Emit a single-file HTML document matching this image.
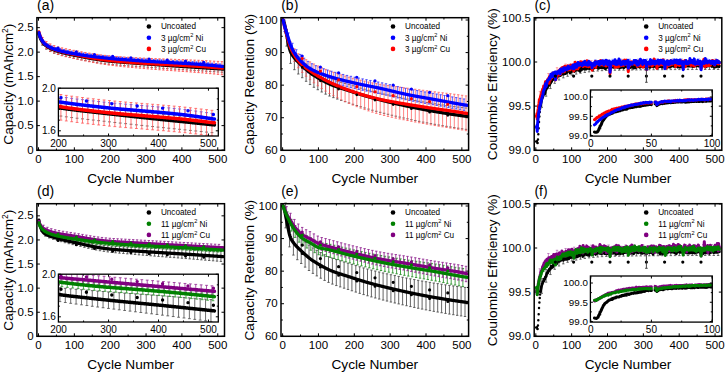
<!DOCTYPE html>
<html><head><meta charset="utf-8"><style>
html,body{margin:0;padding:0;background:#fff;overflow:hidden;}
svg{display:block;}
</style></head><body>
<svg width="725" height="372" viewBox="0 0 725 372" font-family='"Liberation Sans", sans-serif' fill="#000">
<rect width="725" height="372" fill="#fff"/>
<path d="M38.5 150.3v-3.0M38.5 17.7v3.0M74.35 150.3v-3.0M74.35 17.7v3.0M110.2 150.3v-3.0M110.2 17.7v3.0M146.05 150.3v-3.0M146.05 17.7v3.0M181.9 150.3v-3.0M181.9 17.7v3.0M217.75 150.3v-3.0M217.75 17.7v3.0" stroke="#000" stroke-width="1.0"/>
<path d="M56.42 150.3v-1.8M56.42 17.7v1.8M92.28 150.3v-1.8M92.28 17.7v1.8M128.12 150.3v-1.8M128.12 17.7v1.8M163.97 150.3v-1.8M163.97 17.7v1.8M199.82 150.3v-1.8M199.82 17.7v1.8" stroke="#000" stroke-width="1.0"/>
<path d="M36.9 150.1h3.0M224.5 150.1h-3.0M36.9 125.61h3.0M224.5 125.61h-3.0M36.9 101.12h3.0M224.5 101.12h-3.0M36.9 76.63h3.0M224.5 76.63h-3.0M36.9 52.14h3.0M224.5 52.14h-3.0M36.9 27.65h3.0M224.5 27.65h-3.0" stroke="#000" stroke-width="1.0"/>
<path d="" stroke="#000" stroke-width="1.0"/>
<text x="38.5" y="163.2" font-size="11.5" text-anchor="middle" >0</text>
<text x="74.35" y="163.2" font-size="11.5" text-anchor="middle" >100</text>
<text x="110.2" y="163.2" font-size="11.5" text-anchor="middle" >200</text>
<text x="146.05" y="163.2" font-size="11.5" text-anchor="middle" >300</text>
<text x="181.9" y="163.2" font-size="11.5" text-anchor="middle" >400</text>
<text x="217.75" y="163.2" font-size="11.5" text-anchor="middle" >500</text>
<text x="33.6" y="153.7" font-size="11.5" text-anchor="end" >0</text>
<text x="33.6" y="129.21" font-size="11.5" text-anchor="end" >0.5</text>
<text x="33.6" y="104.72" font-size="11.5" text-anchor="end" >1.0</text>
<text x="33.6" y="80.23" font-size="11.5" text-anchor="end" >1.5</text>
<text x="33.6" y="55.74" font-size="11.5" text-anchor="end" >2.0</text>
<text x="33.6" y="31.25" font-size="11.5" text-anchor="end" >2.5</text>
<text x="130.7" y="183.2" font-size="13.7" text-anchor="middle" >Cycle Number</text>
<text transform="translate(13.4,84.2) rotate(-90)" font-size="13.7" text-anchor="middle">Capacity (mAh/cm<tspan font-size="8.5" dy="-5">2</tspan><tspan dy="5">)</tspan></text>
<text x="37.1" y="9.8" font-size="14" text-anchor="start" >(a)</text>
<path d="M42.5 45.28V39.65M41.3 45.28h2.4M41.3 39.65h2.4M46.4 49.18V43.54M45.2 49.18h2.4M45.2 43.54h2.4M50.3 51.53V45.89M49.1 51.53h2.4M49.1 45.89h2.4M54.2 53.23V47.6M53 53.23h2.4M53 47.6h2.4M58.1 54.54V48.91M56.9 54.54h2.4M56.9 48.91h2.4M62 55.63V49.99M60.8 55.63h2.4M60.8 49.99h2.4M65.9 56.59V50.95M64.7 56.59h2.4M64.7 50.95h2.4M69.8 57.46V51.83M68.6 57.46h2.4M68.6 51.83h2.4M73.7 58.27V52.64M72.5 58.27h2.4M72.5 52.64h2.4" stroke="#4a4a4a" stroke-width="0.85" fill="none" opacity="1.0"/>
<path d="M76.4 59.04h2.4M76.4 53.41h2.4M80.3 59.81h2.4M80.3 54.18h2.4M84.2 60.57h2.4M84.2 54.94h2.4M88.1 61.29h2.4M88.1 55.66h2.4M92 61.97h2.4M92 56.34h2.4M95.9 62.6h2.4M95.9 56.96h2.4M99.8 63.16h2.4M99.8 57.53h2.4M103.7 63.68h2.4M103.7 58.04h2.4M107.6 64.14h2.4M107.6 58.5h2.4M111.5 64.54h2.4M111.5 58.91h2.4M115.4 64.9h2.4M115.4 59.27h2.4M119.3 65.23h2.4M119.3 59.59h2.4M123.2 65.53h2.4M123.2 59.9h2.4M127.1 65.82h2.4M127.1 60.18h2.4M131 66.1h2.4M131 60.46h2.4M134.9 66.37h2.4M134.9 60.74h2.4M138.8 66.65h2.4M138.8 61.01h2.4M142.7 66.92h2.4M142.7 61.29h2.4M146.6 67.21h2.4M146.6 61.57h2.4M150.5 67.49h2.4M150.5 61.85h2.4M154.4 67.76h2.4M154.4 62.13h2.4M158.3 68.04h2.4M158.3 62.41h2.4M162.2 68.31h2.4M162.2 62.68h2.4M166.1 68.58h2.4M166.1 62.95h2.4M170 68.85h2.4M170 63.22h2.4M173.9 69.12h2.4M173.9 63.48h2.4M177.8 69.38h2.4M177.8 63.75h2.4M181.7 69.64h2.4M181.7 64.01h2.4M185.6 69.9h2.4M185.6 64.26h2.4M189.5 70.15h2.4M189.5 64.52h2.4M193.4 70.4h2.4M193.4 64.77h2.4M197.3 70.65h2.4M197.3 65.02h2.4M201.2 70.91h2.4M201.2 65.28h2.4M205.1 71.17h2.4M205.1 65.53h2.4M209 71.42h2.4M209 65.79h2.4M212.9 71.68h2.4M212.9 66.05h2.4M216.8 71.94h2.4M216.8 66.31h2.4M220.7 72.19h2.4M220.7 66.56h2.4" stroke="#4a4a4a" stroke-width="0.85" fill="none" opacity="1.0"/>
<path d="M40.5 39.34V35.18M39.3 39.34h2.4M39.3 35.18h2.4M44.4 45.31V41.15M43.2 45.31h2.4M43.2 41.15h2.4M48.3 48.26V44.09M47.1 48.26h2.4M47.1 44.09h2.4M52.2 50.21V46.05M51 50.21h2.4M51 46.05h2.4M56.1 51.64V47.48M54.9 51.64h2.4M54.9 47.48h2.4M60 52.77V48.61M58.8 52.77h2.4M58.8 48.61h2.4M63.9 53.72V49.55M62.7 53.72h2.4M62.7 49.55h2.4M67.8 54.55V50.38M66.6 54.55h2.4M66.6 50.38h2.4M71.7 55.29V51.13M70.5 55.29h2.4M70.5 51.13h2.4M75.6 55.97V51.8M74.4 55.97h2.4M74.4 51.8h2.4M79.5 56.6V52.44M78.3 56.6h2.4M78.3 52.44h2.4M83.4 57.19V53.03M82.2 57.19h2.4M82.2 53.03h2.4M87.3 57.75V53.58M86.1 57.75h2.4M86.1 53.58h2.4M91.2 58.27V54.1M90 58.27h2.4M90 54.1h2.4M95.1 58.75V54.59M93.9 58.75h2.4M93.9 54.59h2.4M99 59.21V55.04M97.8 59.21h2.4M97.8 55.04h2.4M102.9 59.64V55.47M101.7 59.64h2.4M101.7 55.47h2.4M106.8 60.04V55.87M105.6 60.04h2.4M105.6 55.87h2.4M110.7 60.42V56.25M109.5 60.42h2.4M109.5 56.25h2.4M114.6 60.77V56.61M113.4 60.77h2.4M113.4 56.61h2.4M118.5 61.11V56.95M117.3 61.11h2.4M117.3 56.95h2.4M122.4 61.43V57.27M121.2 61.43h2.4M121.2 57.27h2.4M126.3 61.74V57.58M125.1 61.74h2.4M125.1 57.58h2.4M130.2 62.04V57.88M129 62.04h2.4M129 57.88h2.4M134.1 62.33V58.17M132.9 62.33h2.4M132.9 58.17h2.4M138 62.61V58.44M136.8 62.61h2.4M136.8 58.44h2.4M141.9 62.88V58.72M140.7 62.88h2.4M140.7 58.72h2.4M145.8 63.14V58.98M144.6 63.14h2.4M144.6 58.98h2.4M149.7 63.39V59.23M148.5 63.39h2.4M148.5 59.23h2.4M153.6 63.63V59.46M152.4 63.63h2.4M152.4 59.46h2.4M157.5 63.85V59.68M156.3 63.85h2.4M156.3 59.68h2.4M161.4 64.06V59.89M160.2 64.06h2.4M160.2 59.89h2.4M165.3 64.27V60.1M164.1 64.27h2.4M164.1 60.1h2.4M169.2 64.47V60.31M168 64.47h2.4M168 60.31h2.4M173.1 64.68V60.52M171.9 64.68h2.4M171.9 60.52h2.4M177 64.89V60.73M175.8 64.89h2.4M175.8 60.73h2.4M180.9 65.11V60.95M179.7 65.11h2.4M179.7 60.95h2.4M184.8 65.33V61.17M183.6 65.33h2.4M183.6 61.17h2.4M188.7 65.57V61.41M187.5 65.57h2.4M187.5 61.41h2.4M192.6 65.81V61.65M191.4 65.81h2.4M191.4 61.65h2.4M196.5 66.07V61.9M195.3 66.07h2.4M195.3 61.9h2.4M200.4 66.35V62.19M199.2 66.35h2.4M199.2 62.19h2.4M204.3 66.67V62.51M203.1 66.67h2.4M203.1 62.51h2.4M208.2 67.01V62.85M207 67.01h2.4M207 62.85h2.4M212.1 67.37V63.2M210.9 67.37h2.4M210.9 63.2h2.4M216 67.73V63.57M214.8 67.73h2.4M214.8 63.57h2.4M219.9 68.1V63.94M218.7 68.1h2.4M218.7 63.94h2.4" stroke="#3838ff" stroke-width="0.85" fill="none" opacity="1.0"/>
<path d="M42.5 44.49V37.5M41.3 44.49h2.4M41.3 37.5h2.4M46.4 48.71V41.58M45.2 48.71h2.4M45.2 41.58h2.4M50.3 51.22V43.96M49.1 51.22h2.4M49.1 43.96h2.4M54.2 53.03V45.64M53 53.03h2.4M53 45.64h2.4M58.1 54.41V46.88M56.9 54.41h2.4M56.9 46.88h2.4M62 55.56V47.9M60.8 55.56h2.4M60.8 47.9h2.4M65.9 56.58V48.79M64.7 56.58h2.4M64.7 48.79h2.4M69.8 57.52V49.59M68.6 57.52h2.4M68.6 49.59h2.4M73.7 58.4V50.34M72.5 58.4h2.4M72.5 50.34h2.4M77.6 59.25V51.05M76.4 59.25h2.4M76.4 51.05h2.4M81.5 60.1V51.78M80.3 60.1h2.4M80.3 51.78h2.4M85.4 60.95V52.49M84.2 60.95h2.4M84.2 52.49h2.4M89.3 61.76V53.17M88.1 61.76h2.4M88.1 53.17h2.4M93.2 62.53V53.8M92 62.53h2.4M92 53.8h2.4M97.1 63.24V54.38M95.9 63.24h2.4M95.9 54.38h2.4M101 63.9V54.9M99.8 63.9h2.4M99.8 54.9h2.4M104.9 64.49V55.37M103.7 64.49h2.4M103.7 55.37h2.4M108.8 65.04V55.78M107.6 65.04h2.4M107.6 55.78h2.4M112.7 65.53V56.13M111.5 65.53h2.4M111.5 56.13h2.4M116.6 65.98V56.45M115.4 65.98h2.4M115.4 56.45h2.4M120.5 66.4V56.74M119.3 66.4h2.4M119.3 56.74h2.4M124.4 66.79V57M123.2 66.79h2.4M123.2 57h2.4M128.3 67.17V57.25M127.1 67.17h2.4M127.1 57.25h2.4M132.2 67.53V57.47M131 67.53h2.4M131 57.47h2.4M136.1 67.88V57.69M134.9 67.88h2.4M134.9 57.69h2.4M140 68.23V57.9M138.8 68.23h2.4M138.8 57.9h2.4M143.9 68.56V58.1M142.7 68.56h2.4M142.7 58.1h2.4M147.8 68.89V58.3M146.6 68.89h2.4M146.6 58.3h2.4M151.7 69.2V58.48M150.5 69.2h2.4M150.5 58.48h2.4M155.6 69.5V58.64M154.4 69.5h2.4M154.4 58.64h2.4M159.5 69.78V58.79M158.3 69.78h2.4M158.3 58.79h2.4M163.4 70.06V58.93M162.2 70.06h2.4M162.2 58.93h2.4M167.3 70.33V59.07M166.1 70.33h2.4M166.1 59.07h2.4M171.2 70.6V59.21M170 70.6h2.4M170 59.21h2.4M175.1 70.87V59.35M173.9 70.87h2.4M173.9 59.35h2.4M179 71.15V59.49M177.8 71.15h2.4M177.8 59.49h2.4M182.9 71.43V59.64M181.7 71.43h2.4M181.7 59.64h2.4M186.8 71.71V59.79M185.6 71.71h2.4M185.6 59.79h2.4M190.7 72V59.95M189.5 72h2.4M189.5 59.95h2.4M194.6 72.3V60.11M193.4 72.3h2.4M193.4 60.11h2.4M198.5 72.61V60.29M197.3 72.61h2.4M197.3 60.29h2.4M202.4 72.94V60.48M201.2 72.94h2.4M201.2 60.48h2.4M206.3 73.29V60.7M205.1 73.29h2.4M205.1 60.7h2.4M210.2 73.65V60.93M209 73.65h2.4M209 60.93h2.4M214.1 74.01V61.16M212.9 74.01h2.4M212.9 61.16h2.4M218 74.38V61.39M216.8 74.38h2.4M216.8 61.39h2.4M221.9 74.75V61.63M220.7 74.75h2.4M220.7 61.63h2.4" stroke="#ff5050" stroke-width="0.85" fill="none" opacity="1.0"/>
<polyline points="38.86,33.53 39.22,34.91 39.58,36.14 39.93,37.12 40.29,37.94 40.65,38.7 41.01,39.45 41.37,40.17 41.73,40.84 42.09,41.45 42.44,42.02 42.8,42.53 43.16,43 43.52,43.42 43.88,43.81 44.24,44.17 44.59,44.51 44.95,44.84 45.31,45.14 45.67,45.44 46.03,45.72 46.39,45.98 46.75,46.24 47.1,46.49 47.46,46.72 47.82,46.95 48.18,47.17 48.54,47.39 48.9,47.59 49.25,47.79 49.61,47.99 49.97,48.17 50.33,48.36 50.69,48.53 51.05,48.71 51.41,48.88 51.76,49.04 52.12,49.2 52.48,49.36 52.84,49.51 53.2,49.66 53.56,49.8 53.92,49.94 54.27,50.07 54.63,50.21 54.99,50.34 55.35,50.46 55.71,50.59 56.07,50.71 56.42,50.83 56.78,50.94 57.14,51.06 57.5,51.17 57.86,51.28 58.22,51.39 58.58,51.5 58.93,51.6 59.29,51.71 59.65,51.81 60.01,51.91 60.37,52.01 60.73,52.11 61.09,52.2 61.44,52.3 61.8,52.39 62.16,52.49 62.52,52.58 62.88,52.67 63.24,52.76 63.59,52.85 63.95,52.94 64.31,53.02 64.67,53.11 65.03,53.2 65.39,53.28 65.75,53.37 66.1,53.45 66.46,53.53 66.82,53.61 67.18,53.7 67.54,53.78 67.9,53.86 68.26,53.94 68.61,54.02 68.97,54.09 69.33,54.17 69.69,54.25 70.05,54.33 70.41,54.4 70.77,54.48 71.12,54.56 71.48,54.63 71.84,54.7 72.2,54.78 72.56,54.85 72.92,54.93 73.27,55 73.63,55.07 73.99,55.14 74.35,55.22 74.71,55.29 75.07,55.36 75.43,55.43 75.78,55.5 76.14,55.57 76.5,55.64 76.86,55.71 77.22,55.78 77.58,55.85 77.94,55.92 78.29,55.99 78.65,56.06 79.01,56.13 79.37,56.21 79.73,56.28 80.09,56.35 80.44,56.42 80.8,56.49 81.16,56.56 81.52,56.63 81.88,56.7 82.24,56.77 82.6,56.84 82.95,56.91 83.31,56.98 83.67,57.05 84.03,57.12 84.39,57.19 84.75,57.26 85.1,57.33 85.46,57.4 85.82,57.47 86.18,57.54 86.54,57.6 86.9,57.67 87.26,57.74 87.61,57.8 87.97,57.87 88.33,57.94 88.69,58 89.05,58.07 89.41,58.13 89.77,58.19 90.12,58.26 90.48,58.32 90.84,58.38 91.2,58.45 91.56,58.51 91.92,58.57 92.28,58.63 92.63,58.69 92.99,58.75 93.35,58.81 93.71,58.87 94.07,58.93 94.43,58.99 94.78,59.05 95.14,59.11 95.5,59.16 95.86,59.22 96.22,59.28 96.58,59.33 96.94,59.39 97.29,59.44 97.65,59.5 98.01,59.55 98.37,59.6 98.73,59.66 99.09,59.71 99.44,59.76 99.8,59.81 100.16,59.86 100.52,59.91 100.88,59.96 101.24,60.01 101.6,60.06 101.95,60.11 102.31,60.16 102.67,60.21 103.03,60.25 103.39,60.3 103.75,60.35 104.11,60.39 104.46,60.44 104.82,60.48 105.18,60.53 105.54,60.57 105.9,60.62 106.26,60.66 106.61,60.7 106.97,60.74 107.33,60.79 107.69,60.83 108.05,60.87 108.41,60.91 108.77,60.95 109.12,60.99 109.48,61.03 109.84,61.07 110.2,61.1 110.56,61.14 110.92,61.18 111.28,61.21 111.63,61.25 111.99,61.29 112.35,61.32 112.71,61.36 113.07,61.39 113.43,61.43 113.78,61.46 114.14,61.49 114.5,61.53 114.86,61.56 115.22,61.59 115.58,61.63 115.94,61.66 116.29,61.69 116.65,61.72 117.01,61.75 117.37,61.78 117.73,61.81 118.09,61.84 118.45,61.87 118.8,61.9 119.16,61.93 119.52,61.96 119.88,61.99 120.24,62.02 120.6,62.05 120.95,62.08 121.31,62.11 121.67,62.14 122.03,62.16 122.39,62.19 122.75,62.22 123.11,62.25 123.46,62.27 123.82,62.3 124.18,62.33 124.54,62.36 124.9,62.38 125.26,62.41 125.62,62.44 125.97,62.46 126.33,62.49 126.69,62.52 127.05,62.54 127.41,62.57 127.77,62.59 128.12,62.62 128.48,62.65 128.84,62.67 129.2,62.7 129.56,62.72 129.92,62.75 130.28,62.78 130.63,62.8 130.99,62.83 131.35,62.85 131.71,62.88 132.07,62.9 132.43,62.93 132.79,62.95 133.14,62.98 133.5,63.01 133.86,63.03 134.22,63.06 134.58,63.08 134.94,63.11 135.3,63.13 135.65,63.16 136.01,63.18 136.37,63.21 136.73,63.23 137.09,63.26 137.45,63.28 137.8,63.31 138.16,63.33 138.52,63.36 138.88,63.38 139.24,63.41 139.6,63.43 139.96,63.46 140.31,63.49 140.67,63.51 141.03,63.54 141.39,63.56 141.75,63.59 142.11,63.61 142.46,63.64 142.82,63.66 143.18,63.69 143.54,63.71 143.9,63.74 144.26,63.77 144.62,63.79 144.97,63.82 145.33,63.84 145.69,63.87 146.05,63.9 146.41,63.92 146.77,63.95 147.13,63.97 147.48,64 147.84,64.02 148.2,64.05 148.56,64.08 148.92,64.1 149.28,64.13 149.63,64.15 149.99,64.18 150.35,64.21 150.71,64.23 151.07,64.26 151.43,64.28 151.79,64.31 152.14,64.33 152.5,64.36 152.86,64.39 153.22,64.41 153.58,64.44 153.94,64.46 154.3,64.49 154.65,64.51 155.01,64.54 155.37,64.56 155.73,64.59 156.09,64.61 156.45,64.64 156.81,64.67 157.16,64.69 157.52,64.72 157.88,64.74 158.24,64.77 158.6,64.79 158.96,64.82 159.31,64.84 159.67,64.87 160.03,64.89 160.39,64.92 160.75,64.94 161.11,64.97 161.47,64.99 161.82,65.02 162.18,65.04 162.54,65.07 162.9,65.09 163.26,65.12 163.62,65.14 163.97,65.17 164.33,65.19 164.69,65.22 165.05,65.24 165.41,65.27 165.77,65.29 166.13,65.32 166.48,65.34 166.84,65.37 167.2,65.39 167.56,65.42 167.92,65.44 168.28,65.47 168.64,65.49 168.99,65.52 169.35,65.54 169.71,65.56 170.07,65.59 170.43,65.61 170.79,65.64 171.14,65.66 171.5,65.69 171.86,65.71 172.22,65.74 172.58,65.76 172.94,65.79 173.3,65.81 173.65,65.83 174.01,65.86 174.37,65.88 174.73,65.91 175.09,65.93 175.45,65.96 175.81,65.98 176.16,66 176.52,66.03 176.88,66.05 177.24,66.08 177.6,66.1 177.96,66.12 178.31,66.15 178.67,66.17 179.03,66.2 179.39,66.22 179.75,66.24 180.11,66.27 180.47,66.29 180.82,66.32 181.18,66.34 181.54,66.36 181.9,66.39 182.26,66.41 182.62,66.44 182.98,66.46 183.33,66.48 183.69,66.51 184.05,66.53 184.41,66.55 184.77,66.58 185.13,66.6 185.48,66.62 185.84,66.65 186.2,66.67 186.56,66.7 186.92,66.72 187.28,66.74 187.64,66.77 187.99,66.79 188.35,66.81 188.71,66.84 189.07,66.86 189.43,66.88 189.79,66.91 190.15,66.93 190.5,66.95 190.86,66.98 191.22,67 191.58,67.02 191.94,67.05 192.3,67.07 192.66,67.09 193.01,67.12 193.37,67.14 193.73,67.16 194.09,67.19 194.45,67.21 194.81,67.23 195.16,67.25 195.52,67.28 195.88,67.3 196.24,67.32 196.6,67.35 196.96,67.37 197.32,67.39 197.67,67.42 198.03,67.44 198.39,67.46 198.75,67.49 199.11,67.51 199.47,67.53 199.82,67.56 200.18,67.58 200.54,67.6 200.9,67.63 201.26,67.65 201.62,67.67 201.98,67.7 202.33,67.72 202.69,67.74 203.05,67.77 203.41,67.79 203.77,67.81 204.13,67.84 204.49,67.86 204.84,67.89 205.2,67.91 205.56,67.93 205.92,67.96 206.28,67.98 206.64,68 207,68.03 207.35,68.05 207.71,68.08 208.07,68.1 208.43,68.12 208.79,68.15 209.15,68.17 209.5,68.19 209.86,68.22 210.22,68.24 210.58,68.27 210.94,68.29 211.3,68.31 211.66,68.34 212.01,68.36 212.37,68.38 212.73,68.41 213.09,68.43 213.45,68.46 213.81,68.48 214.16,68.5 214.52,68.53 214.88,68.55 215.24,68.57 215.6,68.6 215.96,68.62 216.32,68.64 216.67,68.67 217.03,68.69 217.39,68.71 217.75,68.74 218.11,68.76 218.47,68.79 218.83,68.81 219.18,68.83 219.54,68.86 219.9,68.88 220.26,68.9 220.62,68.93 220.98,68.95 221.33,68.97 221.69,68.99 222.05,69.02 222.41,69.04 222.77,69.06 223.13,69.09" fill="none" stroke="#000000" stroke-width="3.3" stroke-linejoin="round" stroke-linecap="round" />
<polyline points="38.86,31.81 39.22,33.25 39.58,34.55 39.93,35.6 40.29,36.47 40.65,37.28 41.01,38.11 41.37,38.89 41.73,39.62 42.09,40.29 42.44,40.9 42.8,41.45 43.16,41.96 43.52,42.42 43.88,42.83 44.24,43.22 44.59,43.58 44.95,43.92 45.31,44.24 45.67,44.55 46.03,44.85 46.39,45.13 46.75,45.4 47.1,45.66 47.46,45.9 47.82,46.14 48.18,46.37 48.54,46.59 48.9,46.81 49.25,47.02 49.61,47.22 49.97,47.41 50.33,47.6 50.69,47.78 51.05,47.96 51.41,48.13 51.76,48.3 52.12,48.47 52.48,48.63 52.84,48.78 53.2,48.93 53.56,49.07 53.92,49.22 54.27,49.35 54.63,49.49 54.99,49.62 55.35,49.74 55.71,49.87 56.07,49.99 56.42,50.11 56.78,50.22 57.14,50.34 57.5,50.45 57.86,50.56 58.22,50.67 58.58,50.77 58.93,50.88 59.29,50.98 59.65,51.08 60.01,51.18 60.37,51.28 60.73,51.38 61.09,51.47 61.44,51.57 61.8,51.66 62.16,51.75 62.52,51.85 62.88,51.94 63.24,52.03 63.59,52.11 63.95,52.2 64.31,52.29 64.67,52.37 65.03,52.46 65.39,52.54 65.75,52.63 66.1,52.71 66.46,52.79 66.82,52.88 67.18,52.96 67.54,53.04 67.9,53.12 68.26,53.2 68.61,53.28 68.97,53.35 69.33,53.43 69.69,53.51 70.05,53.59 70.41,53.66 70.77,53.74 71.12,53.81 71.48,53.89 71.84,53.96 72.2,54.04 72.56,54.11 72.92,54.19 73.27,54.26 73.63,54.33 73.99,54.4 74.35,54.48 74.71,54.55 75.07,54.62 75.43,54.69 75.78,54.76 76.14,54.83 76.5,54.9 76.86,54.98 77.22,55.05 77.58,55.12 77.94,55.19 78.29,55.26 78.65,55.34 79.01,55.41 79.37,55.48 79.73,55.55 80.09,55.63 80.44,55.7 80.8,55.77 81.16,55.84 81.52,55.92 81.88,55.99 82.24,56.06 82.6,56.13 82.95,56.2 83.31,56.28 83.67,56.35 84.03,56.42 84.39,56.49 84.75,56.56 85.1,56.63 85.46,56.7 85.82,56.77 86.18,56.84 86.54,56.91 86.9,56.98 87.26,57.05 87.61,57.12 87.97,57.18 88.33,57.25 88.69,57.32 89.05,57.38 89.41,57.45 89.77,57.52 90.12,57.58 90.48,57.65 90.84,57.71 91.2,57.78 91.56,57.84 91.92,57.9 92.28,57.97 92.63,58.03 92.99,58.09 93.35,58.15 93.71,58.21 94.07,58.28 94.43,58.34 94.78,58.4 95.14,58.46 95.5,58.51 95.86,58.57 96.22,58.63 96.58,58.69 96.94,58.74 97.29,58.8 97.65,58.86 98.01,58.91 98.37,58.97 98.73,59.02 99.09,59.08 99.44,59.13 99.8,59.18 100.16,59.24 100.52,59.29 100.88,59.34 101.24,59.39 101.6,59.44 101.95,59.49 102.31,59.54 102.67,59.59 103.03,59.64 103.39,59.69 103.75,59.74 104.11,59.78 104.46,59.83 104.82,59.88 105.18,59.92 105.54,59.97 105.9,60.01 106.26,60.06 106.61,60.1 106.97,60.14 107.33,60.19 107.69,60.23 108.05,60.27 108.41,60.31 108.77,60.36 109.12,60.4 109.48,60.44 109.84,60.48 110.2,60.52 110.56,60.55 110.92,60.59 111.28,60.63 111.63,60.67 111.99,60.71 112.35,60.74 112.71,60.78 113.07,60.82 113.43,60.85 113.78,60.89 114.14,60.92 114.5,60.96 114.86,60.99 115.22,61.03 115.58,61.06 115.94,61.1 116.29,61.13 116.65,61.17 117.01,61.2 117.37,61.23 117.73,61.26 118.09,61.3 118.45,61.33 118.8,61.36 119.16,61.39 119.52,61.43 119.88,61.46 120.24,61.49 120.6,61.52 120.95,61.55 121.31,61.58 121.67,61.61 122.03,61.64 122.39,61.67 122.75,61.7 123.11,61.73 123.46,61.76 123.82,61.79 124.18,61.82 124.54,61.85 124.9,61.88 125.26,61.91 125.62,61.94 125.97,61.96 126.33,61.99 126.69,62.02 127.05,62.05 127.41,62.08 127.77,62.11 128.12,62.13 128.48,62.16 128.84,62.19 129.2,62.22 129.56,62.24 129.92,62.27 130.28,62.3 130.63,62.32 130.99,62.35 131.35,62.38 131.71,62.4 132.07,62.43 132.43,62.46 132.79,62.48 133.14,62.51 133.5,62.53 133.86,62.56 134.22,62.59 134.58,62.61 134.94,62.64 135.3,62.66 135.65,62.69 136.01,62.71 136.37,62.74 136.73,62.77 137.09,62.79 137.45,62.82 137.8,62.84 138.16,62.87 138.52,62.89 138.88,62.92 139.24,62.94 139.6,62.97 139.96,62.99 140.31,63.02 140.67,63.04 141.03,63.07 141.39,63.09 141.75,63.11 142.11,63.14 142.46,63.16 142.82,63.19 143.18,63.21 143.54,63.24 143.9,63.26 144.26,63.28 144.62,63.31 144.97,63.33 145.33,63.36 145.69,63.38 146.05,63.41 146.41,63.43 146.77,63.45 147.13,63.48 147.48,63.5 147.84,63.52 148.2,63.55 148.56,63.57 148.92,63.59 149.28,63.61 149.63,63.64 149.99,63.66 150.35,63.68 150.71,63.7 151.07,63.72 151.43,63.75 151.79,63.77 152.14,63.79 152.5,63.81 152.86,63.83 153.22,63.85 153.58,63.87 153.94,63.89 154.3,63.91 154.65,63.93 155.01,63.96 155.37,63.98 155.73,64 156.09,64.02 156.45,64.04 156.81,64.06 157.16,64.08 157.52,64.1 157.88,64.12 158.24,64.13 158.6,64.15 158.96,64.17 159.31,64.19 159.67,64.21 160.03,64.23 160.39,64.25 160.75,64.27 161.11,64.29 161.47,64.31 161.82,64.33 162.18,64.35 162.54,64.37 162.9,64.38 163.26,64.4 163.62,64.42 163.97,64.44 164.33,64.46 164.69,64.48 165.05,64.5 165.41,64.52 165.77,64.53 166.13,64.55 166.48,64.57 166.84,64.59 167.2,64.61 167.56,64.63 167.92,64.65 168.28,64.67 168.64,64.68 168.99,64.7 169.35,64.72 169.71,64.74 170.07,64.76 170.43,64.78 170.79,64.8 171.14,64.81 171.5,64.83 171.86,64.85 172.22,64.87 172.58,64.89 172.94,64.91 173.3,64.93 173.65,64.94 174.01,64.96 174.37,64.98 174.73,65 175.09,65.02 175.45,65.04 175.81,65.06 176.16,65.08 176.52,65.09 176.88,65.11 177.24,65.13 177.6,65.15 177.96,65.17 178.31,65.19 178.67,65.21 179.03,65.23 179.39,65.25 179.75,65.26 180.11,65.28 180.47,65.3 180.82,65.32 181.18,65.34 181.54,65.36 181.9,65.38 182.26,65.4 182.62,65.42 182.98,65.44 183.33,65.46 183.69,65.48 184.05,65.5 184.41,65.52 184.77,65.54 185.13,65.56 185.48,65.58 185.84,65.6 186.2,65.62 186.56,65.64 186.92,65.66 187.28,65.68 187.64,65.7 187.99,65.72 188.35,65.74 188.71,65.76 189.07,65.78 189.43,65.8 189.79,65.82 190.15,65.84 190.5,65.86 190.86,65.88 191.22,65.9 191.58,65.92 191.94,65.94 192.3,65.96 192.66,65.98 193.01,66 193.37,66.03 193.73,66.05 194.09,66.07 194.45,66.09 194.81,66.11 195.16,66.13 195.52,66.15 195.88,66.18 196.24,66.2 196.6,66.22 196.96,66.24 197.32,66.26 197.67,66.29 198.03,66.31 198.39,66.33 198.75,66.35 199.11,66.38 199.47,66.4 199.82,66.42 200.18,66.45 200.54,66.47 200.9,66.5 201.26,66.52 201.62,66.55 201.98,66.57 202.33,66.6 202.69,66.62 203.05,66.65 203.41,66.67 203.77,66.7 204.13,66.72 204.49,66.75 204.84,66.77 205.2,66.8 205.56,66.82 205.92,66.85 206.28,66.88 206.64,66.9 207,66.93 207.35,66.96 207.71,66.98 208.07,67.01 208.43,67.04 208.79,67.06 209.15,67.09 209.5,67.12 209.86,67.14 210.22,67.17 210.58,67.2 210.94,67.22 211.3,67.25 211.66,67.28 212.01,67.31 212.37,67.33 212.73,67.36 213.09,67.39 213.45,67.42 213.81,67.44 214.16,67.47 214.52,67.5 214.88,67.53 215.24,67.55 215.6,67.58 215.96,67.61 216.32,67.64 216.67,67.66 217.03,67.69 217.39,67.72 217.75,67.75 218.11,67.77 218.47,67.8 218.83,67.83 219.18,67.86 219.54,67.88 219.9,67.91 220.26,67.94 220.62,67.97 220.98,67.99 221.33,68.02 221.69,68.05 222.05,68.07 222.41,68.1 222.77,68.13 223.13,68.16" fill="none" stroke="#ff0000" stroke-width="3.3" stroke-linejoin="round" stroke-linecap="round" />
<polyline points="38.86,32.79 39.22,34.05 39.58,35.22 39.93,36.17 40.29,36.96 40.65,37.7 41.01,38.45 41.37,39.17 41.73,39.84 42.09,40.46 42.44,41.03 42.8,41.54 43.16,42.02 43.52,42.44 43.88,42.83 44.24,43.2 44.59,43.54 44.95,43.86 45.31,44.17 45.67,44.47 46.03,44.75 46.39,45.02 46.75,45.28 47.1,45.53 47.46,45.77 47.82,46 48.18,46.22 48.54,46.44 48.9,46.64 49.25,46.84 49.61,47.03 49.97,47.22 50.33,47.4 50.69,47.57 51.05,47.74 51.41,47.91 51.76,48.07 52.12,48.22 52.48,48.37 52.84,48.52 53.2,48.66 53.56,48.8 53.92,48.93 54.27,49.06 54.63,49.19 54.99,49.31 55.35,49.44 55.71,49.55 56.07,49.67 56.42,49.79 56.78,49.9 57.14,50.01 57.5,50.11 57.86,50.22 58.22,50.32 58.58,50.42 58.93,50.52 59.29,50.62 59.65,50.72 60.01,50.81 60.37,50.91 60.73,51 61.09,51.09 61.44,51.18 61.8,51.27 62.16,51.35 62.52,51.44 62.88,51.52 63.24,51.61 63.59,51.69 63.95,51.77 64.31,51.85 64.67,51.93 65.03,52.01 65.39,52.09 65.75,52.16 66.1,52.24 66.46,52.31 66.82,52.39 67.18,52.46 67.54,52.53 67.9,52.61 68.26,52.68 68.61,52.75 68.97,52.82 69.33,52.89 69.69,52.96 70.05,53.02 70.41,53.09 70.77,53.16 71.12,53.22 71.48,53.29 71.84,53.35 72.2,53.42 72.56,53.48 72.92,53.55 73.27,53.61 73.63,53.67 73.99,53.74 74.35,53.8 74.71,53.86 75.07,53.92 75.43,53.98 75.78,54.04 76.14,54.1 76.5,54.16 76.86,54.22 77.22,54.28 77.58,54.33 77.94,54.39 78.29,54.45 78.65,54.51 79.01,54.56 79.37,54.62 79.73,54.68 80.09,54.73 80.44,54.79 80.8,54.84 81.16,54.9 81.52,54.95 81.88,55.01 82.24,55.06 82.6,55.11 82.95,55.17 83.31,55.22 83.67,55.27 84.03,55.32 84.39,55.38 84.75,55.43 85.1,55.48 85.46,55.53 85.82,55.58 86.18,55.63 86.54,55.68 86.9,55.73 87.26,55.78 87.61,55.83 87.97,55.88 88.33,55.93 88.69,55.98 89.05,56.02 89.41,56.07 89.77,56.12 90.12,56.17 90.48,56.21 90.84,56.26 91.2,56.31 91.56,56.35 91.92,56.4 92.28,56.44 92.63,56.49 92.99,56.53 93.35,56.58 93.71,56.62 94.07,56.67 94.43,56.71 94.78,56.75 95.14,56.8 95.5,56.84 95.86,56.88 96.22,56.93 96.58,56.97 96.94,57.01 97.29,57.05 97.65,57.09 98.01,57.14 98.37,57.18 98.73,57.22 99.09,57.26 99.44,57.3 99.8,57.34 100.16,57.38 100.52,57.42 100.88,57.46 101.24,57.5 101.6,57.54 101.95,57.58 102.31,57.61 102.67,57.65 103.03,57.69 103.39,57.73 103.75,57.77 104.11,57.8 104.46,57.84 104.82,57.88 105.18,57.91 105.54,57.95 105.9,57.99 106.26,58.02 106.61,58.06 106.97,58.1 107.33,58.13 107.69,58.17 108.05,58.2 108.41,58.24 108.77,58.27 109.12,58.31 109.48,58.34 109.84,58.38 110.2,58.41 110.56,58.44 110.92,58.48 111.28,58.51 111.63,58.54 111.99,58.58 112.35,58.61 112.71,58.64 113.07,58.68 113.43,58.71 113.78,58.74 114.14,58.77 114.5,58.8 114.86,58.84 115.22,58.87 115.58,58.9 115.94,58.93 116.29,58.96 116.65,58.99 117.01,59.02 117.37,59.06 117.73,59.09 118.09,59.12 118.45,59.15 118.8,59.18 119.16,59.21 119.52,59.24 119.88,59.27 120.24,59.3 120.6,59.33 120.95,59.36 121.31,59.39 121.67,59.41 122.03,59.44 122.39,59.47 122.75,59.5 123.11,59.53 123.46,59.56 123.82,59.59 124.18,59.62 124.54,59.65 124.9,59.67 125.26,59.7 125.62,59.73 125.97,59.76 126.33,59.79 126.69,59.81 127.05,59.84 127.41,59.87 127.77,59.9 128.12,59.92 128.48,59.95 128.84,59.98 129.2,60.01 129.56,60.03 129.92,60.06 130.28,60.09 130.63,60.11 130.99,60.14 131.35,60.17 131.71,60.19 132.07,60.22 132.43,60.25 132.79,60.27 133.14,60.3 133.5,60.33 133.86,60.35 134.22,60.38 134.58,60.4 134.94,60.43 135.3,60.46 135.65,60.48 136.01,60.51 136.37,60.53 136.73,60.56 137.09,60.58 137.45,60.61 137.8,60.63 138.16,60.66 138.52,60.69 138.88,60.71 139.24,60.74 139.6,60.76 139.96,60.79 140.31,60.81 140.67,60.84 141.03,60.86 141.39,60.88 141.75,60.91 142.11,60.93 142.46,60.96 142.82,60.98 143.18,61.01 143.54,61.03 143.9,61.06 144.26,61.08 144.62,61.1 144.97,61.13 145.33,61.15 145.69,61.18 146.05,61.2 146.41,61.23 146.77,61.25 147.13,61.27 147.48,61.3 147.84,61.32 148.2,61.34 148.56,61.36 148.92,61.39 149.28,61.41 149.63,61.43 149.99,61.45 150.35,61.48 150.71,61.5 151.07,61.52 151.43,61.54 151.79,61.56 152.14,61.58 152.5,61.6 152.86,61.63 153.22,61.65 153.58,61.67 153.94,61.69 154.3,61.71 154.65,61.73 155.01,61.75 155.37,61.77 155.73,61.79 156.09,61.81 156.45,61.83 156.81,61.85 157.16,61.87 157.52,61.89 157.88,61.91 158.24,61.93 158.6,61.95 158.96,61.97 159.31,61.99 159.67,62.01 160.03,62.03 160.39,62.04 160.75,62.06 161.11,62.08 161.47,62.1 161.82,62.12 162.18,62.14 162.54,62.16 162.9,62.18 163.26,62.2 163.62,62.22 163.97,62.24 164.33,62.25 164.69,62.27 165.05,62.29 165.41,62.31 165.77,62.33 166.13,62.35 166.48,62.37 166.84,62.39 167.2,62.41 167.56,62.43 167.92,62.44 168.28,62.46 168.64,62.48 168.99,62.5 169.35,62.52 169.71,62.54 170.07,62.56 170.43,62.58 170.79,62.6 171.14,62.62 171.5,62.63 171.86,62.65 172.22,62.67 172.58,62.69 172.94,62.71 173.3,62.73 173.65,62.75 174.01,62.77 174.37,62.79 174.73,62.81 175.09,62.83 175.45,62.85 175.81,62.87 176.16,62.89 176.52,62.91 176.88,62.93 177.24,62.94 177.6,62.96 177.96,62.98 178.31,63 178.67,63.02 179.03,63.04 179.39,63.06 179.75,63.08 180.11,63.1 180.47,63.12 180.82,63.15 181.18,63.17 181.54,63.19 181.9,63.21 182.26,63.23 182.62,63.25 182.98,63.27 183.33,63.29 183.69,63.31 184.05,63.33 184.41,63.35 184.77,63.37 185.13,63.39 185.48,63.42 185.84,63.44 186.2,63.46 186.56,63.48 186.92,63.5 187.28,63.52 187.64,63.54 187.99,63.57 188.35,63.59 188.71,63.61 189.07,63.63 189.43,63.65 189.79,63.68 190.15,63.7 190.5,63.72 190.86,63.74 191.22,63.77 191.58,63.79 191.94,63.81 192.3,63.83 192.66,63.86 193.01,63.88 193.37,63.9 193.73,63.93 194.09,63.95 194.45,63.97 194.81,64 195.16,64.02 195.52,64.04 195.88,64.07 196.24,64.09 196.6,64.12 196.96,64.14 197.32,64.16 197.67,64.19 198.03,64.22 198.39,64.24 198.75,64.27 199.11,64.29 199.47,64.32 199.82,64.35 200.18,64.38 200.54,64.4 200.9,64.43 201.26,64.46 201.62,64.49 201.98,64.52 202.33,64.55 202.69,64.57 203.05,64.6 203.41,64.63 203.77,64.66 204.13,64.69 204.49,64.72 204.84,64.76 205.2,64.79 205.56,64.82 205.92,64.85 206.28,64.88 206.64,64.91 207,64.94 207.35,64.98 207.71,65.01 208.07,65.04 208.43,65.07 208.79,65.1 209.15,65.14 209.5,65.17 209.86,65.2 210.22,65.23 210.58,65.27 210.94,65.3 211.3,65.33 211.66,65.37 212.01,65.4 212.37,65.43 212.73,65.47 213.09,65.5 213.45,65.53 213.81,65.57 214.16,65.6 214.52,65.63 214.88,65.67 215.24,65.7 215.6,65.74 215.96,65.77 216.32,65.8 216.67,65.84 217.03,65.87 217.39,65.9 217.75,65.94 218.11,65.97 218.47,66.01 218.83,66.04 219.18,66.07 219.54,66.11 219.9,66.14 220.26,66.17 220.62,66.21 220.98,66.24 221.33,66.28 221.69,66.31 222.05,66.34 222.41,66.38 222.77,66.41 223.13,66.44" fill="none" stroke="#0000ff" stroke-width="3.3" stroke-linejoin="round" stroke-linecap="round" />
<path d="M56.5 48.09a1.6 1.6 0 1 0 3.2 0a1.6 1.6 0 1 0 -3.2 0M74.7 51.93a1.6 1.6 0 1 0 3.2 0a1.6 1.6 0 1 0 -3.2 0M92.9 54.52a1.6 1.6 0 1 0 3.2 0a1.6 1.6 0 1 0 -3.2 0M111.1 56.44a1.6 1.6 0 1 0 3.2 0a1.6 1.6 0 1 0 -3.2 0M129.3 57.93a1.6 1.6 0 1 0 3.2 0a1.6 1.6 0 1 0 -3.2 0M147.5 59.2a1.6 1.6 0 1 0 3.2 0a1.6 1.6 0 1 0 -3.2 0M165.7 60.21a1.6 1.6 0 1 0 3.2 0a1.6 1.6 0 1 0 -3.2 0M183.9 61.22a1.6 1.6 0 1 0 3.2 0a1.6 1.6 0 1 0 -3.2 0M202.1 62.46a1.6 1.6 0 1 0 3.2 0a1.6 1.6 0 1 0 -3.2 0" fill="#0000ff"/>
<circle cx="148.9" cy="26.5" r="2.3" fill="#000000"/>
<text x="160.9" y="29.4" font-size="8.2" text-anchor="start" >Uncoated</text>
<circle cx="148.9" cy="37.7" r="2.3" fill="#0000ff"/>
<text x="160.9" y="40.6" font-size="8.2" text-anchor="start" >3 µg/cm<tspan font-size="5.6" dy="-3.2">2</tspan><tspan dy="3.2"> Ni</tspan></text>
<circle cx="148.9" cy="48.9" r="2.3" fill="#ff0000"/>
<text x="160.9" y="51.8" font-size="8.2" text-anchor="start" >3 µg/cm<tspan font-size="5.6" dy="-3.2">2</tspan><tspan dy="3.2"> Cu</tspan></text>
<rect x="58.4" y="88.2" width="159.9" height="47.8" fill="#fff"/>
<clipPath id="ica"><rect x="58.4" y="88.2" width="159.9" height="47.8"/></clipPath>
<g clip-path="url(#ica)">
<path d="M59.5 116.05h2.8M59.5 102.73h2.8M64.89 116.84h2.8M64.89 103.53h2.8M70.29 117.56h2.8M70.29 104.25h2.8M75.68 118.22h2.8M75.68 104.91h2.8M81.08 118.85h2.8M81.08 105.54h2.8M86.47 119.46h2.8M86.47 106.15h2.8M91.87 120.05h2.8M91.87 106.74h2.8M97.26 120.65h2.8M97.26 107.33h2.8M102.66 121.24h2.8M102.66 107.93h2.8M108.05 121.85h2.8M108.05 108.54h2.8M113.45 122.46h2.8M113.45 109.14h2.8M118.84 123.06h2.8M118.84 109.75h2.8M124.24 123.65h2.8M124.24 110.34h2.8M129.63 124.24h2.8M129.63 110.93h2.8M135.02 124.83h2.8M135.02 111.52h2.8M140.42 125.41h2.8M140.42 112.1h2.8M145.81 125.98h2.8M145.81 112.67h2.8M151.21 126.55h2.8M151.21 113.24h2.8M156.6 127.12h2.8M156.6 113.8h2.8M162 127.67h2.8M162 114.36h2.8M167.39 128.22h2.8M167.39 114.91h2.8M172.79 128.77h2.8M172.79 115.46h2.8M178.18 129.31h2.8M178.18 116h2.8M183.58 129.86h2.8M183.58 116.55h2.8M188.97 130.41h2.8M188.97 117.1h2.8M194.37 130.97h2.8M194.37 117.66h2.8M199.76 131.53h2.8M199.76 118.22h2.8M205.15 132.08h2.8M205.15 118.77h2.8M210.55 132.63h2.8M210.55 119.32h2.8" stroke="#4a4a4a" stroke-width="0.8" fill="none" opacity="1.0"/>
<path d="M60.9 107.49V96.84M59.5 107.49h2.8M59.5 96.84h2.8M66.29 108.25V97.6M64.89 108.25h2.8M64.89 97.6h2.8M71.69 108.97V98.32M70.29 108.97h2.8M70.29 98.32h2.8M77.08 109.66V99.01M75.68 109.66h2.8M75.68 99.01h2.8M82.48 110.32V99.67M81.08 110.32h2.8M81.08 99.67h2.8M87.87 110.96V100.31M86.47 110.96h2.8M86.47 100.31h2.8M93.27 111.57V100.92M91.87 111.57h2.8M91.87 100.92h2.8M98.66 112.17V101.52M97.26 112.17h2.8M97.26 101.52h2.8M104.06 112.75V102.1M102.66 112.75h2.8M102.66 102.1h2.8M109.45 113.32V102.67M108.05 113.32h2.8M108.05 102.67h2.8M114.85 113.85V103.2M113.45 113.85h2.8M113.45 103.2h2.8M120.24 114.35V103.7M118.84 114.35h2.8M118.84 103.7h2.8M125.64 114.82V104.17M124.24 114.82h2.8M124.24 104.17h2.8M131.03 115.27V104.62M129.63 115.27h2.8M129.63 104.62h2.8M136.42 115.72V105.07M135.02 115.72h2.8M135.02 105.07h2.8M141.82 116.16V105.51M140.42 116.16h2.8M140.42 105.51h2.8M147.21 116.61V105.96M145.81 116.61h2.8M145.81 105.96h2.8M152.61 117.07V106.42M151.21 117.07h2.8M151.21 106.42h2.8M158 117.54V106.89M156.6 117.54h2.8M156.6 106.89h2.8M163.4 118.03V107.38M162 118.03h2.8M162 107.38h2.8M168.79 118.54V107.89M167.39 118.54h2.8M167.39 107.89h2.8M174.19 119.07V108.42M172.79 119.07h2.8M172.79 108.42h2.8M179.58 119.63V108.98M178.18 119.63h2.8M178.18 108.98h2.8M184.98 120.25V109.6M183.58 120.25h2.8M183.58 109.6h2.8M190.37 120.94V110.29M188.97 120.94h2.8M188.97 110.29h2.8M195.77 121.69V111.04M194.37 121.69h2.8M194.37 111.04h2.8M201.16 122.46V111.81M199.76 122.46h2.8M199.76 111.81h2.8M206.55 123.25V112.6M205.15 123.25h2.8M205.15 112.6h2.8M211.95 124.04V113.39M210.55 124.04h2.8M210.55 113.39h2.8" stroke="#3838ff" stroke-width="0.8" fill="none" opacity="1.0"/>
<path d="M60.9 120.11V94.55M59.5 120.11h2.8M59.5 94.55h2.8M66.29 120.95V95.39M64.89 120.95h2.8M64.89 95.39h2.8M71.69 121.72V96.16M70.29 121.72h2.8M70.29 96.16h2.8M77.08 122.43V96.87M75.68 122.43h2.8M75.68 96.87h2.8M82.48 123.11V97.55M81.08 123.11h2.8M81.08 97.55h2.8M87.87 123.75V98.19M86.47 123.75h2.8M86.47 98.19h2.8M93.27 124.36V98.8M91.87 124.36h2.8M91.87 98.8h2.8M98.66 124.96V99.4M97.26 124.96h2.8M97.26 99.4h2.8M104.06 125.53V99.97M102.66 125.53h2.8M102.66 99.97h2.8M109.45 126.1V100.54M108.05 126.1h2.8M108.05 100.54h2.8M114.85 126.63V101.07M113.45 126.63h2.8M113.45 101.07h2.8M120.24 127.13V101.57M118.84 127.13h2.8M118.84 101.57h2.8M125.64 127.6V102.04M124.24 127.6h2.8M124.24 102.04h2.8M131.03 128.05V102.49M129.63 128.05h2.8M129.63 102.49h2.8M136.42 128.5V102.94M135.02 128.5h2.8M135.02 102.94h2.8M141.82 128.93V103.37M140.42 128.93h2.8M140.42 103.37h2.8M147.21 129.37V103.81M145.81 129.37h2.8M145.81 103.81h2.8M152.61 129.81V104.25M151.21 129.81h2.8M151.21 104.25h2.8M158 130.26V104.7M156.6 130.26h2.8M156.6 104.7h2.8M163.4 130.72V105.16M162 130.72h2.8M162 105.16h2.8M168.79 131.19V105.63M167.39 131.19h2.8M167.39 105.63h2.8M174.19 131.68V106.12M172.79 131.68h2.8M172.79 106.12h2.8M179.58 132.18V106.62M178.18 132.18h2.8M178.18 106.62h2.8M184.98 132.73V107.17M183.58 132.73h2.8M183.58 107.17h2.8M190.37 133.32V107.76M188.97 133.32h2.8M188.97 107.76h2.8M195.77 133.94V108.38M194.37 133.94h2.8M194.37 108.38h2.8M201.16 134.57V109.01M199.76 134.57h2.8M199.76 109.01h2.8M206.55 135.22V109.66M205.15 135.22h2.8M205.15 109.66h2.8M211.95 135.86V110.3M210.55 135.86h2.8M210.55 110.3h2.8" stroke="#ff5050" stroke-width="0.8" fill="none" opacity="1.0"/>
<polyline points="56.1,107.27 56.6,107.35 57.1,107.44 57.6,107.52 58.1,107.61 58.6,107.69 59.1,107.77 59.6,107.85 60.1,107.93 60.6,108.01 61.1,108.09 61.6,108.17 62.1,108.24 62.6,108.32 63.1,108.39 63.59,108.47 64.09,108.54 64.59,108.61 65.09,108.68 65.59,108.75 66.09,108.83 66.59,108.89 67.09,108.96 67.59,109.03 68.09,109.1 68.59,109.17 69.09,109.23 69.59,109.3 70.09,109.37 70.59,109.43 71.09,109.49 71.59,109.56 72.09,109.62 72.59,109.69 73.09,109.75 73.59,109.81 74.08,109.87 74.58,109.93 75.08,109.99 75.58,110.06 76.08,110.12 76.58,110.18 77.08,110.24 77.58,110.3 78.08,110.35 78.58,110.41 79.08,110.47 79.58,110.53 80.08,110.59 80.58,110.65 81.08,110.7 81.58,110.76 82.08,110.82 82.58,110.88 83.08,110.93 83.58,110.99 84.07,111.05 84.57,111.1 85.07,111.16 85.57,111.21 86.07,111.27 86.57,111.33 87.07,111.38 87.57,111.44 88.07,111.49 88.57,111.55 89.07,111.6 89.57,111.66 90.07,111.71 90.57,111.77 91.07,111.82 91.57,111.88 92.07,111.93 92.57,111.99 93.07,112.04 93.56,112.1 94.06,112.15 94.56,112.21 95.06,112.26 95.56,112.32 96.06,112.37 96.56,112.43 97.06,112.48 97.56,112.54 98.06,112.59 98.56,112.65 99.06,112.7 99.56,112.76 100.06,112.81 100.56,112.87 101.06,112.92 101.56,112.98 102.06,113.03 102.56,113.09 103.06,113.14 103.56,113.2 104.05,113.26 104.55,113.31 105.05,113.37 105.55,113.42 106.05,113.48 106.55,113.53 107.05,113.59 107.55,113.65 108.05,113.7 108.55,113.76 109.05,113.82 109.55,113.87 110.05,113.93 110.55,113.99 111.05,114.04 111.55,114.1 112.05,114.15 112.55,114.21 113.05,114.27 113.55,114.32 114.04,114.38 114.54,114.43 115.04,114.49 115.54,114.55 116.04,114.6 116.54,114.66 117.04,114.71 117.54,114.77 118.04,114.83 118.54,114.88 119.04,114.94 119.54,114.99 120.04,115.05 120.54,115.1 121.04,115.16 121.54,115.21 122.04,115.27 122.54,115.32 123.04,115.38 123.53,115.43 124.03,115.49 124.53,115.55 125.03,115.6 125.53,115.66 126.03,115.71 126.53,115.77 127.03,115.82 127.53,115.87 128.03,115.93 128.53,115.98 129.03,116.04 129.53,116.09 130.03,116.15 130.53,116.2 131.03,116.26 131.53,116.31 132.03,116.37 132.53,116.42 133.03,116.47 133.53,116.53 134.02,116.58 134.52,116.64 135.02,116.69 135.52,116.75 136.02,116.8 136.52,116.85 137.02,116.91 137.52,116.96 138.02,117.01 138.52,117.07 139.02,117.12 139.52,117.18 140.02,117.23 140.52,117.28 141.02,117.34 141.52,117.39 142.02,117.44 142.52,117.5 143.02,117.55 143.52,117.6 144.01,117.66 144.51,117.71 145.01,117.76 145.51,117.82 146.01,117.87 146.51,117.92 147.01,117.98 147.51,118.03 148.01,118.08 148.51,118.13 149.01,118.19 149.51,118.24 150.01,118.29 150.51,118.34 151.01,118.4 151.51,118.45 152.01,118.5 152.51,118.55 153.01,118.61 153.5,118.66 154,118.71 154.5,118.76 155,118.82 155.5,118.87 156,118.92 156.5,118.97 157,119.02 157.5,119.08 158,119.13 158.5,119.18 159,119.23 159.5,119.28 160,119.33 160.5,119.39 161,119.44 161.5,119.49 162,119.54 162.5,119.59 163,119.64 163.5,119.7 163.99,119.75 164.49,119.8 164.99,119.85 165.49,119.9 165.99,119.95 166.49,120 166.99,120.05 167.49,120.1 167.99,120.16 168.49,120.21 168.99,120.26 169.49,120.31 169.99,120.36 170.49,120.41 170.99,120.46 171.49,120.51 171.99,120.56 172.49,120.61 172.99,120.66 173.49,120.71 173.98,120.76 174.48,120.81 174.98,120.86 175.48,120.91 175.98,120.96 176.48,121.01 176.98,121.06 177.48,121.11 177.98,121.17 178.48,121.22 178.98,121.27 179.48,121.32 179.98,121.37 180.48,121.42 180.98,121.47 181.48,121.52 181.98,121.57 182.48,121.62 182.98,121.67 183.47,121.72 183.97,121.77 184.47,121.82 184.97,121.87 185.47,121.92 185.97,121.97 186.47,122.03 186.97,122.08 187.47,122.13 187.97,122.18 188.47,122.23 188.97,122.28 189.47,122.33 189.97,122.38 190.47,122.44 190.97,122.49 191.47,122.54 191.97,122.59 192.47,122.64 192.97,122.69 193.47,122.75 193.96,122.8 194.46,122.85 194.96,122.9 195.46,122.95 195.96,123 196.46,123.06 196.96,123.11 197.46,123.16 197.96,123.21 198.46,123.26 198.96,123.31 199.46,123.37 199.96,123.42 200.46,123.47 200.96,123.52 201.46,123.57 201.96,123.62 202.46,123.68 202.96,123.73 203.45,123.78 203.95,123.83 204.45,123.88 204.95,123.93 205.45,123.98 205.95,124.03 206.45,124.09 206.95,124.14 207.45,124.19 207.95,124.24 208.45,124.29 208.95,124.34 209.45,124.39 209.95,124.44 210.45,124.49 210.95,124.54 211.45,124.6 211.95,124.65 212.45,124.7 212.95,124.75 213.44,124.8 213.94,124.85 214.44,124.9" fill="none" stroke="#000000" stroke-width="3.5" stroke-linejoin="round" stroke-linecap="round" />
<polyline points="56.1,105.97 56.6,106.06 57.1,106.15 57.6,106.24 58.1,106.33 58.6,106.41 59.1,106.5 59.6,106.58 60.1,106.66 60.6,106.75 61.1,106.83 61.6,106.91 62.1,106.99 62.6,107.07 63.1,107.15 63.59,107.22 64.09,107.3 64.59,107.38 65.09,107.45 65.59,107.53 66.09,107.6 66.59,107.68 67.09,107.75 67.59,107.82 68.09,107.9 68.59,107.97 69.09,108.04 69.59,108.11 70.09,108.18 70.59,108.25 71.09,108.32 71.59,108.39 72.09,108.46 72.59,108.53 73.09,108.6 73.59,108.66 74.08,108.73 74.58,108.8 75.08,108.86 75.58,108.93 76.08,108.99 76.58,109.06 77.08,109.12 77.58,109.19 78.08,109.25 78.58,109.31 79.08,109.38 79.58,109.44 80.08,109.5 80.58,109.56 81.08,109.62 81.58,109.69 82.08,109.75 82.58,109.81 83.08,109.87 83.58,109.93 84.07,109.99 84.57,110.05 85.07,110.11 85.57,110.17 86.07,110.22 86.57,110.28 87.07,110.34 87.57,110.4 88.07,110.46 88.57,110.52 89.07,110.57 89.57,110.63 90.07,110.69 90.57,110.74 91.07,110.8 91.57,110.86 92.07,110.91 92.57,110.97 93.07,111.03 93.56,111.08 94.06,111.14 94.56,111.19 95.06,111.25 95.56,111.3 96.06,111.36 96.56,111.41 97.06,111.47 97.56,111.52 98.06,111.58 98.56,111.63 99.06,111.69 99.56,111.74 100.06,111.79 100.56,111.85 101.06,111.9 101.56,111.96 102.06,112.01 102.56,112.06 103.06,112.12 103.56,112.17 104.05,112.22 104.55,112.27 105.05,112.33 105.55,112.38 106.05,112.43 106.55,112.49 107.05,112.54 107.55,112.59 108.05,112.64 108.55,112.7 109.05,112.75 109.55,112.8 110.05,112.85 110.55,112.9 111.05,112.95 111.55,113 112.05,113.05 112.55,113.1 113.05,113.15 113.55,113.2 114.04,113.25 114.54,113.29 115.04,113.34 115.54,113.39 116.04,113.44 116.54,113.48 117.04,113.53 117.54,113.57 118.04,113.62 118.54,113.67 119.04,113.71 119.54,113.76 120.04,113.8 120.54,113.85 121.04,113.89 121.54,113.93 122.04,113.98 122.54,114.02 123.04,114.07 123.53,114.11 124.03,114.15 124.53,114.2 125.03,114.24 125.53,114.28 126.03,114.32 126.53,114.37 127.03,114.41 127.53,114.45 128.03,114.49 128.53,114.53 129.03,114.58 129.53,114.62 130.03,114.66 130.53,114.7 131.03,114.74 131.53,114.78 132.03,114.82 132.53,114.87 133.03,114.91 133.53,114.95 134.02,114.99 134.52,115.03 135.02,115.07 135.52,115.11 136.02,115.15 136.52,115.19 137.02,115.23 137.52,115.27 138.02,115.31 138.52,115.35 139.02,115.39 139.52,115.43 140.02,115.47 140.52,115.51 141.02,115.56 141.52,115.6 142.02,115.64 142.52,115.68 143.02,115.72 143.52,115.76 144.01,115.8 144.51,115.84 145.01,115.88 145.51,115.92 146.01,115.96 146.51,116 147.01,116.04 147.51,116.08 148.01,116.12 148.51,116.16 149.01,116.2 149.51,116.24 150.01,116.28 150.51,116.33 151.01,116.37 151.51,116.41 152.01,116.45 152.51,116.49 153.01,116.53 153.5,116.57 154,116.61 154.5,116.65 155,116.7 155.5,116.74 156,116.78 156.5,116.82 157,116.86 157.5,116.9 158,116.95 158.5,116.99 159,117.03 159.5,117.07 160,117.12 160.5,117.16 161,117.2 161.5,117.24 162,117.29 162.5,117.33 163,117.37 163.5,117.41 163.99,117.46 164.49,117.5 164.99,117.54 165.49,117.59 165.99,117.63 166.49,117.68 166.99,117.72 167.49,117.76 167.99,117.81 168.49,117.85 168.99,117.9 169.49,117.94 169.99,117.99 170.49,118.03 170.99,118.07 171.49,118.12 171.99,118.16 172.49,118.21 172.99,118.26 173.49,118.3 173.98,118.35 174.48,118.39 174.98,118.44 175.48,118.49 175.98,118.53 176.48,118.58 176.98,118.62 177.48,118.67 177.98,118.72 178.48,118.77 178.98,118.81 179.48,118.86 179.98,118.91 180.48,118.96 180.98,119.01 181.48,119.06 181.98,119.11 182.48,119.16 182.98,119.21 183.47,119.26 183.97,119.31 184.47,119.36 184.97,119.42 185.47,119.47 185.97,119.52 186.47,119.58 186.97,119.63 187.47,119.69 187.97,119.74 188.47,119.79 188.97,119.85 189.47,119.91 189.97,119.96 190.47,120.02 190.97,120.07 191.47,120.13 191.97,120.19 192.47,120.24 192.97,120.3 193.47,120.36 193.96,120.42 194.46,120.47 194.96,120.53 195.46,120.59 195.96,120.65 196.46,120.71 196.96,120.76 197.46,120.82 197.96,120.88 198.46,120.94 198.96,121 199.46,121.06 199.96,121.12 200.46,121.18 200.96,121.24 201.46,121.3 201.96,121.36 202.46,121.42 202.96,121.47 203.45,121.53 203.95,121.59 204.45,121.65 204.95,121.71 205.45,121.77 205.95,121.83 206.45,121.89 206.95,121.95 207.45,122.01 207.95,122.07 208.45,122.13 208.95,122.19 209.45,122.25 209.95,122.31 210.45,122.37 210.95,122.43 211.45,122.49 211.95,122.55 212.45,122.61 212.95,122.67 213.44,122.73 213.94,122.79 214.44,122.85" fill="none" stroke="#ff0000" stroke-width="3.5" stroke-linejoin="round" stroke-linecap="round" />
<polyline points="56.1,101.46 56.6,101.53 57.1,101.61 57.6,101.68 58.1,101.76 58.6,101.83 59.1,101.91 59.6,101.98 60.1,102.05 60.6,102.12 61.1,102.2 61.6,102.27 62.1,102.34 62.6,102.41 63.1,102.48 63.59,102.55 64.09,102.62 64.59,102.69 65.09,102.76 65.59,102.83 66.09,102.9 66.59,102.97 67.09,103.03 67.59,103.1 68.09,103.17 68.59,103.24 69.09,103.3 69.59,103.37 70.09,103.44 70.59,103.5 71.09,103.57 71.59,103.63 72.09,103.7 72.59,103.76 73.09,103.83 73.59,103.89 74.08,103.95 74.58,104.02 75.08,104.08 75.58,104.15 76.08,104.21 76.58,104.27 77.08,104.33 77.58,104.4 78.08,104.46 78.58,104.52 79.08,104.58 79.58,104.64 80.08,104.7 80.58,104.76 81.08,104.83 81.58,104.89 82.08,104.95 82.58,105.01 83.08,105.07 83.58,105.13 84.07,105.19 84.57,105.24 85.07,105.3 85.57,105.36 86.07,105.42 86.57,105.48 87.07,105.54 87.57,105.6 88.07,105.65 88.57,105.71 89.07,105.77 89.57,105.83 90.07,105.88 90.57,105.94 91.07,106 91.57,106.06 92.07,106.11 92.57,106.17 93.07,106.22 93.56,106.28 94.06,106.34 94.56,106.39 95.06,106.45 95.56,106.5 96.06,106.56 96.56,106.62 97.06,106.67 97.56,106.73 98.06,106.78 98.56,106.83 99.06,106.89 99.56,106.94 100.06,107 100.56,107.05 101.06,107.11 101.56,107.16 102.06,107.21 102.56,107.27 103.06,107.32 103.56,107.37 104.05,107.43 104.55,107.48 105.05,107.53 105.55,107.59 106.05,107.64 106.55,107.69 107.05,107.75 107.55,107.8 108.05,107.85 108.55,107.9 109.05,107.95 109.55,108.01 110.05,108.06 110.55,108.11 111.05,108.16 111.55,108.21 112.05,108.26 112.55,108.31 113.05,108.36 113.55,108.4 114.04,108.45 114.54,108.5 115.04,108.55 115.54,108.59 116.04,108.64 116.54,108.69 117.04,108.73 117.54,108.78 118.04,108.82 118.54,108.87 119.04,108.92 119.54,108.96 120.04,109 120.54,109.05 121.04,109.09 121.54,109.14 122.04,109.18 122.54,109.22 123.04,109.27 123.53,109.31 124.03,109.35 124.53,109.4 125.03,109.44 125.53,109.48 126.03,109.53 126.53,109.57 127.03,109.61 127.53,109.65 128.03,109.69 128.53,109.74 129.03,109.78 129.53,109.82 130.03,109.86 130.53,109.9 131.03,109.95 131.53,109.99 132.03,110.03 132.53,110.07 133.03,110.11 133.53,110.15 134.02,110.19 134.52,110.23 135.02,110.28 135.52,110.32 136.02,110.36 136.52,110.4 137.02,110.44 137.52,110.48 138.02,110.52 138.52,110.56 139.02,110.6 139.52,110.65 140.02,110.69 140.52,110.73 141.02,110.77 141.52,110.81 142.02,110.85 142.52,110.89 143.02,110.94 143.52,110.98 144.01,111.02 144.51,111.06 145.01,111.1 145.51,111.14 146.01,111.19 146.51,111.23 147.01,111.27 147.51,111.31 148.01,111.35 148.51,111.4 149.01,111.44 149.51,111.48 150.01,111.52 150.51,111.57 151.01,111.61 151.51,111.65 152.01,111.69 152.51,111.74 153.01,111.78 153.5,111.82 154,111.87 154.5,111.91 155,111.95 155.5,112 156,112.04 156.5,112.09 157,112.13 157.5,112.17 158,112.22 158.5,112.26 159,112.31 159.5,112.35 160,112.4 160.5,112.44 161,112.49 161.5,112.53 162,112.58 162.5,112.62 163,112.67 163.5,112.72 163.99,112.76 164.49,112.81 164.99,112.86 165.49,112.9 165.99,112.95 166.49,113 166.99,113.04 167.49,113.09 167.99,113.14 168.49,113.19 168.99,113.24 169.49,113.28 169.99,113.33 170.49,113.38 170.99,113.43 171.49,113.48 171.99,113.53 172.49,113.58 172.99,113.63 173.49,113.68 173.98,113.73 174.48,113.78 174.98,113.83 175.48,113.88 175.98,113.93 176.48,113.98 176.98,114.03 177.48,114.08 177.98,114.13 178.48,114.19 178.98,114.24 179.48,114.29 179.98,114.35 180.48,114.4 180.98,114.46 181.48,114.51 181.98,114.57 182.48,114.63 182.98,114.68 183.47,114.74 183.97,114.8 184.47,114.86 184.97,114.92 185.47,114.99 185.97,115.05 186.47,115.11 186.97,115.17 187.47,115.24 187.97,115.3 188.47,115.37 188.97,115.43 189.47,115.5 189.97,115.56 190.47,115.63 190.97,115.7 191.47,115.77 191.97,115.83 192.47,115.9 192.97,115.97 193.47,116.04 193.96,116.11 194.46,116.18 194.96,116.25 195.46,116.32 195.96,116.39 196.46,116.46 196.96,116.53 197.46,116.6 197.96,116.67 198.46,116.74 198.96,116.82 199.46,116.89 199.96,116.96 200.46,117.03 200.96,117.1 201.46,117.18 201.96,117.25 202.46,117.32 202.96,117.4 203.45,117.47 203.95,117.54 204.45,117.62 204.95,117.69 205.45,117.76 205.95,117.84 206.45,117.91 206.95,117.98 207.45,118.06 207.95,118.13 208.45,118.2 208.95,118.28 209.45,118.35 209.95,118.42 210.45,118.5 210.95,118.57 211.45,118.64 211.95,118.72 212.45,118.79 212.95,118.86 213.44,118.94 213.94,119.01 214.44,119.08" fill="none" stroke="#0000ff" stroke-width="3.5" stroke-linejoin="round" stroke-linecap="round" />
<path d="M59.3 97.68a1.7 1.7 0 1 0 3.4 0a1.7 1.7 0 1 0 -3.4 0M84.7 100.96a1.7 1.7 0 1 0 3.4 0a1.7 1.7 0 1 0 -3.4 0M110.1 103.73a1.7 1.7 0 1 0 3.4 0a1.7 1.7 0 1 0 -3.4 0M135.5 105.95a1.7 1.7 0 1 0 3.4 0a1.7 1.7 0 1 0 -3.4 0M160.9 108.13a1.7 1.7 0 1 0 3.4 0a1.7 1.7 0 1 0 -3.4 0M186.3 110.81a1.7 1.7 0 1 0 3.4 0a1.7 1.7 0 1 0 -3.4 0M211.7 114.43a1.7 1.7 0 1 0 3.4 0a1.7 1.7 0 1 0 -3.4 0" fill="#0000ff"/>
</g>
<rect x="58.4" y="88.2" width="159.9" height="47.8" fill="none" stroke="#000" stroke-width="1.3"/>
<path d="M108.55 136v-2.5M108.55 88.2v2.5M158.5 136v-2.5M158.5 88.2v2.5M208.45 136v-2.5M208.45 88.2v2.5" stroke="#000" stroke-width="1.0"/>
<path d="M83.58 136v-1.5M83.58 88.2v1.5M133.53 136v-1.5M133.53 88.2v1.5M183.47 136v-1.5M183.47 88.2v1.5" stroke="#000" stroke-width="1.0"/>
<path d="M58.4 130.8h2.5M218.3 130.8h-2.5M58.4 88.2h2.5M218.3 88.2h-2.5" stroke="#000" stroke-width="1.0"/>
<path d="M58.4 120.15h1.5M218.3 120.15h-1.5M58.4 109.5h1.5M218.3 109.5h-1.5M58.4 98.85h1.5M218.3 98.85h-1.5" stroke="#000" stroke-width="1.0"/>
<text x="58.6" y="146.9" font-size="10" text-anchor="middle" >200</text>
<text x="108.55" y="146.9" font-size="10" text-anchor="middle" >300</text>
<text x="158.5" y="146.9" font-size="10" text-anchor="middle" >400</text>
<text x="208.45" y="146.9" font-size="10" text-anchor="middle" >500</text>
<text x="55.9" y="91.7" font-size="10" text-anchor="end" >2.0</text>
<text x="55.9" y="134.3" font-size="10" text-anchor="end" >1.6</text>
<path d="M38.5 336.3v-3.0M38.5 203.7v3.0M74.35 336.3v-3.0M74.35 203.7v3.0M110.2 336.3v-3.0M110.2 203.7v3.0M146.05 336.3v-3.0M146.05 203.7v3.0M181.9 336.3v-3.0M181.9 203.7v3.0M217.75 336.3v-3.0M217.75 203.7v3.0" stroke="#000" stroke-width="1.0"/>
<path d="M56.42 336.3v-1.8M56.42 203.7v1.8M92.28 336.3v-1.8M92.28 203.7v1.8M128.12 336.3v-1.8M128.12 203.7v1.8M163.97 336.3v-1.8M163.97 203.7v1.8M199.82 336.3v-1.8M199.82 203.7v1.8" stroke="#000" stroke-width="1.0"/>
<path d="M36.9 336.34h3.0M224.5 336.34h-3.0M36.9 312.24h3.0M224.5 312.24h-3.0M36.9 288.14h3.0M224.5 288.14h-3.0M36.9 264.04h3.0M224.5 264.04h-3.0M36.9 239.94h3.0M224.5 239.94h-3.0M36.9 215.84h3.0M224.5 215.84h-3.0" stroke="#000" stroke-width="1.0"/>
<path d="" stroke="#000" stroke-width="1.0"/>
<text x="38.5" y="349.2" font-size="11.5" text-anchor="middle" >0</text>
<text x="74.35" y="349.2" font-size="11.5" text-anchor="middle" >100</text>
<text x="110.2" y="349.2" font-size="11.5" text-anchor="middle" >200</text>
<text x="146.05" y="349.2" font-size="11.5" text-anchor="middle" >300</text>
<text x="181.9" y="349.2" font-size="11.5" text-anchor="middle" >400</text>
<text x="217.75" y="349.2" font-size="11.5" text-anchor="middle" >500</text>
<text x="33.6" y="339.94" font-size="11.5" text-anchor="end" >0</text>
<text x="33.6" y="315.84" font-size="11.5" text-anchor="end" >0.5</text>
<text x="33.6" y="291.74" font-size="11.5" text-anchor="end" >1.0</text>
<text x="33.6" y="267.64" font-size="11.5" text-anchor="end" >1.5</text>
<text x="33.6" y="243.54" font-size="11.5" text-anchor="end" >2.0</text>
<text x="33.6" y="219.44" font-size="11.5" text-anchor="end" >2.5</text>
<text x="130.7" y="369.2" font-size="13.7" text-anchor="middle" >Cycle Number</text>
<text transform="translate(13.4,270.2) rotate(-90)" font-size="13.7" text-anchor="middle">Capacity (mAh/cm<tspan font-size="8.5" dy="-5">2</tspan><tspan dy="5">)</tspan></text>
<text x="37.1" y="195.8" font-size="14" text-anchor="start" >(d)</text>
<path d="M41.5 231.43V227.47M40.3 231.43h2.4M40.3 227.47h2.4M45.4 236.13V232.04M44.2 236.13h2.4M44.2 232.04h2.4M49.3 237.97V233.75M48.1 237.97h2.4M48.1 233.75h2.4M53.2 239.33V234.98M52 239.33h2.4M52 234.98h2.4M57.1 240.55V236.07M55.9 240.55h2.4M55.9 236.07h2.4M61 241.68V237.07M59.8 241.68h2.4M59.8 237.07h2.4M64.9 242.72V237.97M63.7 242.72h2.4M63.7 237.97h2.4M68.8 243.69V238.82M67.6 243.69h2.4M67.6 238.82h2.4M72.7 244.61V239.61M71.5 244.61h2.4M71.5 239.61h2.4M76.6 245.49V240.36M75.4 245.49h2.4M75.4 240.36h2.4M80.5 246.42V241.15M79.3 246.42h2.4M79.3 241.15h2.4M84.4 247.37V241.97M83.2 247.37h2.4M83.2 241.97h2.4M88.3 248.3V242.77M87.1 248.3h2.4M87.1 242.77h2.4M92.2 249.18V243.52M91 249.18h2.4M91 243.52h2.4M96.1 249.99V244.2M94.9 249.99h2.4M94.9 244.2h2.4M100 250.72V244.8M98.8 250.72h2.4M98.8 244.8h2.4M103.9 251.37V245.31M102.7 251.37h2.4M102.7 245.31h2.4M107.8 251.93V245.74M106.6 251.93h2.4M106.6 245.74h2.4M111.7 252.4V246.09M110.5 252.4h2.4M110.5 246.09h2.4M115.6 252.81V246.37M114.4 252.81h2.4M114.4 246.37h2.4M119.5 253.18V246.6M118.3 253.18h2.4M118.3 246.6h2.4M123.4 253.52V246.81M122.2 253.52h2.4M122.2 246.81h2.4M127.3 253.85V247.01M126.1 253.85h2.4M126.1 247.01h2.4M131.2 254.18V247.21M130 254.18h2.4M130 247.21h2.4M135.1 254.53V247.42M133.9 254.53h2.4M133.9 247.42h2.4M139 254.86V247.62M137.8 254.86h2.4M137.8 247.62h2.4M142.9 255.18V247.82M141.7 255.18h2.4M141.7 247.82h2.4M146.8 255.5V248M145.6 255.5h2.4M145.6 248h2.4M150.7 255.81V248.18M149.5 255.81h2.4M149.5 248.18h2.4M154.6 256.12V248.36M153.4 256.12h2.4M153.4 248.36h2.4M158.5 256.43V248.54M157.3 256.43h2.4M157.3 248.54h2.4M162.4 256.73V248.71M161.2 256.73h2.4M161.2 248.71h2.4M166.3 257.04V248.88M165.1 257.04h2.4M165.1 248.88h2.4M170.2 257.34V249.06M169 257.34h2.4M169 249.06h2.4M174.1 257.64V249.23M172.9 257.64h2.4M172.9 249.23h2.4M178 257.95V249.4M176.8 257.95h2.4M176.8 249.4h2.4M181.9 258.26V249.58M180.7 258.26h2.4M180.7 249.58h2.4M185.8 258.57V249.76M184.6 258.57h2.4M184.6 249.76h2.4M189.7 258.88V249.94M188.5 258.88h2.4M188.5 249.94h2.4M193.6 259.2V250.13M192.4 259.2h2.4M192.4 250.13h2.4M197.5 259.53V250.33M196.3 259.53h2.4M196.3 250.33h2.4M201.4 259.85V250.52M200.2 259.85h2.4M200.2 250.52h2.4M205.3 260.18V250.71M204.1 260.18h2.4M204.1 250.71h2.4M209.2 260.5V250.91M208 260.5h2.4M208 250.91h2.4M213.1 260.82V251.1M211.9 260.82h2.4M211.9 251.1h2.4M217 261.15V251.29M215.8 261.15h2.4M215.8 251.29h2.4M220.9 261.47V251.48M219.7 261.47h2.4M219.7 251.48h2.4" stroke="#4a4a4a" stroke-width="0.85" fill="none" opacity="1.0"/>
<path d="M42.7 231.71V227.61M41.5 231.71h2.4M41.5 227.61h2.4M46.6 234.39V230.29M45.4 234.39h2.4M45.4 230.29h2.4M50.5 236.08V231.98M49.3 236.08h2.4M49.3 231.98h2.4M54.4 237.33V233.23M53.2 237.33h2.4M53.2 233.23h2.4M58.3 238.3V234.2M57.1 238.3h2.4M57.1 234.2h2.4M62.2 239.09V234.99M61 239.09h2.4M61 234.99h2.4M66.1 239.78V235.69M64.9 239.78h2.4M64.9 235.69h2.4M70 240.42V236.32M68.8 240.42h2.4M68.8 236.32h2.4M73.9 241.02V236.93M72.7 241.02h2.4M72.7 236.93h2.4M77.8 241.62V237.52M76.6 241.62h2.4M76.6 237.52h2.4M81.7 242.21V238.11M80.5 242.21h2.4M80.5 238.11h2.4M85.6 242.78V238.68M84.4 242.78h2.4M84.4 238.68h2.4M89.5 243.32V239.23M88.3 243.32h2.4M88.3 239.23h2.4M93.4 243.83V239.74M92.2 243.83h2.4M92.2 239.74h2.4M97.3 244.31V240.21M96.1 244.31h2.4M96.1 240.21h2.4M101.2 244.75V240.65M100 244.75h2.4M100 240.65h2.4M105.1 245.15V241.06M103.9 245.15h2.4M103.9 241.06h2.4M109 245.52V241.42M107.8 245.52h2.4M107.8 241.42h2.4M112.9 245.86V241.76M111.7 245.86h2.4M111.7 241.76h2.4M116.8 246.17V242.07M115.6 246.17h2.4M115.6 242.07h2.4M120.7 246.46V242.37M119.5 246.46h2.4M119.5 242.37h2.4M124.6 246.74V242.65M123.4 246.74h2.4M123.4 242.65h2.4M128.5 247.01V242.91M127.3 247.01h2.4M127.3 242.91h2.4M132.4 247.26V243.17M131.2 247.26h2.4M131.2 243.17h2.4M136.3 247.51V243.41M135.1 247.51h2.4M135.1 243.41h2.4M140.2 247.73V243.63M139 247.73h2.4M139 243.63h2.4M144.1 247.94V243.84M142.9 247.94h2.4M142.9 243.84h2.4M148 248.14V244.04M146.8 248.14h2.4M146.8 244.04h2.4M151.9 248.33V244.23M150.7 248.33h2.4M150.7 244.23h2.4M155.8 248.52V244.42M154.6 248.52h2.4M154.6 244.42h2.4M159.7 248.71V244.61M158.5 248.71h2.4M158.5 244.61h2.4M163.6 248.9V244.8M162.4 248.9h2.4M162.4 244.8h2.4M167.5 249.09V244.99M166.3 249.09h2.4M166.3 244.99h2.4M171.4 249.28V245.18M170.2 249.28h2.4M170.2 245.18h2.4M175.3 249.48V245.38M174.1 249.48h2.4M174.1 245.38h2.4M179.2 249.68V245.58M178 249.68h2.4M178 245.58h2.4M183.1 249.89V245.79M181.9 249.89h2.4M181.9 245.79h2.4M187 250.1V246.01M185.8 250.1h2.4M185.8 246.01h2.4M190.9 250.33V246.23M189.7 250.33h2.4M189.7 246.23h2.4M194.8 250.56V246.47M193.6 250.56h2.4M193.6 246.47h2.4M198.7 250.8V246.7M197.5 250.8h2.4M197.5 246.7h2.4M202.6 251.04V246.95M201.4 251.04h2.4M201.4 246.95h2.4M206.5 251.29V247.19M205.3 251.29h2.4M205.3 247.19h2.4M210.4 251.53V247.44M209.2 251.53h2.4M209.2 247.44h2.4M214.3 251.78V247.68M213.1 251.78h2.4M213.1 247.68h2.4M218.2 252.02V247.92M217 252.02h2.4M217 247.92h2.4" stroke="#259025" stroke-width="0.85" fill="none" opacity="1.0"/>
<path d="M43.5 230.28V225.22M42.3 230.28h2.4M42.3 225.22h2.4M47.4 232.37V227.31M46.2 232.37h2.4M46.2 227.31h2.4M51.3 233.77V228.71M50.1 233.77h2.4M50.1 228.71h2.4M55.2 234.82V229.76M54 234.82h2.4M54 229.76h2.4M59.1 235.65V230.59M57.9 235.65h2.4M57.9 230.59h2.4M63 236.32V231.26M61.8 236.32h2.4M61.8 231.26h2.4M66.9 236.93V231.87M65.7 236.93h2.4M65.7 231.87h2.4M70.8 237.52V232.46M69.6 237.52h2.4M69.6 232.46h2.4M74.7 238.11V233.05M73.5 238.11h2.4M73.5 233.05h2.4M78.6 238.75V233.69M77.4 238.75h2.4M77.4 233.69h2.4M82.5 239.46V234.4M81.3 239.46h2.4M81.3 234.4h2.4M86.4 240.16V235.1M85.2 240.16h2.4M85.2 235.1h2.4M90.3 240.83V235.77M89.1 240.83h2.4M89.1 235.77h2.4M94.2 241.46V236.39M93 241.46h2.4M93 236.39h2.4M98.1 242.01V236.95M96.9 242.01h2.4M96.9 236.95h2.4M102 242.51V237.45M100.8 242.51h2.4M100.8 237.45h2.4M105.9 242.93V237.87M104.7 242.93h2.4M104.7 237.87h2.4M109.8 243.28V238.22M108.6 243.28h2.4M108.6 238.22h2.4M113.7 243.57V238.51M112.5 243.57h2.4M112.5 238.51h2.4M117.6 243.81V238.75M116.4 243.81h2.4M116.4 238.75h2.4M121.5 244.02V238.96M120.3 244.02h2.4M120.3 238.96h2.4M125.4 244.23V239.17M124.2 244.23h2.4M124.2 239.17h2.4M129.3 244.44V239.38M128.1 244.44h2.4M128.1 239.38h2.4M133.2 244.66V239.6M132 244.66h2.4M132 239.6h2.4M137.1 244.89V239.83M135.9 244.89h2.4M135.9 239.83h2.4M141 245.12V240.06M139.8 245.12h2.4M139.8 240.06h2.4M144.9 245.34V240.28M143.7 245.34h2.4M143.7 240.28h2.4M148.8 245.57V240.51M147.6 245.57h2.4M147.6 240.51h2.4M152.7 245.79V240.73M151.5 245.79h2.4M151.5 240.73h2.4M156.6 246.01V240.95M155.4 246.01h2.4M155.4 240.95h2.4M160.5 246.23V241.17M159.3 246.23h2.4M159.3 241.17h2.4M164.4 246.45V241.39M163.2 246.45h2.4M163.2 241.39h2.4M168.3 246.67V241.61M167.1 246.67h2.4M167.1 241.61h2.4M172.2 246.88V241.82M171 246.88h2.4M171 241.82h2.4M176.1 247.1V242.04M174.9 247.1h2.4M174.9 242.04h2.4M180 247.31V242.25M178.8 247.31h2.4M178.8 242.25h2.4M183.9 247.52V242.46M182.7 247.52h2.4M182.7 242.46h2.4M187.8 247.73V242.67M186.6 247.73h2.4M186.6 242.67h2.4M191.7 247.95V242.89M190.5 247.95h2.4M190.5 242.89h2.4M195.6 248.16V243.1M194.4 248.16h2.4M194.4 243.1h2.4M199.5 248.38V243.32M198.3 248.38h2.4M198.3 243.32h2.4M203.4 248.6V243.54M202.2 248.6h2.4M202.2 243.54h2.4M207.3 248.81V243.75M206.1 248.81h2.4M206.1 243.75h2.4M211.2 249.03V243.97M210 249.03h2.4M210 243.97h2.4M215.1 249.24V244.18M213.9 249.24h2.4M213.9 244.18h2.4M219 249.45V244.39M217.8 249.45h2.4M217.8 244.39h2.4" stroke="#902590" stroke-width="0.85" fill="none" opacity="1.0"/>
<polyline points="38.86,220.18 39.22,222.46 39.58,224.12 39.93,225.4 40.29,226.44 40.65,227.4 41.01,228.32 41.37,229.16 41.73,229.92 42.09,230.59 42.44,231.19 42.8,231.72 43.16,232.19 43.52,232.6 43.88,232.95 44.24,233.26 44.59,233.55 44.95,233.8 45.31,234.03 45.67,234.25 46.03,234.45 46.39,234.64 46.75,234.81 47.1,234.98 47.46,235.14 47.82,235.29 48.18,235.44 48.54,235.58 48.9,235.71 49.25,235.85 49.61,235.98 49.97,236.1 50.33,236.23 50.69,236.35 51.05,236.47 51.41,236.58 51.76,236.7 52.12,236.81 52.48,236.93 52.84,237.04 53.2,237.15 53.56,237.26 53.92,237.37 54.27,237.48 54.63,237.59 54.99,237.69 55.35,237.8 55.71,237.91 56.07,238.01 56.42,238.12 56.78,238.22 57.14,238.32 57.5,238.43 57.86,238.53 58.22,238.63 58.58,238.73 58.93,238.82 59.29,238.92 59.65,239.02 60.01,239.11 60.37,239.21 60.73,239.3 61.09,239.39 61.44,239.49 61.8,239.58 62.16,239.67 62.52,239.76 62.88,239.85 63.24,239.94 63.59,240.03 63.95,240.12 64.31,240.2 64.67,240.29 65.03,240.38 65.39,240.46 65.75,240.55 66.1,240.63 66.46,240.72 66.82,240.8 67.18,240.88 67.54,240.97 67.9,241.05 68.26,241.13 68.61,241.21 68.97,241.29 69.33,241.37 69.69,241.45 70.05,241.53 70.41,241.61 70.77,241.69 71.12,241.77 71.48,241.85 71.84,241.93 72.2,242 72.56,242.08 72.92,242.16 73.27,242.23 73.63,242.31 73.99,242.39 74.35,242.46 74.71,242.54 75.07,242.61 75.43,242.68 75.78,242.76 76.14,242.83 76.5,242.91 76.86,242.98 77.22,243.06 77.58,243.13 77.94,243.21 78.29,243.29 78.65,243.37 79.01,243.45 79.37,243.53 79.73,243.61 80.09,243.69 80.44,243.77 80.8,243.85 81.16,243.93 81.52,244.01 81.88,244.09 82.24,244.18 82.6,244.26 82.95,244.34 83.31,244.42 83.67,244.5 84.03,244.58 84.39,244.67 84.75,244.75 85.1,244.83 85.46,244.91 85.82,244.99 86.18,245.07 86.54,245.15 86.9,245.23 87.26,245.31 87.61,245.38 87.97,245.46 88.33,245.54 88.69,245.62 89.05,245.69 89.41,245.77 89.77,245.85 90.12,245.92 90.48,246 90.84,246.07 91.2,246.15 91.56,246.22 91.92,246.29 92.28,246.36 92.63,246.43 92.99,246.51 93.35,246.58 93.71,246.65 94.07,246.71 94.43,246.78 94.78,246.85 95.14,246.92 95.5,246.98 95.86,247.05 96.22,247.11 96.58,247.18 96.94,247.24 97.29,247.31 97.65,247.37 98.01,247.43 98.37,247.49 98.73,247.55 99.09,247.61 99.44,247.67 99.8,247.73 100.16,247.78 100.52,247.84 100.88,247.9 101.24,247.95 101.6,248.01 101.95,248.06 102.31,248.11 102.67,248.17 103.03,248.22 103.39,248.27 103.75,248.32 104.11,248.37 104.46,248.42 104.82,248.46 105.18,248.51 105.54,248.56 105.9,248.6 106.26,248.65 106.61,248.69 106.97,248.74 107.33,248.78 107.69,248.82 108.05,248.86 108.41,248.9 108.77,248.94 109.12,248.98 109.48,249.02 109.84,249.06 110.2,249.1 110.56,249.13 110.92,249.17 111.28,249.21 111.63,249.24 111.99,249.27 112.35,249.31 112.71,249.34 113.07,249.37 113.43,249.41 113.78,249.44 114.14,249.47 114.5,249.5 114.86,249.53 115.22,249.56 115.58,249.59 115.94,249.62 116.29,249.64 116.65,249.67 117.01,249.7 117.37,249.73 117.73,249.76 118.09,249.78 118.45,249.81 118.8,249.84 119.16,249.86 119.52,249.89 119.88,249.91 120.24,249.94 120.6,249.97 120.95,249.99 121.31,250.02 121.67,250.04 122.03,250.07 122.39,250.09 122.75,250.12 123.11,250.14 123.46,250.17 123.82,250.19 124.18,250.22 124.54,250.24 124.9,250.26 125.26,250.29 125.62,250.31 125.97,250.34 126.33,250.36 126.69,250.39 127.05,250.41 127.41,250.44 127.77,250.46 128.12,250.48 128.48,250.51 128.84,250.53 129.2,250.56 129.56,250.58 129.92,250.61 130.28,250.63 130.63,250.66 130.99,250.68 131.35,250.71 131.71,250.73 132.07,250.76 132.43,250.78 132.79,250.81 133.14,250.84 133.5,250.86 133.86,250.89 134.22,250.91 134.58,250.94 134.94,250.96 135.3,250.99 135.65,251.01 136.01,251.04 136.37,251.06 136.73,251.09 137.09,251.11 137.45,251.14 137.8,251.16 138.16,251.18 138.52,251.21 138.88,251.23 139.24,251.26 139.6,251.28 139.96,251.3 140.31,251.33 140.67,251.35 141.03,251.38 141.39,251.4 141.75,251.42 142.11,251.45 142.46,251.47 142.82,251.49 143.18,251.52 143.54,251.54 143.9,251.56 144.26,251.59 144.62,251.61 144.97,251.63 145.33,251.66 145.69,251.68 146.05,251.7 146.41,251.73 146.77,251.75 147.13,251.77 147.48,251.79 147.84,251.82 148.2,251.84 148.56,251.86 148.92,251.88 149.28,251.91 149.63,251.93 149.99,251.95 150.35,251.98 150.71,252 151.07,252.02 151.43,252.04 151.79,252.07 152.14,252.09 152.5,252.11 152.86,252.13 153.22,252.15 153.58,252.18 153.94,252.2 154.3,252.22 154.65,252.24 155.01,252.27 155.37,252.29 155.73,252.31 156.09,252.33 156.45,252.36 156.81,252.38 157.16,252.4 157.52,252.42 157.88,252.44 158.24,252.47 158.6,252.49 158.96,252.51 159.31,252.53 159.67,252.55 160.03,252.58 160.39,252.6 160.75,252.62 161.11,252.64 161.47,252.66 161.82,252.69 162.18,252.71 162.54,252.73 162.9,252.75 163.26,252.77 163.62,252.8 163.97,252.82 164.33,252.84 164.69,252.86 165.05,252.88 165.41,252.91 165.77,252.93 166.13,252.95 166.48,252.97 166.84,252.99 167.2,253.01 167.56,253.04 167.92,253.06 168.28,253.08 168.64,253.1 168.99,253.12 169.35,253.15 169.71,253.17 170.07,253.19 170.43,253.21 170.79,253.23 171.14,253.26 171.5,253.28 171.86,253.3 172.22,253.32 172.58,253.34 172.94,253.37 173.3,253.39 173.65,253.41 174.01,253.43 174.37,253.45 174.73,253.48 175.09,253.5 175.45,253.52 175.81,253.54 176.16,253.56 176.52,253.59 176.88,253.61 177.24,253.63 177.6,253.65 177.96,253.67 178.31,253.7 178.67,253.72 179.03,253.74 179.39,253.76 179.75,253.78 180.11,253.81 180.47,253.83 180.82,253.85 181.18,253.87 181.54,253.9 181.9,253.92 182.26,253.94 182.62,253.96 182.98,253.98 183.33,254.01 183.69,254.03 184.05,254.05 184.41,254.07 184.77,254.1 185.13,254.12 185.48,254.14 185.84,254.17 186.2,254.19 186.56,254.21 186.92,254.23 187.28,254.26 187.64,254.28 187.99,254.3 188.35,254.33 188.71,254.35 189.07,254.37 189.43,254.4 189.79,254.42 190.15,254.44 190.5,254.47 190.86,254.49 191.22,254.51 191.58,254.54 191.94,254.56 192.3,254.58 192.66,254.61 193.01,254.63 193.37,254.65 193.73,254.68 194.09,254.7 194.45,254.72 194.81,254.75 195.16,254.77 195.52,254.79 195.88,254.82 196.24,254.84 196.6,254.87 196.96,254.89 197.32,254.91 197.67,254.94 198.03,254.96 198.39,254.98 198.75,255.01 199.11,255.03 199.47,255.06 199.82,255.08 200.18,255.1 200.54,255.13 200.9,255.15 201.26,255.18 201.62,255.2 201.98,255.22 202.33,255.25 202.69,255.27 203.05,255.29 203.41,255.32 203.77,255.34 204.13,255.37 204.49,255.39 204.84,255.41 205.2,255.44 205.56,255.46 205.92,255.49 206.28,255.51 206.64,255.53 207,255.56 207.35,255.58 207.71,255.6 208.07,255.63 208.43,255.65 208.79,255.68 209.15,255.7 209.5,255.72 209.86,255.75 210.22,255.77 210.58,255.8 210.94,255.82 211.3,255.84 211.66,255.87 212.01,255.89 212.37,255.91 212.73,255.94 213.09,255.96 213.45,255.98 213.81,256.01 214.16,256.03 214.52,256.06 214.88,256.08 215.24,256.1 215.6,256.13 215.96,256.15 216.32,256.17 216.67,256.2 217.03,256.22 217.39,256.24 217.75,256.27 218.11,256.29 218.47,256.31 218.83,256.34 219.18,256.36 219.54,256.38 219.9,256.41 220.26,256.43 220.62,256.45 220.98,256.48 221.33,256.5 221.69,256.52 222.05,256.55 222.41,256.57 222.77,256.59 223.13,256.62" fill="none" stroke="#000000" stroke-width="3.3" stroke-linejoin="round" stroke-linecap="round" />
<polyline points="38.86,221.33 39.22,222.7 39.58,223.66 39.93,224.4 40.29,225 40.65,225.52 41.01,226 41.37,226.43 41.73,226.83 42.09,227.19 42.44,227.52 42.8,227.83 43.16,228.11 43.52,228.37 43.88,228.61 44.24,228.84 44.59,229.06 44.95,229.26 45.31,229.46 45.67,229.65 46.03,229.82 46.39,230 46.75,230.16 47.1,230.32 47.46,230.47 47.82,230.62 48.18,230.76 48.54,230.9 48.9,231.03 49.25,231.16 49.61,231.29 49.97,231.41 50.33,231.53 50.69,231.65 51.05,231.76 51.41,231.87 51.76,231.98 52.12,232.08 52.48,232.19 52.84,232.29 53.2,232.38 53.56,232.48 53.92,232.57 54.27,232.66 54.63,232.75 54.99,232.84 55.35,232.93 55.71,233.01 56.07,233.1 56.42,233.18 56.78,233.26 57.14,233.33 57.5,233.41 57.86,233.48 58.22,233.55 58.58,233.62 58.93,233.69 59.29,233.75 59.65,233.82 60.01,233.89 60.37,233.95 60.73,234.01 61.09,234.07 61.44,234.13 61.8,234.19 62.16,234.25 62.52,234.31 62.88,234.37 63.24,234.43 63.59,234.49 63.95,234.54 64.31,234.6 64.67,234.66 65.03,234.71 65.39,234.77 65.75,234.82 66.1,234.88 66.46,234.93 66.82,234.99 67.18,235.04 67.54,235.1 67.9,235.15 68.26,235.21 68.61,235.26 68.97,235.32 69.33,235.37 69.69,235.42 70.05,235.48 70.41,235.53 70.77,235.59 71.12,235.64 71.48,235.69 71.84,235.75 72.2,235.8 72.56,235.86 72.92,235.91 73.27,235.96 73.63,236.02 73.99,236.07 74.35,236.13 74.71,236.18 75.07,236.24 75.43,236.29 75.78,236.35 76.14,236.41 76.5,236.47 76.86,236.53 77.22,236.59 77.58,236.65 77.94,236.71 78.29,236.77 78.65,236.83 79.01,236.9 79.37,236.96 79.73,237.03 80.09,237.09 80.44,237.15 80.8,237.22 81.16,237.28 81.52,237.35 81.88,237.42 82.24,237.48 82.6,237.55 82.95,237.61 83.31,237.68 83.67,237.74 84.03,237.81 84.39,237.87 84.75,237.94 85.1,238 85.46,238.07 85.82,238.13 86.18,238.19 86.54,238.26 86.9,238.32 87.26,238.38 87.61,238.45 87.97,238.51 88.33,238.57 88.69,238.63 89.05,238.69 89.41,238.76 89.77,238.82 90.12,238.88 90.48,238.94 90.84,239 91.2,239.05 91.56,239.11 91.92,239.17 92.28,239.23 92.63,239.28 92.99,239.34 93.35,239.4 93.71,239.45 94.07,239.51 94.43,239.56 94.78,239.62 95.14,239.67 95.5,239.72 95.86,239.77 96.22,239.82 96.58,239.88 96.94,239.93 97.29,239.98 97.65,240.03 98.01,240.07 98.37,240.12 98.73,240.17 99.09,240.22 99.44,240.26 99.8,240.31 100.16,240.36 100.52,240.4 100.88,240.44 101.24,240.49 101.6,240.53 101.95,240.57 102.31,240.62 102.67,240.66 103.03,240.7 103.39,240.74 103.75,240.78 104.11,240.82 104.46,240.85 104.82,240.89 105.18,240.93 105.54,240.97 105.9,241 106.26,241.04 106.61,241.07 106.97,241.11 107.33,241.14 107.69,241.17 108.05,241.2 108.41,241.24 108.77,241.27 109.12,241.3 109.48,241.33 109.84,241.36 110.2,241.39 110.56,241.41 110.92,241.44 111.28,241.47 111.63,241.5 111.99,241.52 112.35,241.55 112.71,241.57 113.07,241.6 113.43,241.62 113.78,241.65 114.14,241.67 114.5,241.69 114.86,241.72 115.22,241.74 115.58,241.76 115.94,241.78 116.29,241.8 116.65,241.82 117.01,241.85 117.37,241.87 117.73,241.89 118.09,241.91 118.45,241.93 118.8,241.95 119.16,241.97 119.52,241.99 119.88,242.01 120.24,242.03 120.6,242.05 120.95,242.06 121.31,242.08 121.67,242.1 122.03,242.12 122.39,242.14 122.75,242.16 123.11,242.18 123.46,242.2 123.82,242.22 124.18,242.24 124.54,242.25 124.9,242.27 125.26,242.29 125.62,242.31 125.97,242.33 126.33,242.35 126.69,242.37 127.05,242.39 127.41,242.41 127.77,242.43 128.12,242.45 128.48,242.46 128.84,242.48 129.2,242.5 129.56,242.52 129.92,242.54 130.28,242.56 130.63,242.58 130.99,242.6 131.35,242.63 131.71,242.65 132.07,242.67 132.43,242.69 132.79,242.71 133.14,242.73 133.5,242.75 133.86,242.77 134.22,242.79 134.58,242.81 134.94,242.83 135.3,242.86 135.65,242.88 136.01,242.9 136.37,242.92 136.73,242.94 137.09,242.96 137.45,242.98 137.8,243 138.16,243.02 138.52,243.04 138.88,243.06 139.24,243.09 139.6,243.11 139.96,243.13 140.31,243.15 140.67,243.17 141.03,243.19 141.39,243.21 141.75,243.23 142.11,243.25 142.46,243.27 142.82,243.29 143.18,243.32 143.54,243.34 143.9,243.36 144.26,243.38 144.62,243.4 144.97,243.42 145.33,243.44 145.69,243.46 146.05,243.48 146.41,243.5 146.77,243.52 147.13,243.54 147.48,243.56 147.84,243.58 148.2,243.61 148.56,243.63 148.92,243.65 149.28,243.67 149.63,243.69 149.99,243.71 150.35,243.73 150.71,243.75 151.07,243.77 151.43,243.79 151.79,243.81 152.14,243.83 152.5,243.85 152.86,243.87 153.22,243.89 153.58,243.91 153.94,243.93 154.3,243.95 154.65,243.97 155.01,244 155.37,244.02 155.73,244.04 156.09,244.06 156.45,244.08 156.81,244.1 157.16,244.12 157.52,244.14 157.88,244.16 158.24,244.18 158.6,244.2 158.96,244.22 159.31,244.24 159.67,244.26 160.03,244.28 160.39,244.3 160.75,244.32 161.11,244.34 161.47,244.36 161.82,244.38 162.18,244.4 162.54,244.42 162.9,244.44 163.26,244.46 163.62,244.48 163.97,244.5 164.33,244.52 164.69,244.54 165.05,244.56 165.41,244.58 165.77,244.6 166.13,244.62 166.48,244.64 166.84,244.66 167.2,244.68 167.56,244.7 167.92,244.72 168.28,244.74 168.64,244.76 168.99,244.78 169.35,244.8 169.71,244.82 170.07,244.84 170.43,244.86 170.79,244.88 171.14,244.9 171.5,244.92 171.86,244.94 172.22,244.96 172.58,244.98 172.94,245 173.3,245.02 173.65,245.04 174.01,245.06 174.37,245.08 174.73,245.09 175.09,245.11 175.45,245.13 175.81,245.15 176.16,245.17 176.52,245.19 176.88,245.21 177.24,245.23 177.6,245.25 177.96,245.27 178.31,245.29 178.67,245.31 179.03,245.33 179.39,245.35 179.75,245.37 180.11,245.39 180.47,245.41 180.82,245.43 181.18,245.44 181.54,245.46 181.9,245.48 182.26,245.5 182.62,245.52 182.98,245.54 183.33,245.56 183.69,245.58 184.05,245.6 184.41,245.62 184.77,245.64 185.13,245.66 185.48,245.68 185.84,245.7 186.2,245.72 186.56,245.74 186.92,245.76 187.28,245.78 187.64,245.79 187.99,245.81 188.35,245.83 188.71,245.85 189.07,245.87 189.43,245.89 189.79,245.91 190.15,245.93 190.5,245.95 190.86,245.97 191.22,245.99 191.58,246.01 191.94,246.03 192.3,246.05 192.66,246.07 193.01,246.09 193.37,246.11 193.73,246.13 194.09,246.15 194.45,246.17 194.81,246.19 195.16,246.21 195.52,246.23 195.88,246.25 196.24,246.27 196.6,246.29 196.96,246.31 197.32,246.33 197.67,246.35 198.03,246.37 198.39,246.39 198.75,246.41 199.11,246.43 199.47,246.45 199.82,246.47 200.18,246.49 200.54,246.51 200.9,246.53 201.26,246.55 201.62,246.57 201.98,246.59 202.33,246.61 202.69,246.63 203.05,246.65 203.41,246.67 203.77,246.69 204.13,246.71 204.49,246.73 204.84,246.75 205.2,246.77 205.56,246.79 205.92,246.81 206.28,246.83 206.64,246.85 207,246.87 207.35,246.89 207.71,246.91 208.07,246.93 208.43,246.95 208.79,246.97 209.15,246.99 209.5,247.01 209.86,247.03 210.22,247.05 210.58,247.07 210.94,247.09 211.3,247.11 211.66,247.13 212.01,247.15 212.37,247.17 212.73,247.19 213.09,247.21 213.45,247.22 213.81,247.24 214.16,247.26 214.52,247.28 214.88,247.3 215.24,247.32 215.6,247.34 215.96,247.36 216.32,247.38 216.67,247.4 217.03,247.42 217.39,247.44 217.75,247.46 218.11,247.48 218.47,247.5 218.83,247.52 219.18,247.54 219.54,247.56 219.9,247.58 220.26,247.59 220.62,247.61 220.98,247.63 221.33,247.65 221.69,247.67 222.05,247.69 222.41,247.71 222.77,247.73 223.13,247.75" fill="none" stroke="#800080" stroke-width="3.3" stroke-linejoin="round" stroke-linecap="round" />
<polyline points="38.86,222.93 39.22,224.13 39.58,225.08 39.93,225.83 40.29,226.44 40.65,227 41.01,227.53 41.37,228.03 41.73,228.48 42.09,228.9 42.44,229.29 42.8,229.64 43.16,229.97 43.52,230.26 43.88,230.54 44.24,230.8 44.59,231.04 44.95,231.28 45.31,231.5 45.67,231.71 46.03,231.91 46.39,232.11 46.75,232.3 47.1,232.48 47.46,232.65 47.82,232.82 48.18,232.98 48.54,233.14 48.9,233.29 49.25,233.44 49.61,233.58 49.97,233.72 50.33,233.85 50.69,233.98 51.05,234.11 51.41,234.23 51.76,234.35 52.12,234.47 52.48,234.59 52.84,234.7 53.2,234.81 53.56,234.91 53.92,235.02 54.27,235.12 54.63,235.22 54.99,235.32 55.35,235.42 55.71,235.51 56.07,235.6 56.42,235.69 56.78,235.78 57.14,235.87 57.5,235.95 57.86,236.03 58.22,236.11 58.58,236.19 58.93,236.27 59.29,236.35 59.65,236.42 60.01,236.49 60.37,236.57 60.73,236.64 61.09,236.71 61.44,236.78 61.8,236.85 62.16,236.91 62.52,236.98 62.88,237.05 63.24,237.11 63.59,237.18 63.95,237.24 64.31,237.31 64.67,237.37 65.03,237.43 65.39,237.49 65.75,237.55 66.1,237.61 66.46,237.67 66.82,237.73 67.18,237.79 67.54,237.85 67.9,237.91 68.26,237.97 68.61,238.03 68.97,238.09 69.33,238.14 69.69,238.2 70.05,238.26 70.41,238.31 70.77,238.37 71.12,238.43 71.48,238.48 71.84,238.54 72.2,238.59 72.56,238.65 72.92,238.7 73.27,238.76 73.63,238.81 73.99,238.87 74.35,238.92 74.71,238.98 75.07,239.03 75.43,239.08 75.78,239.14 76.14,239.19 76.5,239.25 76.86,239.3 77.22,239.36 77.58,239.41 77.94,239.47 78.29,239.52 78.65,239.58 79.01,239.63 79.37,239.69 79.73,239.74 80.09,239.79 80.44,239.85 80.8,239.9 81.16,239.96 81.52,240.01 81.88,240.06 82.24,240.12 82.6,240.17 82.95,240.22 83.31,240.28 83.67,240.33 84.03,240.38 84.39,240.43 84.75,240.49 85.1,240.54 85.46,240.59 85.82,240.64 86.18,240.69 86.54,240.74 86.9,240.79 87.26,240.85 87.61,240.9 87.97,240.95 88.33,240.99 88.69,241.04 89.05,241.09 89.41,241.14 89.77,241.19 90.12,241.24 90.48,241.29 90.84,241.33 91.2,241.38 91.56,241.43 91.92,241.48 92.28,241.52 92.63,241.57 92.99,241.61 93.35,241.66 93.71,241.7 94.07,241.75 94.43,241.79 94.78,241.84 95.14,241.88 95.5,241.93 95.86,241.97 96.22,242.01 96.58,242.06 96.94,242.1 97.29,242.14 97.65,242.18 98.01,242.22 98.37,242.27 98.73,242.31 99.09,242.35 99.44,242.39 99.8,242.43 100.16,242.47 100.52,242.51 100.88,242.55 101.24,242.58 101.6,242.62 101.95,242.66 102.31,242.7 102.67,242.74 103.03,242.77 103.39,242.81 103.75,242.85 104.11,242.88 104.46,242.92 104.82,242.96 105.18,242.99 105.54,243.03 105.9,243.06 106.26,243.1 106.61,243.13 106.97,243.16 107.33,243.2 107.69,243.23 108.05,243.27 108.41,243.3 108.77,243.33 109.12,243.36 109.48,243.4 109.84,243.43 110.2,243.46 110.56,243.49 110.92,243.52 111.28,243.55 111.63,243.58 111.99,243.61 112.35,243.64 112.71,243.67 113.07,243.7 113.43,243.73 113.78,243.76 114.14,243.79 114.5,243.82 114.86,243.85 115.22,243.88 115.58,243.91 115.94,243.93 116.29,243.96 116.65,243.99 117.01,244.02 117.37,244.05 117.73,244.07 118.09,244.1 118.45,244.13 118.8,244.15 119.16,244.18 119.52,244.21 119.88,244.23 120.24,244.26 120.6,244.29 120.95,244.31 121.31,244.34 121.67,244.37 122.03,244.39 122.39,244.42 122.75,244.44 123.11,244.47 123.46,244.49 123.82,244.52 124.18,244.54 124.54,244.57 124.9,244.59 125.26,244.62 125.62,244.64 125.97,244.67 126.33,244.69 126.69,244.72 127.05,244.74 127.41,244.77 127.77,244.79 128.12,244.81 128.48,244.84 128.84,244.86 129.2,244.89 129.56,244.91 129.92,244.93 130.28,244.96 130.63,244.98 130.99,245 131.35,245.03 131.71,245.05 132.07,245.07 132.43,245.1 132.79,245.12 133.14,245.14 133.5,245.17 133.86,245.19 134.22,245.21 134.58,245.23 134.94,245.25 135.3,245.28 135.65,245.3 136.01,245.32 136.37,245.34 136.73,245.36 137.09,245.38 137.45,245.4 137.8,245.42 138.16,245.44 138.52,245.46 138.88,245.49 139.24,245.51 139.6,245.53 139.96,245.55 140.31,245.56 140.67,245.58 141.03,245.6 141.39,245.62 141.75,245.64 142.11,245.66 142.46,245.68 142.82,245.7 143.18,245.72 143.54,245.74 143.9,245.76 144.26,245.78 144.62,245.79 144.97,245.81 145.33,245.83 145.69,245.85 146.05,245.87 146.41,245.89 146.77,245.9 147.13,245.92 147.48,245.94 147.84,245.96 148.2,245.98 148.56,246 148.92,246.01 149.28,246.03 149.63,246.05 149.99,246.07 150.35,246.08 150.71,246.1 151.07,246.12 151.43,246.14 151.79,246.15 152.14,246.17 152.5,246.19 152.86,246.21 153.22,246.22 153.58,246.24 153.94,246.26 154.3,246.28 154.65,246.29 155.01,246.31 155.37,246.33 155.73,246.35 156.09,246.36 156.45,246.38 156.81,246.4 157.16,246.42 157.52,246.43 157.88,246.45 158.24,246.47 158.6,246.48 158.96,246.5 159.31,246.52 159.67,246.54 160.03,246.55 160.39,246.57 160.75,246.59 161.11,246.61 161.47,246.62 161.82,246.64 162.18,246.66 162.54,246.68 162.9,246.69 163.26,246.71 163.62,246.73 163.97,246.74 164.33,246.76 164.69,246.78 165.05,246.8 165.41,246.81 165.77,246.83 166.13,246.85 166.48,246.87 166.84,246.88 167.2,246.9 167.56,246.92 167.92,246.94 168.28,246.95 168.64,246.97 168.99,246.99 169.35,247.01 169.71,247.03 170.07,247.04 170.43,247.06 170.79,247.08 171.14,247.1 171.5,247.12 171.86,247.13 172.22,247.15 172.58,247.17 172.94,247.19 173.3,247.21 173.65,247.22 174.01,247.24 174.37,247.26 174.73,247.28 175.09,247.3 175.45,247.31 175.81,247.33 176.16,247.35 176.52,247.37 176.88,247.39 177.24,247.41 177.6,247.43 177.96,247.44 178.31,247.46 178.67,247.48 179.03,247.5 179.39,247.52 179.75,247.54 180.11,247.56 180.47,247.58 180.82,247.59 181.18,247.61 181.54,247.63 181.9,247.65 182.26,247.67 182.62,247.69 182.98,247.71 183.33,247.73 183.69,247.75 184.05,247.77 184.41,247.79 184.77,247.81 185.13,247.83 185.48,247.85 185.84,247.87 186.2,247.89 186.56,247.91 186.92,247.93 187.28,247.95 187.64,247.97 187.99,247.99 188.35,248.01 188.71,248.03 189.07,248.05 189.43,248.07 189.79,248.1 190.15,248.12 190.5,248.14 190.86,248.16 191.22,248.18 191.58,248.2 191.94,248.22 192.3,248.24 192.66,248.26 193.01,248.29 193.37,248.31 193.73,248.33 194.09,248.35 194.45,248.37 194.81,248.39 195.16,248.42 195.52,248.44 195.88,248.46 196.24,248.48 196.6,248.5 196.96,248.53 197.32,248.55 197.67,248.57 198.03,248.59 198.39,248.61 198.75,248.64 199.11,248.66 199.47,248.68 199.82,248.7 200.18,248.72 200.54,248.75 200.9,248.77 201.26,248.79 201.62,248.81 201.98,248.84 202.33,248.86 202.69,248.88 203.05,248.9 203.41,248.93 203.77,248.95 204.13,248.97 204.49,248.99 204.84,249.01 205.2,249.04 205.56,249.06 205.92,249.08 206.28,249.1 206.64,249.13 207,249.15 207.35,249.17 207.71,249.19 208.07,249.22 208.43,249.24 208.79,249.26 209.15,249.29 209.5,249.31 209.86,249.33 210.22,249.35 210.58,249.38 210.94,249.4 211.3,249.42 211.66,249.44 212.01,249.47 212.37,249.49 212.73,249.51 213.09,249.53 213.45,249.56 213.81,249.58 214.16,249.6 214.52,249.62 214.88,249.65 215.24,249.67 215.6,249.69 215.96,249.71 216.32,249.74 216.67,249.76 217.03,249.78 217.39,249.8 217.75,249.82 218.11,249.85 218.47,249.87 218.83,249.89 219.18,249.91 219.54,249.94 219.9,249.96 220.26,249.98 220.62,250 220.98,250.03 221.33,250.05 221.69,250.07 222.05,250.09 222.41,250.11 222.77,250.14 223.13,250.16" fill="none" stroke="#008000" stroke-width="3.3" stroke-linejoin="round" stroke-linecap="round" />
<path d="M56.5 234.09a1.6 1.6 0 1 0 3.2 0a1.6 1.6 0 1 0 -3.2 0M74.7 237.22a1.6 1.6 0 1 0 3.2 0a1.6 1.6 0 1 0 -3.2 0M92.9 239.8a1.6 1.6 0 1 0 3.2 0a1.6 1.6 0 1 0 -3.2 0M111.1 241.67a1.6 1.6 0 1 0 3.2 0a1.6 1.6 0 1 0 -3.2 0M129.3 243a1.6 1.6 0 1 0 3.2 0a1.6 1.6 0 1 0 -3.2 0M147.5 244.02a1.6 1.6 0 1 0 3.2 0a1.6 1.6 0 1 0 -3.2 0M165.7 244.91a1.6 1.6 0 1 0 3.2 0a1.6 1.6 0 1 0 -3.2 0M183.9 245.85a1.6 1.6 0 1 0 3.2 0a1.6 1.6 0 1 0 -3.2 0M202.1 246.94a1.6 1.6 0 1 0 3.2 0a1.6 1.6 0 1 0 -3.2 0" fill="#008000"/>
<path d="M56.6 240.39a1.5 1.5 0 1 0 3 0a1.5 1.5 0 1 0 -3 0M74.8 244.66a1.5 1.5 0 1 0 3 0a1.5 1.5 0 1 0 -3 0M93 248.6a1.5 1.5 0 1 0 3 0a1.5 1.5 0 1 0 -3 0M111.2 251.14a1.5 1.5 0 1 0 3 0a1.5 1.5 0 1 0 -3 0M129.4 252.48a1.5 1.5 0 1 0 3 0a1.5 1.5 0 1 0 -3 0M147.6 253.7a1.5 1.5 0 1 0 3 0a1.5 1.5 0 1 0 -3 0M165.8 254.82a1.5 1.5 0 1 0 3 0a1.5 1.5 0 1 0 -3 0M184 255.94a1.5 1.5 0 1 0 3 0a1.5 1.5 0 1 0 -3 0M202.2 257.14a1.5 1.5 0 1 0 3 0a1.5 1.5 0 1 0 -3 0" fill="#000000"/>
<circle cx="148.9" cy="212.5" r="2.3" fill="#000000"/>
<text x="160.9" y="215.4" font-size="8.2" text-anchor="start" >Uncoated</text>
<circle cx="148.9" cy="223.7" r="2.3" fill="#008000"/>
<text x="160.9" y="226.6" font-size="8.2" text-anchor="start" >11 µg/cm<tspan font-size="5.6" dy="-3.2">2</tspan><tspan dy="3.2"> Ni</tspan></text>
<circle cx="148.9" cy="234.9" r="2.3" fill="#800080"/>
<text x="160.9" y="237.8" font-size="8.2" text-anchor="start" >11 µg/cm<tspan font-size="5.6" dy="-3.2">2</tspan><tspan dy="3.2"> Cu</tspan></text>
<rect x="58.4" y="274.2" width="159.9" height="47.8" fill="#fff"/>
<clipPath id="icd"><rect x="58.4" y="274.2" width="159.9" height="47.8"/></clipPath>
<g clip-path="url(#icd)">
<path d="M59.9 301.6V287.69M58.5 301.6h2.8M58.5 287.69h2.8M65.29 302.51V288.31M63.89 302.51h2.8M63.89 288.31h2.8M70.69 303.32V288.83M69.29 303.32h2.8M69.29 288.83h2.8M76.08 304.07V289.3M74.68 304.07h2.8M74.68 289.3h2.8M81.48 304.8V289.74M80.08 304.8h2.8M80.08 289.74h2.8M86.87 305.54V290.18M85.47 305.54h2.8M85.47 290.18h2.8M92.27 306.29V290.65M90.87 306.29h2.8M90.87 290.65h2.8M97.66 307.02V291.09M96.26 307.02h2.8M96.26 291.09h2.8M103.06 307.73V291.52M101.66 307.73h2.8M101.66 291.52h2.8M108.45 308.43V291.93M107.05 308.43h2.8M107.05 291.93h2.8M113.85 309.12V292.33M112.45 309.12h2.8M112.45 292.33h2.8M119.24 309.8V292.72M117.84 309.8h2.8M117.84 292.72h2.8M124.64 310.47V293.11M123.24 310.47h2.8M123.24 293.11h2.8M130.03 311.14V293.49M128.63 311.14h2.8M128.63 293.49h2.8M135.42 311.81V293.87M134.02 311.81h2.8M134.02 293.87h2.8M140.82 312.47V294.25M139.42 312.47h2.8M139.42 294.25h2.8M146.21 313.14V294.63M144.81 313.14h2.8M144.81 294.63h2.8M151.61 313.81V295.01M150.21 313.81h2.8M150.21 295.01h2.8M157 314.48V295.39M155.6 314.48h2.8M155.6 295.39h2.8M162.4 315.16V295.78M161 315.16h2.8M161 295.78h2.8M167.79 315.85V296.19M166.39 315.85h2.8M166.39 296.19h2.8M173.19 316.55V296.6M171.79 316.55h2.8M171.79 296.6h2.8M178.58 317.26V297.02M177.18 317.26h2.8M177.18 297.02h2.8M183.98 317.97V297.44M182.58 317.97h2.8M182.58 297.44h2.8M189.37 318.68V297.87M187.97 318.68h2.8M187.97 297.87h2.8M194.77 319.39V298.29M193.37 319.39h2.8M193.37 298.29h2.8M200.16 320.11V298.72M198.76 320.11h2.8M198.76 298.72h2.8M205.55 320.81V299.14M204.15 320.81h2.8M204.15 299.14h2.8M210.95 321.52V299.55M209.55 321.52h2.8M209.55 299.55h2.8" stroke="#4a4a4a" stroke-width="0.8" fill="none" opacity="1.0"/>
<path d="M61.9 286.68V278.69M60.5 286.68h2.8M60.5 278.69h2.8M67.29 287.37V279.38M65.89 287.37h2.8M65.89 279.38h2.8M72.69 288.02V280.03M71.29 288.02h2.8M71.29 280.03h2.8M78.08 288.63V280.65M76.68 288.63h2.8M76.68 280.65h2.8M83.48 289.22V281.23M82.08 289.22h2.8M82.08 281.23h2.8M88.87 289.78V281.8M87.47 289.78h2.8M87.47 281.8h2.8M94.27 290.32V282.33M92.87 290.32h2.8M92.87 282.33h2.8M99.66 290.81V282.82M98.26 290.81h2.8M98.26 282.82h2.8M105.06 291.27V283.28M103.66 291.27h2.8M103.66 283.28h2.8M110.45 291.71V283.72M109.05 291.71h2.8M109.05 283.72h2.8M115.85 292.14V284.15M114.45 292.14h2.8M114.45 284.15h2.8M121.24 292.55V284.57M119.84 292.55h2.8M119.84 284.57h2.8M126.64 292.97V284.98M125.24 292.97h2.8M125.24 284.98h2.8M132.03 293.38V285.39M130.63 293.38h2.8M130.63 285.39h2.8M137.42 293.8V285.81M136.02 293.8h2.8M136.02 285.81h2.8M142.82 294.22V286.23M141.42 294.22h2.8M141.42 286.23h2.8M148.21 294.65V286.66M146.81 294.65h2.8M146.81 286.66h2.8M153.61 295.09V287.1M152.21 295.09h2.8M152.21 287.1h2.8M159 295.54V287.56M157.6 295.54h2.8M157.6 287.56h2.8M164.4 296.01V288.03M163 296.01h2.8M163 288.03h2.8M169.79 296.51V288.52M168.39 296.51h2.8M168.39 288.52h2.8M175.19 297.02V289.03M173.79 297.02h2.8M173.79 289.03h2.8M180.58 297.54V289.55M179.18 297.54h2.8M179.18 289.55h2.8M185.98 298.07V290.08M184.58 298.07h2.8M184.58 290.08h2.8M191.37 298.6V290.61M189.97 298.6h2.8M189.97 290.61h2.8M196.77 299.14V291.15M195.37 299.14h2.8M195.37 291.15h2.8M202.16 299.68V291.69M200.76 299.68h2.8M200.76 291.69h2.8M207.55 300.21V292.22M206.15 300.21h2.8M206.15 292.22h2.8M212.95 300.74V292.76M211.55 300.74h2.8M211.55 292.76h2.8" stroke="#259025" stroke-width="0.8" fill="none" opacity="1.0"/>
<path d="M60.9 281.4V272.35M59.5 281.4h2.8M59.5 272.35h2.8M66.29 281.97V272.92M64.89 281.97h2.8M64.89 272.92h2.8M71.69 282.46V273.41M70.29 282.46h2.8M70.29 273.41h2.8M77.08 282.92V273.86M75.68 282.92h2.8M75.68 273.86h2.8M82.48 283.37V274.32M81.08 283.37h2.8M81.08 274.32h2.8M87.87 283.84V274.79M86.47 283.84h2.8M86.47 274.79h2.8M93.27 284.34V275.29M91.87 284.34h2.8M91.87 275.29h2.8M98.66 284.84V275.79M97.26 284.84h2.8M97.26 275.79h2.8M104.06 285.34V276.29M102.66 285.34h2.8M102.66 276.29h2.8M109.45 285.83V276.78M108.05 285.83h2.8M108.05 276.78h2.8M114.85 286.33V277.27M113.45 286.33h2.8M113.45 277.27h2.8M120.24 286.82V277.76M118.84 286.82h2.8M118.84 277.76h2.8M125.64 287.3V278.25M124.24 287.3h2.8M124.24 278.25h2.8M131.03 287.78V278.73M129.63 287.78h2.8M129.63 278.73h2.8M136.42 288.26V279.21M135.02 288.26h2.8M135.02 279.21h2.8M141.82 288.73V279.68M140.42 288.73h2.8M140.42 279.68h2.8M147.21 289.2V280.15M145.81 289.2h2.8M145.81 280.15h2.8M152.61 289.67V280.62M151.21 289.67h2.8M151.21 280.62h2.8M158 290.13V281.08M156.6 290.13h2.8M156.6 281.08h2.8M163.4 290.6V281.54M162 290.6h2.8M162 281.54h2.8M168.79 291.06V282.01M167.39 291.06h2.8M167.39 282.01h2.8M174.19 291.54V282.49M172.79 291.54h2.8M172.79 282.49h2.8M179.58 292.01V282.96M178.18 292.01h2.8M178.18 282.96h2.8M184.98 292.49V283.44M183.58 292.49h2.8M183.58 283.44h2.8M190.37 292.97V283.91M188.97 292.97h2.8M188.97 283.91h2.8M195.77 293.44V284.39M194.37 293.44h2.8M194.37 284.39h2.8M201.16 293.91V284.86M199.76 293.91h2.8M199.76 284.86h2.8M206.55 294.38V285.33M205.15 294.38h2.8M205.15 285.33h2.8M211.95 294.84V285.79M210.55 294.84h2.8M210.55 285.79h2.8" stroke="#902590" stroke-width="0.8" fill="none" opacity="1.0"/>
<polyline points="56.1,294.01 56.6,294.1 57.1,294.18 57.6,294.27 58.1,294.35 58.6,294.44 59.1,294.52 59.6,294.6 60.1,294.67 60.6,294.75 61.1,294.83 61.6,294.9 62.1,294.97 62.6,295.04 63.1,295.11 63.59,295.18 64.09,295.25 64.59,295.32 65.09,295.39 65.59,295.45 66.09,295.52 66.59,295.58 67.09,295.64 67.59,295.71 68.09,295.77 68.59,295.83 69.09,295.89 69.59,295.95 70.09,296.01 70.59,296.07 71.09,296.12 71.59,296.18 72.09,296.24 72.59,296.3 73.09,296.35 73.59,296.41 74.08,296.46 74.58,296.52 75.08,296.58 75.58,296.63 76.08,296.69 76.58,296.74 77.08,296.79 77.58,296.85 78.08,296.9 78.58,296.96 79.08,297.01 79.58,297.07 80.08,297.12 80.58,297.17 81.08,297.23 81.58,297.28 82.08,297.34 82.58,297.39 83.08,297.44 83.58,297.5 84.07,297.55 84.57,297.61 85.07,297.66 85.57,297.72 86.07,297.77 86.57,297.83 87.07,297.88 87.57,297.94 88.07,297.99 88.57,298.05 89.07,298.11 89.57,298.16 90.07,298.22 90.57,298.28 91.07,298.33 91.57,298.39 92.07,298.44 92.57,298.5 93.07,298.55 93.56,298.61 94.06,298.66 94.56,298.72 95.06,298.77 95.56,298.83 96.06,298.88 96.56,298.94 97.06,298.99 97.56,299.04 98.06,299.1 98.56,299.15 99.06,299.2 99.56,299.26 100.06,299.31 100.56,299.36 101.06,299.42 101.56,299.47 102.06,299.52 102.56,299.57 103.06,299.62 103.56,299.68 104.05,299.73 104.55,299.78 105.05,299.83 105.55,299.88 106.05,299.93 106.55,299.99 107.05,300.04 107.55,300.09 108.05,300.14 108.55,300.19 109.05,300.24 109.55,300.29 110.05,300.34 110.55,300.39 111.05,300.44 111.55,300.49 112.05,300.54 112.55,300.59 113.05,300.64 113.55,300.69 114.04,300.74 114.54,300.79 115.04,300.84 115.54,300.89 116.04,300.94 116.54,300.99 117.04,301.04 117.54,301.09 118.04,301.14 118.54,301.19 119.04,301.24 119.54,301.29 120.04,301.34 120.54,301.39 121.04,301.44 121.54,301.48 122.04,301.53 122.54,301.58 123.04,301.63 123.53,301.68 124.03,301.73 124.53,301.78 125.03,301.83 125.53,301.88 126.03,301.92 126.53,301.97 127.03,302.02 127.53,302.07 128.03,302.12 128.53,302.17 129.03,302.22 129.53,302.27 130.03,302.31 130.53,302.36 131.03,302.41 131.53,302.46 132.03,302.51 132.53,302.56 133.03,302.61 133.53,302.65 134.02,302.7 134.52,302.75 135.02,302.8 135.52,302.85 136.02,302.9 136.52,302.94 137.02,302.99 137.52,303.04 138.02,303.09 138.52,303.14 139.02,303.19 139.52,303.24 140.02,303.28 140.52,303.33 141.02,303.38 141.52,303.43 142.02,303.48 142.52,303.53 143.02,303.57 143.52,303.62 144.01,303.67 144.51,303.72 145.01,303.77 145.51,303.82 146.01,303.87 146.51,303.91 147.01,303.96 147.51,304.01 148.01,304.06 148.51,304.11 149.01,304.16 149.51,304.21 150.01,304.25 150.51,304.3 151.01,304.35 151.51,304.4 152.01,304.45 152.51,304.5 153.01,304.55 153.5,304.6 154,304.64 154.5,304.69 155,304.74 155.5,304.79 156,304.84 156.5,304.89 157,304.94 157.5,304.99 158,305.04 158.5,305.09 159,305.13 159.5,305.18 160,305.23 160.5,305.28 161,305.33 161.5,305.38 162,305.43 162.5,305.48 163,305.53 163.5,305.58 163.99,305.63 164.49,305.68 164.99,305.73 165.49,305.78 165.99,305.83 166.49,305.89 166.99,305.94 167.49,305.99 167.99,306.04 168.49,306.09 168.99,306.14 169.49,306.19 169.99,306.24 170.49,306.3 170.99,306.35 171.49,306.4 171.99,306.45 172.49,306.5 172.99,306.55 173.49,306.61 173.98,306.66 174.48,306.71 174.98,306.76 175.48,306.81 175.98,306.87 176.48,306.92 176.98,306.97 177.48,307.02 177.98,307.07 178.48,307.13 178.98,307.18 179.48,307.23 179.98,307.28 180.48,307.34 180.98,307.39 181.48,307.44 181.98,307.49 182.48,307.55 182.98,307.6 183.47,307.65 183.97,307.7 184.47,307.76 184.97,307.81 185.47,307.86 185.97,307.92 186.47,307.97 186.97,308.02 187.47,308.07 187.97,308.13 188.47,308.18 188.97,308.23 189.47,308.28 189.97,308.34 190.47,308.39 190.97,308.44 191.47,308.5 191.97,308.55 192.47,308.6 192.97,308.65 193.47,308.71 193.96,308.76 194.46,308.81 194.96,308.86 195.46,308.92 195.96,308.97 196.46,309.02 196.96,309.07 197.46,309.13 197.96,309.18 198.46,309.23 198.96,309.29 199.46,309.34 199.96,309.39 200.46,309.44 200.96,309.49 201.46,309.55 201.96,309.6 202.46,309.65 202.96,309.7 203.45,309.76 203.95,309.81 204.45,309.86 204.95,309.91 205.45,309.97 205.95,310.02 206.45,310.07 206.95,310.12 207.45,310.17 207.95,310.22 208.45,310.28 208.95,310.33 209.45,310.38 209.95,310.43 210.45,310.48 210.95,310.54 211.45,310.59 211.95,310.64 212.45,310.69 212.95,310.74 213.44,310.79 213.94,310.84 214.44,310.9" fill="none" stroke="#000000" stroke-width="3.5" stroke-linejoin="round" stroke-linecap="round" />
<polyline points="56.1,277.06 56.6,277.13 57.1,277.2 57.6,277.27 58.1,277.33 58.6,277.4 59.1,277.46 59.6,277.52 60.1,277.58 60.6,277.64 61.1,277.7 61.6,277.75 62.1,277.81 62.6,277.86 63.1,277.92 63.59,277.97 64.09,278.02 64.59,278.07 65.09,278.12 65.59,278.17 66.09,278.22 66.59,278.27 67.09,278.32 67.59,278.36 68.09,278.41 68.59,278.46 69.09,278.5 69.59,278.55 70.09,278.59 70.59,278.64 71.09,278.68 71.59,278.72 72.09,278.77 72.59,278.81 73.09,278.85 73.59,278.89 74.08,278.94 74.58,278.98 75.08,279.02 75.58,279.06 76.08,279.11 76.58,279.15 77.08,279.19 77.58,279.23 78.08,279.27 78.58,279.31 79.08,279.36 79.58,279.4 80.08,279.44 80.58,279.48 81.08,279.52 81.58,279.57 82.08,279.61 82.58,279.65 83.08,279.69 83.58,279.74 84.07,279.78 84.57,279.82 85.07,279.87 85.57,279.91 86.07,279.95 86.57,280 87.07,280.04 87.57,280.09 88.07,280.13 88.57,280.18 89.07,280.22 89.57,280.27 90.07,280.32 90.57,280.36 91.07,280.41 91.57,280.46 92.07,280.5 92.57,280.55 93.07,280.6 93.56,280.64 94.06,280.69 94.56,280.73 95.06,280.78 95.56,280.83 96.06,280.87 96.56,280.92 97.06,280.97 97.56,281.01 98.06,281.06 98.56,281.1 99.06,281.15 99.56,281.2 100.06,281.24 100.56,281.29 101.06,281.34 101.56,281.38 102.06,281.43 102.56,281.47 103.06,281.52 103.56,281.57 104.05,281.61 104.55,281.66 105.05,281.7 105.55,281.75 106.05,281.8 106.55,281.84 107.05,281.89 107.55,281.93 108.05,281.98 108.55,282.02 109.05,282.07 109.55,282.12 110.05,282.16 110.55,282.21 111.05,282.25 111.55,282.3 112.05,282.34 112.55,282.39 113.05,282.44 113.55,282.48 114.04,282.53 114.54,282.57 115.04,282.62 115.54,282.66 116.04,282.71 116.54,282.75 117.04,282.8 117.54,282.84 118.04,282.89 118.54,282.93 119.04,282.98 119.54,283.02 120.04,283.07 120.54,283.11 121.04,283.16 121.54,283.2 122.04,283.25 122.54,283.29 123.04,283.34 123.53,283.38 124.03,283.43 124.53,283.47 125.03,283.52 125.53,283.56 126.03,283.61 126.53,283.65 127.03,283.7 127.53,283.74 128.03,283.79 128.53,283.83 129.03,283.88 129.53,283.92 130.03,283.97 130.53,284.01 131.03,284.05 131.53,284.1 132.03,284.14 132.53,284.19 133.03,284.23 133.53,284.28 134.02,284.32 134.52,284.36 135.02,284.41 135.52,284.45 136.02,284.5 136.52,284.54 137.02,284.59 137.52,284.63 138.02,284.67 138.52,284.72 139.02,284.76 139.52,284.81 140.02,284.85 140.52,284.89 141.02,284.94 141.52,284.98 142.02,285.02 142.52,285.07 143.02,285.11 143.52,285.16 144.01,285.2 144.51,285.24 145.01,285.29 145.51,285.33 146.01,285.37 146.51,285.42 147.01,285.46 147.51,285.5 148.01,285.55 148.51,285.59 149.01,285.63 149.51,285.68 150.01,285.72 150.51,285.76 151.01,285.81 151.51,285.85 152.01,285.89 152.51,285.93 153.01,285.98 153.5,286.02 154,286.06 154.5,286.11 155,286.15 155.5,286.19 156,286.23 156.5,286.28 157,286.32 157.5,286.36 158,286.4 158.5,286.45 159,286.49 159.5,286.53 160,286.58 160.5,286.62 161,286.66 161.5,286.7 162,286.75 162.5,286.79 163,286.83 163.5,286.88 163.99,286.92 164.49,286.96 164.99,287.01 165.49,287.05 165.99,287.09 166.49,287.14 166.99,287.18 167.49,287.22 167.99,287.27 168.49,287.31 168.99,287.35 169.49,287.4 169.99,287.44 170.49,287.49 170.99,287.53 171.49,287.57 171.99,287.62 172.49,287.66 172.99,287.7 173.49,287.75 173.98,287.79 174.48,287.84 174.98,287.88 175.48,287.92 175.98,287.97 176.48,288.01 176.98,288.06 177.48,288.1 177.98,288.14 178.48,288.19 178.98,288.23 179.48,288.28 179.98,288.32 180.48,288.37 180.98,288.41 181.48,288.45 181.98,288.5 182.48,288.54 182.98,288.59 183.47,288.63 183.97,288.67 184.47,288.72 184.97,288.76 185.47,288.81 185.97,288.85 186.47,288.89 186.97,288.94 187.47,288.98 187.97,289.03 188.47,289.07 188.97,289.11 189.47,289.16 189.97,289.2 190.47,289.25 190.97,289.29 191.47,289.33 191.97,289.38 192.47,289.42 192.97,289.47 193.47,289.51 193.96,289.55 194.46,289.6 194.96,289.64 195.46,289.69 195.96,289.73 196.46,289.77 196.96,289.82 197.46,289.86 197.96,289.9 198.46,289.95 198.96,289.99 199.46,290.04 199.96,290.08 200.46,290.12 200.96,290.17 201.46,290.21 201.96,290.25 202.46,290.3 202.96,290.34 203.45,290.38 203.95,290.43 204.45,290.47 204.95,290.51 205.45,290.56 205.95,290.6 206.45,290.64 206.95,290.69 207.45,290.73 207.95,290.77 208.45,290.81 208.95,290.86 209.45,290.9 209.95,290.94 210.45,290.99 210.95,291.03 211.45,291.07 211.95,291.11 212.45,291.16 212.95,291.2 213.44,291.24 213.94,291.28 214.44,291.33" fill="none" stroke="#800080" stroke-width="3.5" stroke-linejoin="round" stroke-linecap="round" />
<polyline points="56.1,281.62 56.6,281.69 57.1,281.76 57.6,281.83 58.1,281.9 58.6,281.97 59.1,282.04 59.6,282.11 60.1,282.18 60.6,282.25 61.1,282.31 61.6,282.38 62.1,282.45 62.6,282.51 63.1,282.58 63.59,282.64 64.09,282.71 64.59,282.77 65.09,282.84 65.59,282.9 66.09,282.96 66.59,283.02 67.09,283.09 67.59,283.15 68.09,283.21 68.59,283.27 69.09,283.33 69.59,283.39 70.09,283.45 70.59,283.51 71.09,283.57 71.59,283.63 72.09,283.69 72.59,283.75 73.09,283.81 73.59,283.86 74.08,283.92 74.58,283.98 75.08,284.04 75.58,284.09 76.08,284.15 76.58,284.21 77.08,284.26 77.58,284.32 78.08,284.37 78.58,284.43 79.08,284.48 79.58,284.54 80.08,284.59 80.58,284.65 81.08,284.7 81.58,284.76 82.08,284.81 82.58,284.86 83.08,284.92 83.58,284.97 84.07,285.02 84.57,285.08 85.07,285.13 85.57,285.18 86.07,285.23 86.57,285.29 87.07,285.34 87.57,285.39 88.07,285.44 88.57,285.49 89.07,285.54 89.57,285.6 90.07,285.65 90.57,285.7 91.07,285.75 91.57,285.8 92.07,285.85 92.57,285.89 93.07,285.94 93.56,285.99 94.06,286.04 94.56,286.09 95.06,286.13 95.56,286.18 96.06,286.23 96.56,286.27 97.06,286.32 97.56,286.36 98.06,286.41 98.56,286.45 99.06,286.5 99.56,286.54 100.06,286.58 100.56,286.63 101.06,286.67 101.56,286.72 102.06,286.76 102.56,286.8 103.06,286.84 103.56,286.89 104.05,286.93 104.55,286.97 105.05,287.01 105.55,287.05 106.05,287.09 106.55,287.14 107.05,287.18 107.55,287.22 108.05,287.26 108.55,287.3 109.05,287.34 109.55,287.38 110.05,287.42 110.55,287.46 111.05,287.5 111.55,287.54 112.05,287.58 112.55,287.62 113.05,287.66 113.55,287.7 114.04,287.74 114.54,287.78 115.04,287.81 115.54,287.85 116.04,287.89 116.54,287.93 117.04,287.97 117.54,288.01 118.04,288.05 118.54,288.09 119.04,288.12 119.54,288.16 120.04,288.2 120.54,288.24 121.04,288.28 121.54,288.32 122.04,288.36 122.54,288.39 123.04,288.43 123.53,288.47 124.03,288.51 124.53,288.55 125.03,288.58 125.53,288.62 126.03,288.66 126.53,288.7 127.03,288.74 127.53,288.78 128.03,288.81 128.53,288.85 129.03,288.89 129.53,288.93 130.03,288.97 130.53,289 131.03,289.04 131.53,289.08 132.03,289.12 132.53,289.16 133.03,289.2 133.53,289.24 134.02,289.27 134.52,289.31 135.02,289.35 135.52,289.39 136.02,289.43 136.52,289.47 137.02,289.51 137.52,289.54 138.02,289.58 138.52,289.62 139.02,289.66 139.52,289.7 140.02,289.74 140.52,289.78 141.02,289.82 141.52,289.86 142.02,289.9 142.52,289.94 143.02,289.97 143.52,290.01 144.01,290.05 144.51,290.09 145.01,290.13 145.51,290.17 146.01,290.21 146.51,290.25 147.01,290.29 147.51,290.33 148.01,290.37 148.51,290.41 149.01,290.45 149.51,290.49 150.01,290.54 150.51,290.58 151.01,290.62 151.51,290.66 152.01,290.7 152.51,290.74 153.01,290.78 153.5,290.82 154,290.86 154.5,290.9 155,290.95 155.5,290.99 156,291.03 156.5,291.07 157,291.11 157.5,291.16 158,291.2 158.5,291.24 159,291.28 159.5,291.33 160,291.37 160.5,291.41 161,291.45 161.5,291.5 162,291.54 162.5,291.59 163,291.63 163.5,291.67 163.99,291.72 164.49,291.76 164.99,291.81 165.49,291.85 165.99,291.9 166.49,291.94 166.99,291.99 167.49,292.03 167.99,292.08 168.49,292.13 168.99,292.17 169.49,292.22 169.99,292.27 170.49,292.31 170.99,292.36 171.49,292.41 171.99,292.45 172.49,292.5 172.99,292.55 173.49,292.59 173.98,292.64 174.48,292.69 174.98,292.74 175.48,292.78 175.98,292.83 176.48,292.88 176.98,292.93 177.48,292.98 177.98,293.02 178.48,293.07 178.98,293.12 179.48,293.17 179.98,293.22 180.48,293.27 180.98,293.32 181.48,293.36 181.98,293.41 182.48,293.46 182.98,293.51 183.47,293.56 183.97,293.61 184.47,293.66 184.97,293.71 185.47,293.76 185.97,293.81 186.47,293.86 186.97,293.9 187.47,293.95 187.97,294 188.47,294.05 188.97,294.1 189.47,294.15 189.97,294.2 190.47,294.25 190.97,294.3 191.47,294.35 191.97,294.4 192.47,294.45 192.97,294.5 193.47,294.55 193.96,294.6 194.46,294.65 194.96,294.7 195.46,294.75 195.96,294.8 196.46,294.85 196.96,294.9 197.46,294.95 197.96,295 198.46,295.05 198.96,295.1 199.46,295.15 199.96,295.2 200.46,295.25 200.96,295.3 201.46,295.35 201.96,295.4 202.46,295.45 202.96,295.5 203.45,295.55 203.95,295.6 204.45,295.64 204.95,295.69 205.45,295.74 205.95,295.79 206.45,295.84 206.95,295.89 207.45,295.94 207.95,295.99 208.45,296.04 208.95,296.09 209.45,296.14 209.95,296.19 210.45,296.24 210.95,296.29 211.45,296.34 211.95,296.39 212.45,296.44 212.95,296.48 213.44,296.53 213.94,296.58 214.44,296.63" fill="none" stroke="#008000" stroke-width="3.5" stroke-linejoin="round" stroke-linecap="round" />
<path d="M59.3 289.31a1.7 1.7 0 1 0 3.4 0a1.7 1.7 0 1 0 -3.4 0M84.7 292.31a1.7 1.7 0 1 0 3.4 0a1.7 1.7 0 1 0 -3.4 0M110.1 295.02a1.7 1.7 0 1 0 3.4 0a1.7 1.7 0 1 0 -3.4 0M135.5 297.51a1.7 1.7 0 1 0 3.4 0a1.7 1.7 0 1 0 -3.4 0M160.9 299.99a1.7 1.7 0 1 0 3.4 0a1.7 1.7 0 1 0 -3.4 0M186.3 302.63a1.7 1.7 0 1 0 3.4 0a1.7 1.7 0 1 0 -3.4 0M211.7 305.29a1.7 1.7 0 1 0 3.4 0a1.7 1.7 0 1 0 -3.4 0" fill="#000000"/>
<path d="M59.3 274.68a1.7 1.7 0 1 0 3.4 0a1.7 1.7 0 1 0 -3.4 0M84.7 276.98a1.7 1.7 0 1 0 3.4 0a1.7 1.7 0 1 0 -3.4 0M110.1 279.32a1.7 1.7 0 1 0 3.4 0a1.7 1.7 0 1 0 -3.4 0M135.5 281.6a1.7 1.7 0 1 0 3.4 0a1.7 1.7 0 1 0 -3.4 0M160.9 283.8a1.7 1.7 0 1 0 3.4 0a1.7 1.7 0 1 0 -3.4 0M186.3 286.03a1.7 1.7 0 1 0 3.4 0a1.7 1.7 0 1 0 -3.4 0M211.7 288.24a1.7 1.7 0 1 0 3.4 0a1.7 1.7 0 1 0 -3.4 0" fill="#800080"/>
</g>
<rect x="58.4" y="274.2" width="159.9" height="47.8" fill="none" stroke="#000" stroke-width="1.3"/>
<path d="M108.55 322v-2.5M108.55 274.2v2.5M158.5 322v-2.5M158.5 274.2v2.5M208.45 322v-2.5M208.45 274.2v2.5" stroke="#000" stroke-width="1.0"/>
<path d="M83.58 322v-1.5M83.58 274.2v1.5M133.53 322v-1.5M133.53 274.2v1.5M183.47 322v-1.5M183.47 274.2v1.5" stroke="#000" stroke-width="1.0"/>
<path d="M58.4 316.8h2.5M218.3 316.8h-2.5M58.4 274.2h2.5M218.3 274.2h-2.5" stroke="#000" stroke-width="1.0"/>
<path d="M58.4 306.15h1.5M218.3 306.15h-1.5M58.4 295.5h1.5M218.3 295.5h-1.5M58.4 284.85h1.5M218.3 284.85h-1.5" stroke="#000" stroke-width="1.0"/>
<text x="58.6" y="332.9" font-size="10" text-anchor="middle" >200</text>
<text x="108.55" y="332.9" font-size="10" text-anchor="middle" >300</text>
<text x="158.5" y="332.9" font-size="10" text-anchor="middle" >400</text>
<text x="208.45" y="332.9" font-size="10" text-anchor="middle" >500</text>
<text x="55.9" y="277.7" font-size="10" text-anchor="end" >2.0</text>
<text x="55.9" y="320.3" font-size="10" text-anchor="end" >1.6</text>
<path d="M282.6 150.3v-3.0M282.6 17.7v3.0M318.45 150.3v-3.0M318.45 17.7v3.0M354.3 150.3v-3.0M354.3 17.7v3.0M390.15 150.3v-3.0M390.15 17.7v3.0M426 150.3v-3.0M426 17.7v3.0M461.85 150.3v-3.0M461.85 17.7v3.0" stroke="#000" stroke-width="1.0"/>
<path d="M300.53 150.3v-1.8M300.53 17.7v1.8M336.38 150.3v-1.8M336.38 17.7v1.8M372.23 150.3v-1.8M372.23 17.7v1.8M408.08 150.3v-1.8M408.08 17.7v1.8M443.93 150.3v-1.8M443.93 17.7v1.8" stroke="#000" stroke-width="1.0"/>
<path d="M281 150.3h3.0M468.6 150.3h-3.0M281 117.73h3.0M468.6 117.73h-3.0M281 85.15h3.0M468.6 85.15h-3.0M281 52.58h3.0M468.6 52.58h-3.0M281 20h3.0M468.6 20h-3.0" stroke="#000" stroke-width="1.0"/>
<path d="M281 134.01h1.8M468.6 134.01h-1.8M281 101.44h1.8M468.6 101.44h-1.8M281 68.86h1.8M468.6 68.86h-1.8M281 36.29h1.8M468.6 36.29h-1.8" stroke="#000" stroke-width="1.0"/>
<text x="282.6" y="163.2" font-size="11.5" text-anchor="middle" >0</text>
<text x="318.45" y="163.2" font-size="11.5" text-anchor="middle" >100</text>
<text x="354.3" y="163.2" font-size="11.5" text-anchor="middle" >200</text>
<text x="390.15" y="163.2" font-size="11.5" text-anchor="middle" >300</text>
<text x="426" y="163.2" font-size="11.5" text-anchor="middle" >400</text>
<text x="461.85" y="163.2" font-size="11.5" text-anchor="middle" >500</text>
<text x="277.7" y="153.9" font-size="11.5" text-anchor="end" >60</text>
<text x="277.7" y="121.33" font-size="11.5" text-anchor="end" >70</text>
<text x="277.7" y="88.75" font-size="11.5" text-anchor="end" >80</text>
<text x="277.7" y="56.18" font-size="11.5" text-anchor="end" >90</text>
<text x="277.7" y="23.6" font-size="11.5" text-anchor="end" >100</text>
<text x="374.8" y="183.2" font-size="13.7" text-anchor="middle" >Cycle Number</text>
<text transform="translate(254.1,84.2) rotate(-90)" font-size="13.7" text-anchor="middle">Capacity Retention (%)</text>
<text x="281.2" y="9.8" font-size="14" text-anchor="start" >(b)</text>
<path d="M286.6 46.11V29.39M285.4 46.11h2.4M285.4 29.39h2.4M290.5 63.41V46.6M289.3 63.41h2.4M289.3 46.6h2.4M294.4 69.69V52.78M293.2 69.69h2.4M293.2 52.78h2.4M298.3 74.01V57M297.1 74.01h2.4M297.1 57h2.4M302.2 77.69V60.58M301 77.69h2.4M301 60.58h2.4M306.1 81.3V64.09M304.9 81.3h2.4M304.9 64.09h2.4M310 84.55V67.24M308.8 84.55h2.4M308.8 67.24h2.4M313.9 87.29V69.88M312.7 87.29h2.4M312.7 69.88h2.4M317.8 89.73V72.22M316.6 89.73h2.4M316.6 72.22h2.4M321.7 92.01V74.4M320.5 92.01h2.4M320.5 74.4h2.4M325.6 94.16V76.45M324.4 94.16h2.4M324.4 76.45h2.4M329.5 96.06V78.25M328.3 96.06h2.4M328.3 78.25h2.4M333.4 97.65V79.75M332.2 97.65h2.4M332.2 79.75h2.4M337.3 99.08V81.07M336.1 99.08h2.4M336.1 81.07h2.4" stroke="#4a4a4a" stroke-width="0.85" fill="none" opacity="1.0"/>
<path d="M340 100.39h2.4M340 82.28h2.4M343.9 101.65h2.4M343.9 83.45h2.4M347.8 102.92h2.4M347.8 84.62h2.4M351.7 104.22h2.4M351.7 85.81h2.4M355.6 105.5h2.4M355.6 87h2.4M359.5 106.75h2.4M359.5 88.15h2.4M363.4 107.96h2.4M363.4 89.26h2.4M367.3 109.12h2.4M367.3 90.32h2.4M371.2 110.21h2.4M371.2 91.31h2.4M375.1 111.27h2.4M375.1 92.27h2.4M379 112.3h2.4M379 93.21h2.4M382.9 113.3h2.4M382.9 94.11h2.4M386.8 114.28h2.4M386.8 94.99h2.4M390.7 115.24h2.4M390.7 95.84h2.4M394.6 116.17h2.4M394.6 96.67h2.4M398.5 117.07h2.4M398.5 97.48h2.4M402.4 117.96h2.4M402.4 98.27h2.4M406.3 118.84h2.4M406.3 99.04h2.4M410.2 119.69h2.4M410.2 99.8h2.4M414.1 120.52h2.4M414.1 100.53h2.4M418 121.34h2.4M418 101.25h2.4M421.9 122.12h2.4M421.9 101.94h2.4M425.8 122.89h2.4M425.8 102.6h2.4M429.7 123.62h2.4M429.7 103.23h2.4M433.6 124.32h2.4M433.6 103.84h2.4M437.5 125.01h2.4M437.5 104.43h2.4M441.4 125.68h2.4M441.4 105h2.4M445.3 126.34h2.4M445.3 105.56h2.4M449.2 126.98h2.4M449.2 106.1h2.4M453.1 127.6h2.4M453.1 106.62h2.4M457 128.2h2.4M457 107.11h2.4M460.9 128.77h2.4M460.9 107.59h2.4M464.8 129.32h2.4M464.8 108.04h2.4" stroke="#4a4a4a" stroke-width="0.85" fill="none" opacity="1.0"/>
<path d="M284.6 31.53V20.13M283.4 31.53h2.4M283.4 20.13h2.4M288.5 44.35V32.95M287.3 44.35h2.4M287.3 32.95h2.4M292.4 54.67V43.27M291.2 54.67h2.4M291.2 43.27h2.4M296.3 61.16V49.76M295.1 61.16h2.4M295.1 49.76h2.4M300.2 65.83V54.43M299 65.83h2.4M299 54.43h2.4M304.1 69.61V58.2M302.9 69.61h2.4M302.9 58.2h2.4M308 72.75V61.35M306.8 72.75h2.4M306.8 61.35h2.4M311.9 75.14V63.74M310.7 75.14h2.4M310.7 63.74h2.4M315.8 77.06V65.66M314.6 77.06h2.4M314.6 65.66h2.4M319.7 78.69V67.29M318.5 78.69h2.4M318.5 67.29h2.4M323.6 80.12V68.72M322.4 80.12h2.4M322.4 68.72h2.4M327.5 81.44V70.03M326.3 81.44h2.4M326.3 70.03h2.4M331.4 82.66V71.26M330.2 82.66h2.4M330.2 71.26h2.4M335.3 83.79V72.39M334.1 83.79h2.4M334.1 72.39h2.4M339.2 84.85V73.45M338 84.85h2.4M338 73.45h2.4M343.1 85.85V74.45M341.9 85.85h2.4M341.9 74.45h2.4M347 86.8V75.4M345.8 86.8h2.4M345.8 75.4h2.4M350.9 87.72V76.32M349.7 87.72h2.4M349.7 76.32h2.4M354.8 88.63V77.23M353.6 88.63h2.4M353.6 77.23h2.4M358.7 89.49V78.09M357.5 89.49h2.4M357.5 78.09h2.4M362.6 90.3V78.9M361.4 90.3h2.4M361.4 78.9h2.4M366.5 91.08V79.68M365.3 91.08h2.4M365.3 79.68h2.4M370.4 91.85V80.45M369.2 91.85h2.4M369.2 80.45h2.4M374.3 92.62V81.22M373.1 92.62h2.4M373.1 81.22h2.4M378.2 93.42V82.02M377 93.42h2.4M377 82.02h2.4M382.1 94.26V82.86M380.9 94.26h2.4M380.9 82.86h2.4M386 95.16V83.76M384.8 95.16h2.4M384.8 83.76h2.4M389.9 96.08V84.68M388.7 96.08h2.4M388.7 84.68h2.4M393.8 97.02V85.62M392.6 97.02h2.4M392.6 85.62h2.4M397.7 97.95V86.55M396.5 97.95h2.4M396.5 86.55h2.4M401.6 98.85V87.45M400.4 98.85h2.4M400.4 87.45h2.4M405.5 99.71V88.31M404.3 99.71h2.4M404.3 88.31h2.4M409.4 100.51V89.11M408.2 100.51h2.4M408.2 89.11h2.4M413.3 101.26V89.86M412.1 101.26h2.4M412.1 89.86h2.4M417.2 101.98V90.57M416 101.98h2.4M416 90.57h2.4M421.1 102.67V91.27M419.9 102.67h2.4M419.9 91.27h2.4M425 103.35V91.95M423.8 103.35h2.4M423.8 91.95h2.4M428.9 104.04V92.63M427.7 104.04h2.4M427.7 92.63h2.4M432.8 104.73V93.33M431.6 104.73h2.4M431.6 93.33h2.4M436.7 105.44V94.03M435.5 105.44h2.4M435.5 94.03h2.4M440.6 106.15V94.75M439.4 106.15h2.4M439.4 94.75h2.4M444.5 106.88V95.48M443.3 106.88h2.4M443.3 95.48h2.4M448.4 107.6V96.2M447.2 107.6h2.4M447.2 96.2h2.4M452.3 108.31V96.91M451.1 108.31h2.4M451.1 96.91h2.4M456.2 109.01V97.61M455 109.01h2.4M455 97.61h2.4M460.1 109.7V98.3M458.9 109.7h2.4M458.9 98.3h2.4M464 110.36V98.96M462.8 110.36h2.4M462.8 98.96h2.4" stroke="#3838ff" stroke-width="0.85" fill="none" opacity="1.0"/>
<path d="M286.6 38.75V29.21M285.4 38.75h2.4M285.4 29.21h2.4M290.5 52.96V41.84M289.3 52.96h2.4M289.3 41.84h2.4M294.4 61.37V48.76M293.2 61.37h2.4M293.2 48.76h2.4M298.3 67.74V53.73M297.1 67.74h2.4M297.1 53.73h2.4M302.2 72.48V57.15M301 72.48h2.4M301 57.15h2.4M306.1 76.27V59.71M304.9 76.27h2.4M304.9 59.71h2.4M310 79.62V61.89M308.8 79.62h2.4M308.8 61.89h2.4M313.9 82.81V63.97M312.7 82.81h2.4M312.7 63.97h2.4M317.8 85.8V65.93M316.6 85.8h2.4M316.6 65.93h2.4M321.7 88.58V67.73M320.5 88.58h2.4M320.5 67.73h2.4M325.6 91.14V69.37M324.4 91.14h2.4M324.4 69.37h2.4M329.5 93.49V70.86M328.3 93.49h2.4M328.3 70.86h2.4M333.4 95.71V72.27M332.2 95.71h2.4M332.2 72.27h2.4M337.3 97.81V73.61M336.1 97.81h2.4M336.1 73.61h2.4M341.2 99.8V74.87M340 99.8h2.4M340 74.87h2.4M345.1 101.67V76.07M343.9 101.67h2.4M343.9 76.07h2.4M349 103.44V77.2M347.8 103.44h2.4M347.8 77.2h2.4M352.9 105.1V78.26M351.7 105.1h2.4M351.7 78.26h2.4M356.8 106.66V79.26M355.6 106.66h2.4M355.6 79.26h2.4M360.7 108.16V80.22M359.5 108.16h2.4M359.5 80.22h2.4M364.6 109.58V81.14M363.4 109.58h2.4M363.4 81.14h2.4M368.5 110.92V82.01M367.3 110.92h2.4M367.3 82.01h2.4M372.4 112.18V82.83M371.2 112.18h2.4M371.2 82.83h2.4M376.3 113.37V83.59M375.1 113.37h2.4M375.1 83.59h2.4M380.2 114.47V84.3M379 114.47h2.4M379 84.3h2.4M384.1 115.48V84.95M382.9 115.48h2.4M382.9 84.95h2.4M388 116.43V85.54M386.8 116.43h2.4M386.8 85.54h2.4M391.9 117.32V86.1M390.7 117.32h2.4M390.7 86.1h2.4M395.8 118.16V86.63M394.6 118.16h2.4M394.6 86.63h2.4M399.7 118.97V87.15M398.5 118.97h2.4M398.5 87.15h2.4M403.6 119.75V87.67M402.4 119.75h2.4M402.4 87.67h2.4M407.5 120.54V88.19M406.3 120.54h2.4M406.3 88.19h2.4M411.4 121.31V88.72M410.2 121.31h2.4M410.2 88.72h2.4M415.3 122.05V89.24M414.1 122.05h2.4M414.1 89.24h2.4M419.2 122.78V89.75M418 122.78h2.4M418 89.75h2.4M423.1 123.49V90.26M421.9 123.49h2.4M421.9 90.26h2.4M427 124.19V90.76M425.8 124.19h2.4M425.8 90.76h2.4M430.9 124.87V91.27M429.7 124.87h2.4M429.7 91.27h2.4M434.8 125.55V91.77M433.6 125.55h2.4M433.6 91.77h2.4M438.7 126.2V92.27M437.5 126.2h2.4M437.5 92.27h2.4M442.6 126.84V92.75M441.4 126.84h2.4M441.4 92.75h2.4M446.5 127.46V93.24M445.3 127.46h2.4M445.3 93.24h2.4M450.4 128.08V93.72M449.2 128.08h2.4M449.2 93.72h2.4M454.3 128.7V94.22M453.1 128.7h2.4M453.1 94.22h2.4M458.2 129.33V94.74M457 129.33h2.4M457 94.74h2.4M462.1 129.99V95.28M460.9 129.99h2.4M460.9 95.28h2.4M466 130.69V95.88M464.8 130.69h2.4M464.8 95.88h2.4" stroke="#ff5050" stroke-width="0.7" fill="none" opacity="1.0"/>
<polyline points="282.96,20 283.32,20.57 283.68,21.34 284.03,22.28 284.39,23.5 284.75,25.06 285.11,26.85 285.47,28.74 285.83,30.63 286.19,32.38 286.54,34.07 286.9,35.85 287.26,37.68 287.62,39.53 287.98,41.38 288.34,43.19 288.69,44.93 289.05,46.57 289.41,48.09 289.77,49.46 290.13,50.63 290.49,51.6 290.85,52.41 291.2,53.14 291.56,53.81 291.92,54.43 292.28,55 292.64,55.54 293,56.04 293.36,56.53 293.71,57 294.07,57.46 294.43,57.92 294.79,58.37 295.15,58.8 295.51,59.22 295.86,59.63 296.22,60.03 296.58,60.42 296.94,60.8 297.3,61.17 297.66,61.53 298.02,61.89 298.37,62.24 298.73,62.59 299.09,62.93 299.45,63.27 299.81,63.6 300.17,63.94 300.53,64.27 300.88,64.6 301.24,64.93 301.6,65.26 301.96,65.6 302.32,65.93 302.68,66.27 303.03,66.6 303.39,66.94 303.75,67.27 304.11,67.6 304.47,67.93 304.83,68.26 305.19,68.59 305.54,68.91 305.9,69.23 306.26,69.55 306.62,69.86 306.98,70.17 307.34,70.48 307.7,70.78 308.05,71.08 308.41,71.38 308.77,71.67 309.13,71.95 309.49,72.23 309.85,72.5 310.2,72.77 310.56,73.03 310.92,73.3 311.28,73.55 311.64,73.8 312,74.06 312.36,74.3 312.71,74.55 313.07,74.79 313.43,75.03 313.79,75.26 314.15,75.5 314.51,75.73 314.87,75.95 315.22,76.18 315.58,76.4 315.94,76.63 316.3,76.85 316.66,77.06 317.02,77.28 317.37,77.5 317.73,77.71 318.09,77.92 318.45,78.13 318.81,78.34 319.17,78.55 319.53,78.75 319.88,78.96 320.24,79.17 320.6,79.37 320.96,79.58 321.32,79.78 321.68,79.98 322.04,80.18 322.39,80.39 322.75,80.59 323.11,80.79 323.47,80.98 323.83,81.18 324.19,81.37 324.54,81.57 324.9,81.76 325.26,81.95 325.62,82.13 325.98,82.32 326.34,82.5 326.7,82.68 327.05,82.86 327.41,83.03 327.77,83.2 328.13,83.37 328.49,83.54 328.85,83.7 329.21,83.86 329.56,84.02 329.92,84.17 330.28,84.32 330.64,84.47 331,84.62 331.36,84.76 331.71,84.91 332.07,85.05 332.43,85.19 332.79,85.33 333.15,85.46 333.51,85.6 333.87,85.73 334.22,85.86 334.58,86 334.94,86.13 335.3,86.25 335.66,86.38 336.02,86.51 336.38,86.63 336.73,86.76 337.09,86.88 337.45,87 337.81,87.12 338.17,87.25 338.53,87.36 338.88,87.48 339.24,87.6 339.6,87.72 339.96,87.84 340.32,87.95 340.68,88.07 341.04,88.18 341.39,88.3 341.75,88.41 342.11,88.53 342.47,88.64 342.83,88.75 343.19,88.87 343.55,88.98 343.9,89.09 344.26,89.21 344.62,89.32 344.98,89.43 345.34,89.54 345.7,89.66 346.05,89.77 346.41,89.88 346.77,90 347.13,90.11 347.49,90.23 347.85,90.34 348.21,90.46 348.56,90.57 348.92,90.69 349.28,90.8 349.64,90.92 350,91.04 350.36,91.15 350.72,91.27 351.07,91.39 351.43,91.5 351.79,91.62 352.15,91.74 352.51,91.85 352.87,91.97 353.22,92.08 353.58,92.2 353.94,92.31 354.3,92.43 354.66,92.55 355.02,92.66 355.38,92.78 355.73,92.89 356.09,93.01 356.45,93.12 356.81,93.23 357.17,93.35 357.53,93.46 357.88,93.57 358.24,93.69 358.6,93.8 358.96,93.91 359.32,94.03 359.68,94.14 360.04,94.25 360.39,94.36 360.75,94.47 361.11,94.58 361.47,94.69 361.83,94.8 362.19,94.91 362.55,95.02 362.9,95.13 363.26,95.24 363.62,95.35 363.98,95.45 364.34,95.56 364.7,95.67 365.06,95.77 365.41,95.88 365.77,95.98 366.13,96.09 366.49,96.19 366.85,96.3 367.21,96.4 367.56,96.5 367.92,96.6 368.28,96.71 368.64,96.81 369,96.91 369.36,97.01 369.72,97.1 370.07,97.2 370.43,97.3 370.79,97.4 371.15,97.5 371.51,97.59 371.87,97.69 372.23,97.79 372.58,97.88 372.94,97.98 373.3,98.07 373.66,98.17 374.02,98.26 374.38,98.36 374.73,98.45 375.09,98.55 375.45,98.64 375.81,98.74 376.17,98.83 376.53,98.92 376.89,99.02 377.24,99.11 377.6,99.2 377.96,99.29 378.32,99.39 378.68,99.48 379.04,99.57 379.4,99.66 379.75,99.75 380.11,99.84 380.47,99.93 380.83,100.02 381.19,100.11 381.55,100.2 381.9,100.29 382.26,100.38 382.62,100.47 382.98,100.56 383.34,100.65 383.7,100.74 384.06,100.83 384.41,100.92 384.77,101.01 385.13,101.09 385.49,101.18 385.85,101.27 386.21,101.36 386.56,101.44 386.92,101.53 387.28,101.62 387.64,101.7 388,101.79 388.36,101.87 388.72,101.96 389.07,102.05 389.43,102.13 389.79,102.22 390.15,102.3 390.51,102.39 390.87,102.47 391.23,102.56 391.58,102.64 391.94,102.72 392.3,102.81 392.66,102.89 393.02,102.97 393.38,103.06 393.74,103.14 394.09,103.22 394.45,103.31 394.81,103.39 395.17,103.47 395.53,103.55 395.89,103.63 396.24,103.72 396.6,103.8 396.96,103.88 397.32,103.96 397.68,104.04 398.04,104.12 398.4,104.2 398.75,104.28 399.11,104.36 399.47,104.44 399.83,104.53 400.19,104.6 400.55,104.68 400.91,104.76 401.26,104.84 401.62,104.92 401.98,105 402.34,105.08 402.7,105.16 403.06,105.24 403.41,105.32 403.77,105.4 404.13,105.47 404.49,105.55 404.85,105.63 405.21,105.71 405.57,105.78 405.92,105.86 406.28,105.94 406.64,106.02 407,106.09 407.36,106.17 407.72,106.25 408.08,106.32 408.43,106.4 408.79,106.48 409.15,106.55 409.51,106.63 409.87,106.7 410.23,106.78 410.58,106.86 410.94,106.93 411.3,107.01 411.66,107.08 412.02,107.16 412.38,107.23 412.74,107.3 413.09,107.38 413.45,107.45 413.81,107.53 414.17,107.6 414.53,107.67 414.89,107.75 415.25,107.82 415.6,107.89 415.96,107.97 416.32,108.04 416.68,108.11 417.04,108.18 417.4,108.26 417.75,108.33 418.11,108.4 418.47,108.47 418.83,108.54 419.19,108.61 419.55,108.68 419.91,108.76 420.26,108.83 420.62,108.9 420.98,108.97 421.34,109.04 421.7,109.11 422.06,109.17 422.42,109.24 422.77,109.31 423.13,109.38 423.49,109.45 423.85,109.52 424.21,109.59 424.57,109.65 424.92,109.72 425.28,109.79 425.64,109.86 426,109.92 426.36,109.99 426.72,110.06 427.08,110.12 427.43,110.19 427.79,110.25 428.15,110.32 428.51,110.38 428.87,110.45 429.23,110.51 429.59,110.58 429.94,110.64 430.3,110.71 430.66,110.77 431.02,110.83 431.38,110.9 431.74,110.96 432.09,111.02 432.45,111.09 432.81,111.15 433.17,111.21 433.53,111.27 433.89,111.33 434.25,111.39 434.6,111.46 434.96,111.52 435.32,111.58 435.68,111.64 436.04,111.7 436.4,111.76 436.75,111.82 437.11,111.88 437.47,111.94 437.83,112 438.19,112.06 438.55,112.12 438.91,112.18 439.26,112.24 439.62,112.3 439.98,112.36 440.34,112.42 440.7,112.48 441.06,112.54 441.42,112.6 441.77,112.66 442.13,112.72 442.49,112.78 442.85,112.83 443.21,112.89 443.57,112.95 443.93,113.01 444.28,113.07 444.64,113.12 445,113.18 445.36,113.24 445.72,113.3 446.08,113.35 446.43,113.41 446.79,113.47 447.15,113.53 447.51,113.58 447.87,113.64 448.23,113.69 448.59,113.75 448.94,113.81 449.3,113.86 449.66,113.92 450.02,113.97 450.38,114.03 450.74,114.08 451.1,114.14 451.45,114.19 451.81,114.25 452.17,114.3 452.53,114.36 452.89,114.41 453.25,114.46 453.6,114.52 453.96,114.57 454.32,114.63 454.68,114.68 455.04,114.73 455.4,114.78 455.76,114.84 456.11,114.89 456.47,114.94 456.83,114.99 457.19,115.05 457.55,115.1 457.91,115.15 458.26,115.2 458.62,115.25 458.98,115.3 459.34,115.35 459.7,115.4 460.06,115.46 460.42,115.51 460.77,115.56 461.13,115.61 461.49,115.65 461.85,115.7 462.21,115.75 462.57,115.8 462.93,115.85 463.28,115.9 463.64,115.95 464,116 464.36,116.05 464.72,116.09 465.08,116.14 465.44,116.19 465.79,116.24 466.15,116.28 466.51,116.33 466.87,116.38 467.23,116.42" fill="none" stroke="#000000" stroke-width="3.3" stroke-linejoin="round" stroke-linecap="round" />
<polyline points="282.96,20 283.32,21.48 283.68,22.93 284.03,24.37 284.39,25.78 284.75,27.17 285.11,28.53 285.47,29.86 285.83,31.18 286.19,32.49 286.54,33.78 286.9,35.06 287.26,36.33 287.62,37.59 287.98,38.88 288.34,40.19 288.69,41.52 289.05,42.83 289.41,44.09 289.77,45.28 290.13,46.38 290.49,47.36 290.85,48.25 291.2,49.09 291.56,49.88 291.92,50.63 292.28,51.34 292.64,52.03 293,52.68 293.36,53.32 293.71,53.93 294.07,54.53 294.43,55.12 294.79,55.7 295.15,56.26 295.51,56.82 295.86,57.37 296.22,57.9 296.58,58.42 296.94,58.93 297.3,59.43 297.66,59.91 298.02,60.38 298.37,60.83 298.73,61.27 299.09,61.69 299.45,62.1 299.81,62.48 300.17,62.86 300.53,63.22 300.88,63.58 301.24,63.92 301.6,64.26 301.96,64.6 302.32,64.92 302.68,65.24 303.03,65.55 303.39,65.85 303.75,66.15 304.11,66.45 304.47,66.74 304.83,67.02 305.19,67.3 305.54,67.57 305.9,67.84 306.26,68.11 306.62,68.37 306.98,68.63 307.34,68.89 307.7,69.15 308.05,69.4 308.41,69.65 308.77,69.9 309.13,70.15 309.49,70.4 309.85,70.65 310.2,70.89 310.56,71.14 310.92,71.39 311.28,71.64 311.64,71.88 312,72.12 312.36,72.37 312.71,72.61 313.07,72.85 313.43,73.08 313.79,73.32 314.15,73.55 314.51,73.79 314.87,74.02 315.22,74.25 315.58,74.48 315.94,74.71 316.3,74.93 316.66,75.16 317.02,75.38 317.37,75.6 317.73,75.82 318.09,76.04 318.45,76.26 318.81,76.47 319.17,76.69 319.53,76.9 319.88,77.11 320.24,77.32 320.6,77.53 320.96,77.74 321.32,77.94 321.68,78.14 322.04,78.34 322.39,78.54 322.75,78.74 323.11,78.94 323.47,79.13 323.83,79.33 324.19,79.52 324.54,79.71 324.9,79.89 325.26,80.08 325.62,80.27 325.98,80.45 326.34,80.63 326.7,80.81 327.05,80.99 327.41,81.16 327.77,81.34 328.13,81.51 328.49,81.69 328.85,81.86 329.21,82.03 329.56,82.2 329.92,82.38 330.28,82.55 330.64,82.71 331,82.88 331.36,83.05 331.71,83.22 332.07,83.38 332.43,83.55 332.79,83.71 333.15,83.88 333.51,84.04 333.87,84.2 334.22,84.36 334.58,84.52 334.94,84.68 335.3,84.84 335.66,85 336.02,85.15 336.38,85.31 336.73,85.47 337.09,85.62 337.45,85.77 337.81,85.93 338.17,86.08 338.53,86.23 338.88,86.38 339.24,86.53 339.6,86.68 339.96,86.83 340.32,86.98 340.68,87.12 341.04,87.27 341.39,87.41 341.75,87.56 342.11,87.7 342.47,87.85 342.83,87.99 343.19,88.13 343.55,88.27 343.9,88.41 344.26,88.55 344.62,88.69 344.98,88.82 345.34,88.96 345.7,89.1 346.05,89.23 346.41,89.37 346.77,89.5 347.13,89.63 347.49,89.77 347.85,89.9 348.21,90.03 348.56,90.16 348.92,90.29 349.28,90.42 349.64,90.55 350,90.67 350.36,90.8 350.72,90.93 351.07,91.05 351.43,91.18 351.79,91.3 352.15,91.42 352.51,91.54 352.87,91.67 353.22,91.79 353.58,91.91 353.94,92.03 354.3,92.15 354.66,92.26 355.02,92.38 355.38,92.5 355.73,92.62 356.09,92.73 356.45,92.85 356.81,92.96 357.17,93.08 357.53,93.19 357.88,93.31 358.24,93.42 358.6,93.54 358.96,93.65 359.32,93.76 359.68,93.87 360.04,93.98 360.39,94.1 360.75,94.21 361.11,94.32 361.47,94.42 361.83,94.53 362.19,94.64 362.55,94.75 362.9,94.86 363.26,94.96 363.62,95.07 363.98,95.18 364.34,95.28 364.7,95.39 365.06,95.49 365.41,95.59 365.77,95.7 366.13,95.8 366.49,95.9 366.85,96 367.21,96.1 367.56,96.2 367.92,96.3 368.28,96.4 368.64,96.5 369,96.6 369.36,96.7 369.72,96.8 370.07,96.89 370.43,96.99 370.79,97.08 371.15,97.18 371.51,97.27 371.87,97.37 372.23,97.46 372.58,97.55 372.94,97.65 373.3,97.74 373.66,97.83 374.02,97.92 374.38,98.01 374.73,98.1 375.09,98.19 375.45,98.27 375.81,98.36 376.17,98.45 376.53,98.53 376.89,98.62 377.24,98.71 377.6,98.79 377.96,98.87 378.32,98.96 378.68,99.04 379.04,99.12 379.4,99.2 379.75,99.28 380.11,99.36 380.47,99.44 380.83,99.52 381.19,99.6 381.55,99.68 381.9,99.76 382.26,99.83 382.62,99.91 382.98,99.98 383.34,100.06 383.7,100.13 384.06,100.21 384.41,100.28 384.77,100.35 385.13,100.43 385.49,100.5 385.85,100.57 386.21,100.64 386.56,100.71 386.92,100.78 387.28,100.85 387.64,100.92 388,100.99 388.36,101.06 388.72,101.12 389.07,101.19 389.43,101.26 389.79,101.32 390.15,101.39 390.51,101.46 390.87,101.52 391.23,101.59 391.58,101.65 391.94,101.72 392.3,101.78 392.66,101.85 393.02,101.91 393.38,101.97 393.74,102.04 394.09,102.1 394.45,102.16 394.81,102.22 395.17,102.29 395.53,102.35 395.89,102.41 396.24,102.47 396.6,102.53 396.96,102.6 397.32,102.66 397.68,102.72 398.04,102.78 398.4,102.84 398.75,102.9 399.11,102.96 399.47,103.02 399.83,103.08 400.19,103.14 400.55,103.2 400.91,103.26 401.26,103.32 401.62,103.38 401.98,103.44 402.34,103.5 402.7,103.56 403.06,103.62 403.41,103.68 403.77,103.74 404.13,103.8 404.49,103.86 404.85,103.92 405.21,103.98 405.57,104.04 405.92,104.1 406.28,104.16 406.64,104.22 407,104.28 407.36,104.34 407.72,104.4 408.08,104.46 408.43,104.52 408.79,104.58 409.15,104.64 409.51,104.7 409.87,104.76 410.23,104.82 410.58,104.88 410.94,104.94 411.3,105 411.66,105.06 412.02,105.11 412.38,105.17 412.74,105.23 413.09,105.29 413.45,105.35 413.81,105.41 414.17,105.46 414.53,105.52 414.89,105.58 415.25,105.64 415.6,105.69 415.96,105.75 416.32,105.81 416.68,105.87 417.04,105.92 417.4,105.98 417.75,106.04 418.11,106.09 418.47,106.15 418.83,106.21 419.19,106.26 419.55,106.32 419.91,106.38 420.26,106.43 420.62,106.49 420.98,106.55 421.34,106.6 421.7,106.66 422.06,106.71 422.42,106.77 422.77,106.82 423.13,106.88 423.49,106.94 423.85,106.99 424.21,107.05 424.57,107.1 424.92,107.16 425.28,107.21 425.64,107.27 426,107.32 426.36,107.38 426.72,107.43 427.08,107.49 427.43,107.54 427.79,107.6 428.15,107.65 428.51,107.71 428.87,107.76 429.23,107.82 429.59,107.87 429.94,107.92 430.3,107.98 430.66,108.03 431.02,108.09 431.38,108.14 431.74,108.2 432.09,108.25 432.45,108.31 432.81,108.36 433.17,108.41 433.53,108.47 433.89,108.52 434.25,108.58 434.6,108.63 434.96,108.69 435.32,108.74 435.68,108.79 436.04,108.85 436.4,108.9 436.75,108.95 437.11,109 437.47,109.06 437.83,109.11 438.19,109.16 438.55,109.21 438.91,109.27 439.26,109.32 439.62,109.37 439.98,109.42 440.34,109.47 440.7,109.52 441.06,109.58 441.42,109.63 441.77,109.68 442.13,109.73 442.49,109.78 442.85,109.83 443.21,109.88 443.57,109.93 443.93,109.98 444.28,110.03 444.64,110.08 445,110.14 445.36,110.19 445.72,110.24 446.08,110.29 446.43,110.34 446.79,110.39 447.15,110.44 447.51,110.49 447.87,110.54 448.23,110.59 448.59,110.64 448.94,110.69 449.3,110.74 449.66,110.79 450.02,110.84 450.38,110.89 450.74,110.95 451.1,111 451.45,111.05 451.81,111.1 452.17,111.15 452.53,111.2 452.89,111.25 453.25,111.31 453.6,111.36 453.96,111.41 454.32,111.46 454.68,111.51 455.04,111.57 455.4,111.62 455.76,111.67 456.11,111.72 456.47,111.78 456.83,111.83 457.19,111.88 457.55,111.94 457.91,111.99 458.26,112.04 458.62,112.1 458.98,112.15 459.34,112.21 459.7,112.26 460.06,112.32 460.42,112.37 460.77,112.43 461.13,112.48 461.49,112.54 461.85,112.6 462.21,112.66 462.57,112.71 462.93,112.77 463.28,112.83 463.64,112.89 464,112.95 464.36,113.01 464.72,113.07 465.08,113.13 465.44,113.19 465.79,113.25 466.15,113.31 466.51,113.37 466.87,113.43 467.23,113.49" fill="none" stroke="#ff0000" stroke-width="3.3" stroke-linejoin="round" stroke-linecap="round" />
<polyline points="282.96,20 283.32,21.34 283.68,22.67 284.03,23.97 284.39,25.26 284.75,26.52 285.11,27.75 285.47,28.96 285.83,30.16 286.19,31.34 286.54,32.51 286.9,33.67 287.26,34.82 287.62,35.96 287.98,37.11 288.34,38.28 288.69,39.45 289.05,40.6 289.41,41.72 289.77,42.8 290.13,43.82 290.49,44.76 290.85,45.64 291.2,46.5 291.56,47.32 291.92,48.12 292.28,48.89 292.64,49.62 293,50.33 293.36,51 293.71,51.64 294.07,52.25 294.43,52.83 294.79,53.4 295.15,53.95 295.51,54.49 295.86,55.01 296.22,55.52 296.58,56.01 296.94,56.49 297.3,56.95 297.66,57.41 298.02,57.85 298.37,58.28 298.73,58.69 299.09,59.1 299.45,59.49 299.81,59.88 300.17,60.25 300.53,60.62 300.88,60.99 301.24,61.35 301.6,61.71 301.96,62.06 302.32,62.41 302.68,62.75 303.03,63.09 303.39,63.43 303.75,63.75 304.11,64.08 304.47,64.4 304.83,64.71 305.19,65.01 305.54,65.32 305.9,65.61 306.26,65.9 306.62,66.18 306.98,66.46 307.34,66.73 307.7,67 308.05,67.25 308.41,67.5 308.77,67.75 309.13,67.99 309.49,68.22 309.85,68.44 310.2,68.65 310.56,68.86 310.92,69.07 311.28,69.26 311.64,69.46 312,69.65 312.36,69.84 312.71,70.03 313.07,70.21 313.43,70.39 313.79,70.57 314.15,70.75 314.51,70.92 314.87,71.09 315.22,71.26 315.58,71.42 315.94,71.58 316.3,71.74 316.66,71.9 317.02,72.06 317.37,72.21 317.73,72.36 318.09,72.51 318.45,72.65 318.81,72.8 319.17,72.94 319.53,73.08 319.88,73.22 320.24,73.36 320.6,73.5 320.96,73.63 321.32,73.76 321.68,73.9 322.04,74.03 322.39,74.16 322.75,74.28 323.11,74.41 323.47,74.54 323.83,74.66 324.19,74.79 324.54,74.91 324.9,75.03 325.26,75.15 325.62,75.27 325.98,75.39 326.34,75.51 326.7,75.63 327.05,75.75 327.41,75.87 327.77,75.99 328.13,76.1 328.49,76.22 328.85,76.33 329.21,76.45 329.56,76.56 329.92,76.67 330.28,76.78 330.64,76.89 331,77 331.36,77.11 331.71,77.22 332.07,77.32 332.43,77.43 332.79,77.54 333.15,77.64 333.51,77.75 333.87,77.85 334.22,77.95 334.58,78.05 334.94,78.16 335.3,78.26 335.66,78.36 336.02,78.46 336.38,78.55 336.73,78.65 337.09,78.75 337.45,78.85 337.81,78.94 338.17,79.04 338.53,79.14 338.88,79.23 339.24,79.33 339.6,79.42 339.96,79.51 340.32,79.61 340.68,79.7 341.04,79.79 341.39,79.88 341.75,79.97 342.11,80.06 342.47,80.15 342.83,80.24 343.19,80.33 343.55,80.42 343.9,80.51 344.26,80.6 344.62,80.69 344.98,80.77 345.34,80.86 345.7,80.95 346.05,81.04 346.41,81.12 346.77,81.21 347.13,81.29 347.49,81.38 347.85,81.47 348.21,81.55 348.56,81.64 348.92,81.72 349.28,81.81 349.64,81.89 350,81.97 350.36,82.06 350.72,82.14 351.07,82.23 351.43,82.31 351.79,82.39 352.15,82.48 352.51,82.56 352.87,82.64 353.22,82.73 353.58,82.81 353.94,82.89 354.3,82.98 354.66,83.06 355.02,83.14 355.38,83.22 355.73,83.3 356.09,83.38 356.45,83.46 356.81,83.54 357.17,83.62 357.53,83.7 357.88,83.78 358.24,83.85 358.6,83.93 358.96,84.01 359.32,84.08 359.68,84.16 360.04,84.23 360.39,84.31 360.75,84.38 361.11,84.46 361.47,84.53 361.83,84.6 362.19,84.68 362.55,84.75 362.9,84.82 363.26,84.9 363.62,84.97 363.98,85.04 364.34,85.11 364.7,85.18 365.06,85.26 365.41,85.33 365.77,85.4 366.13,85.47 366.49,85.54 366.85,85.61 367.21,85.68 367.56,85.75 367.92,85.82 368.28,85.89 368.64,85.96 369,86.03 369.36,86.1 369.72,86.18 370.07,86.25 370.43,86.32 370.79,86.39 371.15,86.46 371.51,86.53 371.87,86.6 372.23,86.67 372.58,86.74 372.94,86.81 373.3,86.88 373.66,86.96 374.02,87.03 374.38,87.1 374.73,87.17 375.09,87.24 375.45,87.32 375.81,87.39 376.17,87.46 376.53,87.54 376.89,87.61 377.24,87.68 377.6,87.76 377.96,87.83 378.32,87.91 378.68,87.98 379.04,88.06 379.4,88.14 379.75,88.21 380.11,88.29 380.47,88.37 380.83,88.45 381.19,88.53 381.55,88.6 381.9,88.68 382.26,88.76 382.62,88.84 382.98,88.92 383.34,89.01 383.7,89.09 384.06,89.17 384.41,89.25 384.77,89.33 385.13,89.42 385.49,89.5 385.85,89.58 386.21,89.67 386.56,89.75 386.92,89.84 387.28,89.92 387.64,90.01 388,90.09 388.36,90.18 388.72,90.26 389.07,90.35 389.43,90.43 389.79,90.52 390.15,90.6 390.51,90.69 390.87,90.78 391.23,90.86 391.58,90.95 391.94,91.03 392.3,91.12 392.66,91.21 393.02,91.29 393.38,91.38 393.74,91.47 394.09,91.55 394.45,91.64 394.81,91.72 395.17,91.81 395.53,91.89 395.89,91.98 396.24,92.07 396.6,92.15 396.96,92.24 397.32,92.32 397.68,92.41 398.04,92.49 398.4,92.57 398.75,92.66 399.11,92.74 399.47,92.83 399.83,92.91 400.19,92.99 400.55,93.07 400.91,93.16 401.26,93.24 401.62,93.32 401.98,93.4 402.34,93.48 402.7,93.56 403.06,93.64 403.41,93.72 403.77,93.8 404.13,93.88 404.49,93.96 404.85,94.03 405.21,94.11 405.57,94.19 405.92,94.26 406.28,94.34 406.64,94.41 407,94.49 407.36,94.56 407.72,94.63 408.08,94.71 408.43,94.78 408.79,94.85 409.15,94.92 409.51,94.99 409.87,95.06 410.23,95.13 410.58,95.2 410.94,95.27 411.3,95.34 411.66,95.41 412.02,95.48 412.38,95.55 412.74,95.61 413.09,95.68 413.45,95.75 413.81,95.82 414.17,95.88 414.53,95.95 414.89,96.02 415.25,96.08 415.6,96.15 415.96,96.21 416.32,96.28 416.68,96.34 417.04,96.41 417.4,96.47 417.75,96.54 418.11,96.6 418.47,96.67 418.83,96.73 419.19,96.79 419.55,96.86 419.91,96.92 420.26,96.99 420.62,97.05 420.98,97.11 421.34,97.17 421.7,97.24 422.06,97.3 422.42,97.36 422.77,97.43 423.13,97.49 423.49,97.55 423.85,97.62 424.21,97.68 424.57,97.74 424.92,97.8 425.28,97.87 425.64,97.93 426,97.99 426.36,98.05 426.72,98.12 427.08,98.18 427.43,98.24 427.79,98.3 428.15,98.37 428.51,98.43 428.87,98.49 429.23,98.56 429.59,98.62 429.94,98.68 430.3,98.75 430.66,98.81 431.02,98.87 431.38,98.94 431.74,99 432.09,99.06 432.45,99.13 432.81,99.19 433.17,99.26 433.53,99.32 433.89,99.39 434.25,99.45 434.6,99.52 434.96,99.58 435.32,99.65 435.68,99.71 436.04,99.78 436.4,99.84 436.75,99.91 437.11,99.97 437.47,100.04 437.83,100.11 438.19,100.17 438.55,100.24 438.91,100.3 439.26,100.37 439.62,100.44 439.98,100.5 440.34,100.57 440.7,100.63 441.06,100.7 441.42,100.77 441.77,100.83 442.13,100.9 442.49,100.97 442.85,101.03 443.21,101.1 443.57,101.17 443.93,101.23 444.28,101.3 444.64,101.36 445,101.43 445.36,101.5 445.72,101.56 446.08,101.63 446.43,101.7 446.79,101.76 447.15,101.83 447.51,101.89 447.87,101.96 448.23,102.03 448.59,102.09 448.94,102.16 449.3,102.22 449.66,102.29 450.02,102.36 450.38,102.42 450.74,102.49 451.1,102.55 451.45,102.62 451.81,102.68 452.17,102.75 452.53,102.81 452.89,102.88 453.25,102.94 453.6,103.01 453.96,103.07 454.32,103.14 454.68,103.2 455.04,103.27 455.4,103.33 455.76,103.4 456.11,103.46 456.47,103.52 456.83,103.59 457.19,103.65 457.55,103.71 457.91,103.78 458.26,103.84 458.62,103.9 458.98,103.97 459.34,104.03 459.7,104.09 460.06,104.15 460.42,104.22 460.77,104.28 461.13,104.34 461.49,104.4 461.85,104.46 462.21,104.52 462.57,104.58 462.93,104.64 463.28,104.7 463.64,104.76 464,104.82 464.36,104.88 464.72,104.94 465.08,105 465.44,105.06 465.79,105.11 466.15,105.17 466.51,105.23 466.87,105.29 467.23,105.35" fill="none" stroke="#0000ff" stroke-width="3.3" stroke-linejoin="round" stroke-linecap="round" />
<path d="M300.6 56a1.6 1.6 0 1 0 3.2 0a1.6 1.6 0 1 0 -3.2 0M318.8 67.12a1.6 1.6 0 1 0 3.2 0a1.6 1.6 0 1 0 -3.2 0M337 72.86a1.6 1.6 0 1 0 3.2 0a1.6 1.6 0 1 0 -3.2 0M355.2 77.24a1.6 1.6 0 1 0 3.2 0a1.6 1.6 0 1 0 -3.2 0M373.4 80.93a1.6 1.6 0 1 0 3.2 0a1.6 1.6 0 1 0 -3.2 0M391.6 85.04a1.6 1.6 0 1 0 3.2 0a1.6 1.6 0 1 0 -3.2 0M409.8 89.06a1.6 1.6 0 1 0 3.2 0a1.6 1.6 0 1 0 -3.2 0M428 92.32a1.6 1.6 0 1 0 3.2 0a1.6 1.6 0 1 0 -3.2 0M446.2 95.65a1.6 1.6 0 1 0 3.2 0a1.6 1.6 0 1 0 -3.2 0" fill="#0000ff"/>
<path d="M300.6 58.51a1.6 1.6 0 1 0 3.2 0a1.6 1.6 0 1 0 -3.2 0M318.8 71.11a1.6 1.6 0 1 0 3.2 0a1.6 1.6 0 1 0 -3.2 0M337 79.96a1.6 1.6 0 1 0 3.2 0a1.6 1.6 0 1 0 -3.2 0M355.2 86.66a1.6 1.6 0 1 0 3.2 0a1.6 1.6 0 1 0 -3.2 0M373.4 91.86a1.6 1.6 0 1 0 3.2 0a1.6 1.6 0 1 0 -3.2 0M391.6 95.64a1.6 1.6 0 1 0 3.2 0a1.6 1.6 0 1 0 -3.2 0M409.8 98.71a1.6 1.6 0 1 0 3.2 0a1.6 1.6 0 1 0 -3.2 0M428 101.57a1.6 1.6 0 1 0 3.2 0a1.6 1.6 0 1 0 -3.2 0M446.2 104.23a1.6 1.6 0 1 0 3.2 0a1.6 1.6 0 1 0 -3.2 0" fill="#ff0000"/>
<path d="M300.8 67.42a1.4 1.4 0 1 0 2.8 0a1.4 1.4 0 1 0 -2.8 0M319 80.86a1.4 1.4 0 1 0 2.8 0a1.4 1.4 0 1 0 -2.8 0M337.2 88.99a1.4 1.4 0 1 0 2.8 0a1.4 1.4 0 1 0 -2.8 0M355.4 94.83a1.4 1.4 0 1 0 2.8 0a1.4 1.4 0 1 0 -2.8 0M373.6 100.12a1.4 1.4 0 1 0 2.8 0a1.4 1.4 0 1 0 -2.8 0M391.8 104.62a1.4 1.4 0 1 0 2.8 0a1.4 1.4 0 1 0 -2.8 0M410 108.63a1.4 1.4 0 1 0 2.8 0a1.4 1.4 0 1 0 -2.8 0M428.2 112.18a1.4 1.4 0 1 0 2.8 0a1.4 1.4 0 1 0 -2.8 0M446.4 115.23a1.4 1.4 0 1 0 2.8 0a1.4 1.4 0 1 0 -2.8 0" fill="#000000"/>
<circle cx="393" cy="26.5" r="2.3" fill="#000000"/>
<text x="405" y="29.4" font-size="8.2" text-anchor="start" >Uncoated</text>
<circle cx="393" cy="37.7" r="2.3" fill="#0000ff"/>
<text x="405" y="40.6" font-size="8.2" text-anchor="start" >3 µg/cm<tspan font-size="5.6" dy="-3.2">2</tspan><tspan dy="3.2"> Ni</tspan></text>
<circle cx="393" cy="48.9" r="2.3" fill="#ff0000"/>
<text x="405" y="51.8" font-size="8.2" text-anchor="start" >3 µg/cm<tspan font-size="5.6" dy="-3.2">2</tspan><tspan dy="3.2"> Cu</tspan></text>
<path d="M282.6 336.3v-3.0M282.6 203.7v3.0M318.45 336.3v-3.0M318.45 203.7v3.0M354.3 336.3v-3.0M354.3 203.7v3.0M390.15 336.3v-3.0M390.15 203.7v3.0M426 336.3v-3.0M426 203.7v3.0M461.85 336.3v-3.0M461.85 203.7v3.0" stroke="#000" stroke-width="1.0"/>
<path d="M300.53 336.3v-1.8M300.53 203.7v1.8M336.38 336.3v-1.8M336.38 203.7v1.8M372.23 336.3v-1.8M372.23 203.7v1.8M408.08 336.3v-1.8M408.08 203.7v1.8M443.93 336.3v-1.8M443.93 203.7v1.8" stroke="#000" stroke-width="1.0"/>
<path d="M281 336.3h3.0M468.6 336.3h-3.0M281 303.73h3.0M468.6 303.73h-3.0M281 271.15h3.0M468.6 271.15h-3.0M281 238.58h3.0M468.6 238.58h-3.0M281 206h3.0M468.6 206h-3.0" stroke="#000" stroke-width="1.0"/>
<path d="M281 320.01h1.8M468.6 320.01h-1.8M281 287.44h1.8M468.6 287.44h-1.8M281 254.86h1.8M468.6 254.86h-1.8M281 222.29h1.8M468.6 222.29h-1.8" stroke="#000" stroke-width="1.0"/>
<text x="282.6" y="349.2" font-size="11.5" text-anchor="middle" >0</text>
<text x="318.45" y="349.2" font-size="11.5" text-anchor="middle" >100</text>
<text x="354.3" y="349.2" font-size="11.5" text-anchor="middle" >200</text>
<text x="390.15" y="349.2" font-size="11.5" text-anchor="middle" >300</text>
<text x="426" y="349.2" font-size="11.5" text-anchor="middle" >400</text>
<text x="461.85" y="349.2" font-size="11.5" text-anchor="middle" >500</text>
<text x="277.7" y="339.9" font-size="11.5" text-anchor="end" >60</text>
<text x="277.7" y="307.33" font-size="11.5" text-anchor="end" >70</text>
<text x="277.7" y="274.75" font-size="11.5" text-anchor="end" >80</text>
<text x="277.7" y="242.18" font-size="11.5" text-anchor="end" >90</text>
<text x="277.7" y="209.6" font-size="11.5" text-anchor="end" >100</text>
<text x="374.8" y="369.2" font-size="13.7" text-anchor="middle" >Cycle Number</text>
<text transform="translate(254.1,270.2) rotate(-90)" font-size="13.7" text-anchor="middle">Capacity Retention (%)</text>
<text x="281.2" y="195.8" font-size="14" text-anchor="start" >(e)</text>
<path d="M285.6 227.86V203.03M284.4 227.86h2.4M284.4 203.03h2.4M289.5 246.9V221.98M288.3 246.9h2.4M288.3 221.98h2.4M293.4 255.08V230.07M292.2 255.08h2.4M292.2 230.07h2.4M297.3 259.71V234.61M296.1 259.71h2.4M296.1 234.61h2.4M301.2 263.47V238.28M300 263.47h2.4M300 238.28h2.4M305.1 267.13V241.84M303.9 267.13h2.4M303.9 241.84h2.4M309 270.51V245.13M307.8 270.51h2.4M307.8 245.13h2.4M312.9 273.38V247.91M311.7 273.38h2.4M311.7 247.91h2.4M316.8 275.9V250.34M315.6 275.9h2.4M315.6 250.34h2.4M320.7 278.22V252.56M319.5 278.22h2.4M319.5 252.56h2.4M324.6 280.43V254.68M323.4 280.43h2.4M323.4 254.68h2.4M328.5 282.42V256.58M327.3 282.42h2.4M327.3 256.58h2.4M332.4 284.1V258.16M331.2 284.1h2.4M331.2 258.16h2.4M336.3 285.57V259.55M335.1 285.57h2.4M335.1 259.55h2.4M340.2 286.92V260.8M339 286.92h2.4M339 260.8h2.4M344.1 288.2V261.99M342.9 288.2h2.4M342.9 261.99h2.4M348 289.48V263.18M346.8 289.48h2.4M346.8 263.18h2.4M351.9 290.79V264.39M350.7 290.79h2.4M350.7 264.39h2.4M355.8 292.09V265.6M354.6 292.09h2.4M354.6 265.6h2.4M359.7 293.36V266.79M358.5 293.36h2.4M358.5 266.79h2.4M363.6 294.6V267.93M362.4 294.6h2.4M362.4 267.93h2.4M367.5 295.79V269.03M366.3 295.79h2.4M366.3 269.03h2.4M371.4 296.91V270.05M370.2 296.91h2.4M370.2 270.05h2.4M375.3 297.99V271.04M374.1 297.99h2.4M374.1 271.04h2.4M379.2 299.04V272M378 299.04h2.4M378 272h2.4M383.1 300.07V272.94M381.9 300.07h2.4M381.9 272.94h2.4M387 301.06V273.84M385.8 301.06h2.4M385.8 273.84h2.4M390.9 302.04V274.72M389.7 302.04h2.4M389.7 274.72h2.4M394.8 302.99V275.58M393.6 302.99h2.4M393.6 275.58h2.4M398.7 303.92V276.42M397.5 303.92h2.4M397.5 276.42h2.4M402.6 304.83V277.23M401.4 304.83h2.4M401.4 277.23h2.4M406.5 305.72V278.03M405.3 305.72h2.4M405.3 278.03h2.4M410.4 306.59V278.81M409.2 306.59h2.4M409.2 278.81h2.4M414.3 307.44V279.57M413.1 307.44h2.4M413.1 279.57h2.4M418.2 308.27V280.31M417 308.27h2.4M417 280.31h2.4M422.1 309.08V281.03M420.9 309.08h2.4M420.9 281.03h2.4M426 309.87V281.72M424.8 309.87h2.4M424.8 281.72h2.4M429.9 310.62V282.38M428.7 310.62h2.4M428.7 282.38h2.4M433.8 311.35V283.02M432.6 311.35h2.4M432.6 283.02h2.4M437.7 312.05V283.63M436.5 312.05h2.4M436.5 283.63h2.4M441.6 312.74V284.23M440.4 312.74h2.4M440.4 284.23h2.4M445.5 313.42V284.81M444.3 313.42h2.4M444.3 284.81h2.4M449.4 314.07V285.38M448.2 314.07h2.4M448.2 285.38h2.4M453.3 314.71V285.92M452.1 314.71h2.4M452.1 285.92h2.4M457.2 315.33V286.45M456 315.33h2.4M456 286.45h2.4M461.1 315.93V286.95M459.9 315.93h2.4M459.9 286.95h2.4M465 316.5V287.43M463.8 316.5h2.4M463.8 287.43h2.4" stroke="#4a4a4a" stroke-width="0.85" fill="none" opacity="1.0"/>
<path d="M287.4 223.54V211.97M286.2 223.54h2.4M286.2 211.97h2.4M291.3 231.09V219.38M290.1 231.09h2.4M290.1 219.38h2.4M295.2 237.4V225.54M294 237.4h2.4M294 225.54h2.4M299.1 242.14V230.14M297.9 242.14h2.4M297.9 230.14h2.4M303 245.63V233.49M301.8 245.63h2.4M301.8 233.49h2.4M306.9 248.02V235.74M305.7 248.02h2.4M305.7 235.74h2.4M310.8 250.18V237.75M309.6 250.18h2.4M309.6 237.75h2.4M314.7 252.66V240.09M313.5 252.66h2.4M313.5 240.09h2.4M318.6 254.76V242.05M317.4 254.76h2.4M317.4 242.05h2.4M322.5 255.82V242.97M321.3 255.82h2.4M321.3 242.97h2.4M326.4 256.53V243.54M325.2 256.53h2.4M325.2 243.54h2.4M330.3 257.46V244.33M329.1 257.46h2.4M329.1 244.33h2.4M334.2 258.5V245.22M333 258.5h2.4M333 245.22h2.4M338.1 259.59V246.17M336.9 259.59h2.4M336.9 246.17h2.4M342 260.72V247.16M340.8 260.72h2.4M340.8 247.16h2.4M345.9 261.82V248.12M344.7 261.82h2.4M344.7 248.12h2.4M349.8 262.88V249.03M348.6 262.88h2.4M348.6 249.03h2.4M353.7 263.88V249.9M352.5 263.88h2.4M352.5 249.9h2.4M357.6 264.88V250.75M356.4 264.88h2.4M356.4 250.75h2.4M361.5 265.87V251.6M360.3 265.87h2.4M360.3 251.6h2.4M365.4 266.84V252.43M364.2 266.84h2.4M364.2 252.43h2.4M369.3 267.8V253.24M368.1 267.8h2.4M368.1 253.24h2.4M373.2 268.73V254.04M372 268.73h2.4M372 254.04h2.4M377.1 269.64V254.8M375.9 269.64h2.4M375.9 254.8h2.4M381 270.51V255.54M379.8 270.51h2.4M379.8 255.54h2.4M384.9 271.36V256.24M383.7 271.36h2.4M383.7 256.24h2.4M388.8 272.19V256.93M387.6 272.19h2.4M387.6 256.93h2.4M392.7 273V257.6M391.5 273h2.4M391.5 257.6h2.4M396.6 273.79V258.25M395.4 273.79h2.4M395.4 258.25h2.4M400.5 274.57V258.88M399.3 274.57h2.4M399.3 258.88h2.4M404.4 275.33V259.5M403.2 275.33h2.4M403.2 259.5h2.4M408.3 276.08V260.11M407.1 276.08h2.4M407.1 260.11h2.4M412.2 276.81V260.69M411 276.81h2.4M411 260.69h2.4M416.1 277.51V261.25M414.9 277.51h2.4M414.9 261.25h2.4M420 278.19V261.8M418.8 278.19h2.4M418.8 261.8h2.4M423.9 278.88V262.34M422.7 278.88h2.4M422.7 262.34h2.4M427.8 279.57V262.89M426.6 279.57h2.4M426.6 262.89h2.4M431.7 280.27V263.45M430.5 280.27h2.4M430.5 263.45h2.4M435.6 281.01V264.04M434.4 281.01h2.4M434.4 264.04h2.4M439.5 281.77V264.67M438.3 281.77h2.4M438.3 264.67h2.4M443.4 282.56V265.32M442.2 282.56h2.4M442.2 265.32h2.4M447.3 283.36V265.98M446.1 283.36h2.4M446.1 265.98h2.4M451.2 284.16V266.64M450 284.16h2.4M450 266.64h2.4M455.1 284.95V267.28M453.9 284.95h2.4M453.9 267.28h2.4M459 285.72V267.91M457.8 285.72h2.4M457.8 267.91h2.4M462.9 286.45V268.49M461.7 286.45h2.4M461.7 268.49h2.4" stroke="#259025" stroke-width="0.85" fill="none" opacity="1.0"/>
<path d="M286.6 218.76V206.64M285.4 218.76h2.4M285.4 206.64h2.4M290.5 225.46V213.27M289.3 225.46h2.4M289.3 213.27h2.4M294.4 231.72V219.45M293.2 231.72h2.4M293.2 219.45h2.4M298.3 236.32V223.99M297.1 236.32h2.4M297.1 223.99h2.4M302.2 239.83V227.42M301 239.83h2.4M301 227.42h2.4M306.1 242.18V229.7M304.9 242.18h2.4M304.9 229.7h2.4M310 244.18V231.63M308.8 244.18h2.4M308.8 231.63h2.4M313.9 246.5V233.88M312.7 246.5h2.4M312.7 233.88h2.4M317.8 248.74V236.05M316.6 248.74h2.4M316.6 236.05h2.4M321.7 250.3V237.54M320.5 250.3h2.4M320.5 237.54h2.4M325.6 251.39V238.56M324.4 251.39h2.4M324.4 238.56h2.4M329.5 252.52V239.61M328.3 252.52h2.4M328.3 239.61h2.4M333.4 253.66V240.69M332.2 253.66h2.4M332.2 240.69h2.4M337.3 254.81V241.76M336.1 254.81h2.4M336.1 241.76h2.4M341.2 255.93V242.82M340 255.93h2.4M340 242.82h2.4M345.1 257.03V243.85M343.9 257.03h2.4M343.9 243.85h2.4M349 258.1V244.84M347.8 258.1h2.4M347.8 244.84h2.4M352.9 259.14V245.81M351.7 259.14h2.4M351.7 245.81h2.4M356.8 260.16V246.76M355.6 260.16h2.4M355.6 246.76h2.4M360.7 261.17V247.7M359.5 261.17h2.4M359.5 247.7h2.4M364.6 262.16V248.62M363.4 262.16h2.4M363.4 248.62h2.4M368.5 263.13V249.51M367.3 263.13h2.4M367.3 249.51h2.4M372.4 264.05V250.37M371.2 264.05h2.4M371.2 250.37h2.4M376.3 264.94V251.18M375.1 264.94h2.4M375.1 251.18h2.4M380.2 265.77V251.95M379 265.77h2.4M379 251.95h2.4M384.1 266.55V252.66M382.9 266.55h2.4M382.9 252.66h2.4M388 267.28V253.32M386.8 267.28h2.4M386.8 253.32h2.4M391.9 267.98V253.94M390.7 267.98h2.4M390.7 253.94h2.4M395.8 268.66V254.55M394.6 268.66h2.4M394.6 254.55h2.4M399.7 269.33V255.15M398.5 269.33h2.4M398.5 255.15h2.4M403.6 270.01V255.76M402.4 270.01h2.4M402.4 255.76h2.4M407.5 270.72V256.39M406.3 270.72h2.4M406.3 256.39h2.4M411.4 271.45V257.06M410.2 271.45h2.4M410.2 257.06h2.4M415.3 272.21V257.74M414.1 272.21h2.4M414.1 257.74h2.4M419.2 272.97V258.43M418 272.97h2.4M418 258.43h2.4M423.1 273.73V259.13M421.9 273.73h2.4M421.9 259.13h2.4M427 274.49V259.81M425.8 274.49h2.4M425.8 259.81h2.4M430.9 275.24V260.49M429.7 275.24h2.4M429.7 260.49h2.4M434.8 275.96V261.14M433.6 275.96h2.4M433.6 261.14h2.4M438.7 276.65V261.76M437.5 276.65h2.4M437.5 261.76h2.4M442.6 277.31V262.35M441.4 277.31h2.4M441.4 262.35h2.4M446.5 277.95V262.92M445.3 277.95h2.4M445.3 262.92h2.4M450.4 278.6V263.5M449.2 278.6h2.4M449.2 263.5h2.4M454.3 279.28V264.11M453.1 279.28h2.4M453.1 264.11h2.4M458.2 280V264.76M457 280h2.4M457 264.76h2.4M462.1 280.79V265.47M460.9 280.79h2.4M460.9 265.47h2.4M466 281.7V266.31M464.8 281.7h2.4M464.8 266.31h2.4" stroke="#902590" stroke-width="0.85" fill="none" opacity="1.0"/>
<polyline points="282.96,206 283.32,206.57 283.68,207.34 284.03,208.28 284.39,209.5 284.75,211.06 285.11,212.85 285.47,214.74 285.83,216.63 286.19,218.38 286.54,220.07 286.9,221.85 287.26,223.68 287.62,225.53 287.98,227.38 288.34,229.19 288.69,230.93 289.05,232.57 289.41,234.09 289.77,235.46 290.13,236.63 290.49,237.6 290.85,238.41 291.2,239.14 291.56,239.81 291.92,240.43 292.28,241 292.64,241.54 293,242.04 293.36,242.53 293.71,243 294.07,243.46 294.43,243.92 294.79,244.37 295.15,244.8 295.51,245.22 295.86,245.63 296.22,246.03 296.58,246.42 296.94,246.8 297.3,247.17 297.66,247.53 298.02,247.89 298.37,248.24 298.73,248.59 299.09,248.93 299.45,249.27 299.81,249.6 300.17,249.94 300.53,250.27 300.88,250.6 301.24,250.93 301.6,251.26 301.96,251.6 302.32,251.93 302.68,252.27 303.03,252.6 303.39,252.94 303.75,253.27 304.11,253.6 304.47,253.93 304.83,254.26 305.19,254.59 305.54,254.91 305.9,255.23 306.26,255.55 306.62,255.86 306.98,256.17 307.34,256.48 307.7,256.78 308.05,257.08 308.41,257.38 308.77,257.67 309.13,257.95 309.49,258.23 309.85,258.5 310.2,258.77 310.56,259.03 310.92,259.3 311.28,259.55 311.64,259.8 312,260.06 312.36,260.3 312.71,260.55 313.07,260.79 313.43,261.03 313.79,261.26 314.15,261.5 314.51,261.73 314.87,261.95 315.22,262.18 315.58,262.4 315.94,262.63 316.3,262.85 316.66,263.06 317.02,263.28 317.37,263.5 317.73,263.71 318.09,263.92 318.45,264.13 318.81,264.34 319.17,264.55 319.53,264.75 319.88,264.96 320.24,265.17 320.6,265.37 320.96,265.58 321.32,265.78 321.68,265.98 322.04,266.18 322.39,266.39 322.75,266.59 323.11,266.79 323.47,266.98 323.83,267.18 324.19,267.37 324.54,267.57 324.9,267.76 325.26,267.95 325.62,268.13 325.98,268.32 326.34,268.5 326.7,268.68 327.05,268.86 327.41,269.03 327.77,269.2 328.13,269.37 328.49,269.54 328.85,269.7 329.21,269.86 329.56,270.02 329.92,270.17 330.28,270.32 330.64,270.47 331,270.62 331.36,270.76 331.71,270.91 332.07,271.05 332.43,271.19 332.79,271.33 333.15,271.46 333.51,271.6 333.87,271.73 334.22,271.86 334.58,272 334.94,272.13 335.3,272.25 335.66,272.38 336.02,272.51 336.38,272.63 336.73,272.76 337.09,272.88 337.45,273 337.81,273.12 338.17,273.25 338.53,273.36 338.88,273.48 339.24,273.6 339.6,273.72 339.96,273.84 340.32,273.95 340.68,274.07 341.04,274.18 341.39,274.3 341.75,274.41 342.11,274.53 342.47,274.64 342.83,274.75 343.19,274.87 343.55,274.98 343.9,275.09 344.26,275.21 344.62,275.32 344.98,275.43 345.34,275.54 345.7,275.66 346.05,275.77 346.41,275.88 346.77,276 347.13,276.11 347.49,276.23 347.85,276.34 348.21,276.46 348.56,276.57 348.92,276.69 349.28,276.8 349.64,276.92 350,277.04 350.36,277.15 350.72,277.27 351.07,277.39 351.43,277.5 351.79,277.62 352.15,277.74 352.51,277.85 352.87,277.97 353.22,278.08 353.58,278.2 353.94,278.31 354.3,278.43 354.66,278.55 355.02,278.66 355.38,278.78 355.73,278.89 356.09,279.01 356.45,279.12 356.81,279.23 357.17,279.35 357.53,279.46 357.88,279.57 358.24,279.69 358.6,279.8 358.96,279.91 359.32,280.03 359.68,280.14 360.04,280.25 360.39,280.36 360.75,280.47 361.11,280.58 361.47,280.69 361.83,280.8 362.19,280.91 362.55,281.02 362.9,281.13 363.26,281.24 363.62,281.35 363.98,281.45 364.34,281.56 364.7,281.67 365.06,281.77 365.41,281.88 365.77,281.98 366.13,282.09 366.49,282.19 366.85,282.3 367.21,282.4 367.56,282.5 367.92,282.6 368.28,282.71 368.64,282.81 369,282.91 369.36,283.01 369.72,283.1 370.07,283.2 370.43,283.3 370.79,283.4 371.15,283.5 371.51,283.59 371.87,283.69 372.23,283.79 372.58,283.88 372.94,283.98 373.3,284.07 373.66,284.17 374.02,284.26 374.38,284.36 374.73,284.45 375.09,284.55 375.45,284.64 375.81,284.74 376.17,284.83 376.53,284.92 376.89,285.02 377.24,285.11 377.6,285.2 377.96,285.29 378.32,285.39 378.68,285.48 379.04,285.57 379.4,285.66 379.75,285.75 380.11,285.84 380.47,285.93 380.83,286.02 381.19,286.11 381.55,286.2 381.9,286.29 382.26,286.38 382.62,286.47 382.98,286.56 383.34,286.65 383.7,286.74 384.06,286.83 384.41,286.92 384.77,287.01 385.13,287.09 385.49,287.18 385.85,287.27 386.21,287.36 386.56,287.44 386.92,287.53 387.28,287.62 387.64,287.7 388,287.79 388.36,287.87 388.72,287.96 389.07,288.05 389.43,288.13 389.79,288.22 390.15,288.3 390.51,288.39 390.87,288.47 391.23,288.56 391.58,288.64 391.94,288.72 392.3,288.81 392.66,288.89 393.02,288.97 393.38,289.06 393.74,289.14 394.09,289.22 394.45,289.31 394.81,289.39 395.17,289.47 395.53,289.55 395.89,289.63 396.24,289.72 396.6,289.8 396.96,289.88 397.32,289.96 397.68,290.04 398.04,290.12 398.4,290.2 398.75,290.28 399.11,290.36 399.47,290.44 399.83,290.53 400.19,290.6 400.55,290.68 400.91,290.76 401.26,290.84 401.62,290.92 401.98,291 402.34,291.08 402.7,291.16 403.06,291.24 403.41,291.32 403.77,291.4 404.13,291.47 404.49,291.55 404.85,291.63 405.21,291.71 405.57,291.78 405.92,291.86 406.28,291.94 406.64,292.02 407,292.09 407.36,292.17 407.72,292.25 408.08,292.32 408.43,292.4 408.79,292.48 409.15,292.55 409.51,292.63 409.87,292.7 410.23,292.78 410.58,292.86 410.94,292.93 411.3,293.01 411.66,293.08 412.02,293.16 412.38,293.23 412.74,293.3 413.09,293.38 413.45,293.45 413.81,293.53 414.17,293.6 414.53,293.67 414.89,293.75 415.25,293.82 415.6,293.89 415.96,293.97 416.32,294.04 416.68,294.11 417.04,294.18 417.4,294.26 417.75,294.33 418.11,294.4 418.47,294.47 418.83,294.54 419.19,294.61 419.55,294.68 419.91,294.76 420.26,294.83 420.62,294.9 420.98,294.97 421.34,295.04 421.7,295.11 422.06,295.17 422.42,295.24 422.77,295.31 423.13,295.38 423.49,295.45 423.85,295.52 424.21,295.59 424.57,295.65 424.92,295.72 425.28,295.79 425.64,295.86 426,295.92 426.36,295.99 426.72,296.06 427.08,296.12 427.43,296.19 427.79,296.25 428.15,296.32 428.51,296.38 428.87,296.45 429.23,296.51 429.59,296.58 429.94,296.64 430.3,296.71 430.66,296.77 431.02,296.83 431.38,296.9 431.74,296.96 432.09,297.02 432.45,297.09 432.81,297.15 433.17,297.21 433.53,297.27 433.89,297.33 434.25,297.39 434.6,297.46 434.96,297.52 435.32,297.58 435.68,297.64 436.04,297.7 436.4,297.76 436.75,297.82 437.11,297.88 437.47,297.94 437.83,298 438.19,298.06 438.55,298.12 438.91,298.18 439.26,298.24 439.62,298.3 439.98,298.36 440.34,298.42 440.7,298.48 441.06,298.54 441.42,298.6 441.77,298.66 442.13,298.72 442.49,298.78 442.85,298.83 443.21,298.89 443.57,298.95 443.93,299.01 444.28,299.07 444.64,299.12 445,299.18 445.36,299.24 445.72,299.3 446.08,299.35 446.43,299.41 446.79,299.47 447.15,299.53 447.51,299.58 447.87,299.64 448.23,299.69 448.59,299.75 448.94,299.81 449.3,299.86 449.66,299.92 450.02,299.97 450.38,300.03 450.74,300.08 451.1,300.14 451.45,300.19 451.81,300.25 452.17,300.3 452.53,300.36 452.89,300.41 453.25,300.46 453.6,300.52 453.96,300.57 454.32,300.63 454.68,300.68 455.04,300.73 455.4,300.78 455.76,300.84 456.11,300.89 456.47,300.94 456.83,300.99 457.19,301.05 457.55,301.1 457.91,301.15 458.26,301.2 458.62,301.25 458.98,301.3 459.34,301.35 459.7,301.4 460.06,301.46 460.42,301.51 460.77,301.56 461.13,301.61 461.49,301.65 461.85,301.7 462.21,301.75 462.57,301.8 462.93,301.85 463.28,301.9 463.64,301.95 464,302 464.36,302.05 464.72,302.09 465.08,302.14 465.44,302.19 465.79,302.24 466.15,302.28 466.51,302.33 466.87,302.38 467.23,302.42" fill="none" stroke="#000000" stroke-width="3.3" stroke-linejoin="round" stroke-linecap="round" />
<polyline points="282.96,206 283.32,206.8 283.68,207.59 284.03,208.37 284.39,209.15 284.75,209.91 285.11,210.67 285.47,211.44 285.83,212.2 286.19,212.95 286.54,213.69 286.9,214.41 287.26,215.11 287.62,215.77 287.98,216.41 288.34,217.01 288.69,217.6 289.05,218.17 289.41,218.74 289.77,219.29 290.13,219.85 290.49,220.41 290.85,220.98 291.2,221.57 291.56,222.18 291.92,222.8 292.28,223.41 292.64,224.02 293,224.61 293.36,225.18 293.71,225.71 294.07,226.2 294.43,226.66 294.79,227.11 295.15,227.56 295.51,228 295.86,228.43 296.22,228.86 296.58,229.27 296.94,229.68 297.3,230.08 297.66,230.47 298.02,230.86 298.37,231.23 298.73,231.59 299.09,231.95 299.45,232.29 299.81,232.63 300.17,232.95 300.53,233.26 300.88,233.57 301.24,233.86 301.6,234.14 301.96,234.41 302.32,234.67 302.68,234.91 303.03,235.15 303.39,235.38 303.75,235.6 304.11,235.81 304.47,236.01 304.83,236.21 305.19,236.4 305.54,236.59 305.9,236.77 306.26,236.95 306.62,237.12 306.98,237.3 307.34,237.47 307.7,237.64 308.05,237.82 308.41,237.99 308.77,238.17 309.13,238.34 309.49,238.53 309.85,238.71 310.2,238.9 310.56,239.1 310.92,239.3 311.28,239.5 311.64,239.7 312,239.91 312.36,240.12 312.71,240.34 313.07,240.55 313.43,240.76 313.79,240.98 314.15,241.19 314.51,241.4 314.87,241.62 315.22,241.83 315.58,242.03 315.94,242.23 316.3,242.43 316.66,242.63 317.02,242.82 317.37,243.01 317.73,243.19 318.09,243.36 318.45,243.53 318.81,243.68 319.17,243.84 319.53,243.98 319.88,244.11 320.24,244.24 320.6,244.36 320.96,244.48 321.32,244.59 321.68,244.69 322.04,244.8 322.39,244.9 322.75,245 323.11,245.09 323.47,245.18 323.83,245.28 324.19,245.37 324.54,245.46 324.9,245.55 325.26,245.64 325.62,245.73 325.98,245.82 326.34,245.91 326.7,246.01 327.05,246.11 327.41,246.2 327.77,246.3 328.13,246.4 328.49,246.5 328.85,246.6 329.21,246.7 329.56,246.8 329.92,246.9 330.28,246.99 330.64,247.09 331,247.19 331.36,247.29 331.71,247.39 332.07,247.49 332.43,247.59 332.79,247.69 333.15,247.79 333.51,247.88 333.87,247.98 334.22,248.08 334.58,248.18 334.94,248.28 335.3,248.38 335.66,248.48 336.02,248.57 336.38,248.67 336.73,248.77 337.09,248.87 337.45,248.97 337.81,249.06 338.17,249.16 338.53,249.26 338.88,249.36 339.24,249.45 339.6,249.55 339.96,249.65 340.32,249.74 340.68,249.84 341.04,249.94 341.39,250.03 341.75,250.13 342.11,250.23 342.47,250.32 342.83,250.42 343.19,250.51 343.55,250.61 343.9,250.7 344.26,250.79 344.62,250.89 344.98,250.98 345.34,251.07 345.7,251.17 346.05,251.26 346.41,251.35 346.77,251.44 347.13,251.54 347.49,251.63 347.85,251.72 348.21,251.81 348.56,251.9 348.92,251.99 349.28,252.08 349.64,252.17 350,252.26 350.36,252.34 350.72,252.43 351.07,252.52 351.43,252.61 351.79,252.7 352.15,252.79 352.51,252.88 352.87,252.96 353.22,253.05 353.58,253.14 353.94,253.23 354.3,253.32 354.66,253.4 355.02,253.49 355.38,253.58 355.73,253.67 356.09,253.75 356.45,253.84 356.81,253.93 357.17,254.02 357.53,254.1 357.88,254.19 358.24,254.28 358.6,254.36 358.96,254.45 359.32,254.54 359.68,254.62 360.04,254.71 360.39,254.79 360.75,254.88 361.11,254.97 361.47,255.05 361.83,255.14 362.19,255.22 362.55,255.31 362.9,255.39 363.26,255.47 363.62,255.56 363.98,255.64 364.34,255.73 364.7,255.81 365.06,255.89 365.41,255.98 365.77,256.06 366.13,256.14 366.49,256.22 366.85,256.3 367.21,256.39 367.56,256.47 367.92,256.55 368.28,256.63 368.64,256.71 369,256.79 369.36,256.87 369.72,256.95 370.07,257.03 370.43,257.11 370.79,257.19 371.15,257.26 371.51,257.34 371.87,257.42 372.23,257.5 372.58,257.57 372.94,257.65 373.3,257.73 373.66,257.8 374.02,257.88 374.38,257.95 374.73,258.03 375.09,258.1 375.45,258.18 375.81,258.25 376.17,258.32 376.53,258.4 376.89,258.47 377.24,258.54 377.6,258.61 377.96,258.68 378.32,258.75 378.68,258.82 379.04,258.89 379.4,258.96 379.75,259.03 380.11,259.1 380.47,259.16 380.83,259.23 381.19,259.3 381.55,259.36 381.9,259.43 382.26,259.5 382.62,259.56 382.98,259.62 383.34,259.69 383.7,259.75 384.06,259.81 384.41,259.88 384.77,259.94 385.13,260 385.49,260.06 385.85,260.12 386.21,260.18 386.56,260.24 386.92,260.3 387.28,260.36 387.64,260.42 388,260.48 388.36,260.54 388.72,260.6 389.07,260.66 389.43,260.72 389.79,260.77 390.15,260.83 390.51,260.89 390.87,260.94 391.23,261 391.58,261.06 391.94,261.11 392.3,261.17 392.66,261.23 393.02,261.28 393.38,261.34 393.74,261.39 394.09,261.45 394.45,261.51 394.81,261.56 395.17,261.62 395.53,261.67 395.89,261.73 396.24,261.78 396.6,261.84 396.96,261.89 397.32,261.95 397.68,262 398.04,262.06 398.4,262.11 398.75,262.17 399.11,262.22 399.47,262.28 399.83,262.34 400.19,262.39 400.55,262.45 400.91,262.5 401.26,262.56 401.62,262.61 401.98,262.67 402.34,262.73 402.7,262.78 403.06,262.84 403.41,262.9 403.77,262.95 404.13,263.01 404.49,263.07 404.85,263.13 405.21,263.18 405.57,263.24 405.92,263.3 406.28,263.36 406.64,263.42 407,263.48 407.36,263.54 407.72,263.6 408.08,263.66 408.43,263.72 408.79,263.78 409.15,263.84 409.51,263.9 409.87,263.96 410.23,264.02 410.58,264.09 410.94,264.15 411.3,264.21 411.66,264.27 412.02,264.33 412.38,264.4 412.74,264.46 413.09,264.52 413.45,264.58 413.81,264.65 414.17,264.71 414.53,264.77 414.89,264.83 415.25,264.9 415.6,264.96 415.96,265.02 416.32,265.09 416.68,265.15 417.04,265.22 417.4,265.28 417.75,265.34 418.11,265.41 418.47,265.47 418.83,265.53 419.19,265.6 419.55,265.66 419.91,265.72 420.26,265.79 420.62,265.85 420.98,265.92 421.34,265.98 421.7,266.04 422.06,266.11 422.42,266.17 422.77,266.23 423.13,266.3 423.49,266.36 423.85,266.43 424.21,266.49 424.57,266.55 424.92,266.62 425.28,266.68 425.64,266.74 426,266.81 426.36,266.87 426.72,266.93 427.08,266.99 427.43,267.06 427.79,267.12 428.15,267.18 428.51,267.24 428.87,267.31 429.23,267.37 429.59,267.43 429.94,267.49 430.3,267.55 430.66,267.61 431.02,267.68 431.38,267.74 431.74,267.8 432.09,267.86 432.45,267.92 432.81,267.98 433.17,268.04 433.53,268.1 433.89,268.16 434.25,268.22 434.6,268.28 434.96,268.34 435.32,268.39 435.68,268.45 436.04,268.51 436.4,268.57 436.75,268.62 437.11,268.68 437.47,268.74 437.83,268.79 438.19,268.85 438.55,268.9 438.91,268.96 439.26,269.01 439.62,269.07 439.98,269.12 440.34,269.18 440.7,269.23 441.06,269.28 441.42,269.34 441.77,269.39 442.13,269.44 442.49,269.5 442.85,269.55 443.21,269.6 443.57,269.66 443.93,269.71 444.28,269.76 444.64,269.81 445,269.87 445.36,269.92 445.72,269.97 446.08,270.02 446.43,270.08 446.79,270.13 447.15,270.18 447.51,270.24 447.87,270.29 448.23,270.34 448.59,270.4 448.94,270.45 449.3,270.5 449.66,270.56 450.02,270.61 450.38,270.66 450.74,270.72 451.1,270.77 451.45,270.83 451.81,270.88 452.17,270.94 452.53,270.99 452.89,271.05 453.25,271.11 453.6,271.16 453.96,271.22 454.32,271.28 454.68,271.33 455.04,271.39 455.4,271.45 455.76,271.51 456.11,271.57 456.47,271.63 456.83,271.69 457.19,271.75 457.55,271.81 457.91,271.87 458.26,271.94 458.62,272 458.98,272.06 459.34,272.12 459.7,272.19 460.06,272.25 460.42,272.32 460.77,272.39 461.13,272.45 461.49,272.52 461.85,272.59 462.21,272.66 462.57,272.73 462.93,272.81 463.28,272.88 463.64,272.96 464,273.04 464.36,273.12 464.72,273.19 465.08,273.27 465.44,273.35 465.79,273.43 466.15,273.51 466.51,273.59 466.87,273.68 467.23,273.76" fill="none" stroke="#800080" stroke-width="3.3" stroke-linejoin="round" stroke-linecap="round" />
<polyline points="282.96,206 283.32,207.03 283.68,208.04 284.03,209.02 284.39,209.97 284.75,210.89 285.11,211.77 285.47,212.63 285.83,213.47 286.19,214.29 286.54,215.09 286.9,215.88 287.26,216.65 287.62,217.4 287.98,218.14 288.34,218.86 288.69,219.57 289.05,220.26 289.41,220.95 289.77,221.62 290.13,222.28 290.49,222.94 290.85,223.59 291.2,224.24 291.56,224.9 291.92,225.56 292.28,226.21 292.64,226.85 293,227.46 293.36,228.05 293.71,228.61 294.07,229.13 294.43,229.62 294.79,230.11 295.15,230.59 295.51,231.06 295.86,231.53 296.22,231.98 296.58,232.43 296.94,232.87 297.3,233.3 297.66,233.72 298.02,234.14 298.37,234.54 298.73,234.93 299.09,235.31 299.45,235.69 299.81,236.05 300.17,236.4 300.53,236.74 300.88,237.06 301.24,237.38 301.6,237.68 301.96,237.97 302.32,238.25 302.68,238.52 303.03,238.77 303.39,239.02 303.75,239.25 304.11,239.48 304.47,239.71 304.83,239.92 305.19,240.13 305.54,240.33 305.9,240.53 306.26,240.73 306.62,240.92 306.98,241.11 307.34,241.29 307.7,241.48 308.05,241.67 308.41,241.85 308.77,242.04 309.13,242.23 309.49,242.42 309.85,242.61 310.2,242.81 310.56,243.01 310.92,243.22 311.28,243.43 311.64,243.65 312,243.87 312.36,244.09 312.71,244.32 313.07,244.54 313.43,244.77 313.79,244.99 314.15,245.22 314.51,245.44 314.87,245.66 315.22,245.87 315.58,246.08 315.94,246.29 316.3,246.49 316.66,246.69 317.02,246.87 317.37,247.05 317.73,247.22 318.09,247.38 318.45,247.53 318.81,247.67 319.17,247.8 319.53,247.92 319.88,248.02 320.24,248.11 320.6,248.2 320.96,248.28 321.32,248.36 321.68,248.43 322.04,248.5 322.39,248.56 322.75,248.62 323.11,248.68 323.47,248.74 323.83,248.79 324.19,248.85 324.54,248.91 324.9,248.96 325.26,249.02 325.62,249.08 325.98,249.14 326.34,249.21 326.7,249.28 327.05,249.35 327.41,249.43 327.77,249.51 328.13,249.59 328.49,249.66 328.85,249.74 329.21,249.83 329.56,249.91 329.92,249.99 330.28,250.07 330.64,250.16 331,250.25 331.36,250.33 331.71,250.42 332.07,250.51 332.43,250.6 332.79,250.68 333.15,250.77 333.51,250.87 333.87,250.96 334.22,251.05 334.58,251.14 334.94,251.23 335.3,251.33 335.66,251.42 336.02,251.52 336.38,251.61 336.73,251.7 337.09,251.8 337.45,251.9 337.81,251.99 338.17,252.09 338.53,252.18 338.88,252.28 339.24,252.38 339.6,252.47 339.96,252.57 340.32,252.67 340.68,252.76 341.04,252.86 341.39,252.96 341.75,253.05 342.11,253.15 342.47,253.25 342.83,253.34 343.19,253.44 343.55,253.54 343.9,253.63 344.26,253.73 344.62,253.82 344.98,253.92 345.34,254.01 345.7,254.1 346.05,254.2 346.41,254.29 346.77,254.38 347.13,254.48 347.49,254.57 347.85,254.66 348.21,254.75 348.56,254.84 348.92,254.93 349.28,255.01 349.64,255.1 350,255.19 350.36,255.27 350.72,255.36 351.07,255.45 351.43,255.53 351.79,255.62 352.15,255.7 352.51,255.79 352.87,255.88 353.22,255.96 353.58,256.05 353.94,256.13 354.3,256.22 354.66,256.3 355.02,256.39 355.38,256.48 355.73,256.56 356.09,256.65 356.45,256.73 356.81,256.82 357.17,256.9 357.53,256.99 357.88,257.07 358.24,257.16 358.6,257.24 358.96,257.33 359.32,257.41 359.68,257.49 360.04,257.58 360.39,257.66 360.75,257.75 361.11,257.83 361.47,257.91 361.83,258 362.19,258.08 362.55,258.16 362.9,258.25 363.26,258.33 363.62,258.41 363.98,258.5 364.34,258.58 364.7,258.66 365.06,258.74 365.41,258.83 365.77,258.91 366.13,258.99 366.49,259.07 366.85,259.15 367.21,259.23 367.56,259.32 367.92,259.4 368.28,259.48 368.64,259.56 369,259.64 369.36,259.72 369.72,259.8 370.07,259.88 370.43,259.96 370.79,260.04 371.15,260.12 371.51,260.2 371.87,260.28 372.23,260.35 372.58,260.43 372.94,260.51 373.3,260.59 373.66,260.67 374.02,260.75 374.38,260.82 374.73,260.9 375.09,260.98 375.45,261.05 375.81,261.13 376.17,261.21 376.53,261.28 376.89,261.36 377.24,261.43 377.6,261.51 377.96,261.58 378.32,261.66 378.68,261.73 379.04,261.81 379.4,261.88 379.75,261.96 380.11,262.03 380.47,262.1 380.83,262.18 381.19,262.25 381.55,262.32 381.9,262.39 382.26,262.47 382.62,262.54 382.98,262.61 383.34,262.68 383.7,262.75 384.06,262.82 384.41,262.89 384.77,262.96 385.13,263.04 385.49,263.11 385.85,263.18 386.21,263.25 386.56,263.32 386.92,263.39 387.28,263.46 387.64,263.52 388,263.59 388.36,263.66 388.72,263.73 389.07,263.8 389.43,263.87 389.79,263.94 390.15,264.01 390.51,264.07 390.87,264.14 391.23,264.21 391.58,264.28 391.94,264.34 392.3,264.41 392.66,264.48 393.02,264.54 393.38,264.61 393.74,264.68 394.09,264.74 394.45,264.81 394.81,264.88 395.17,264.94 395.53,265.01 395.89,265.07 396.24,265.14 396.6,265.21 396.96,265.27 397.32,265.34 397.68,265.4 398.04,265.47 398.4,265.53 398.75,265.6 399.11,265.66 399.47,265.73 399.83,265.79 400.19,265.85 400.55,265.92 400.91,265.98 401.26,266.05 401.62,266.11 401.98,266.17 402.34,266.24 402.7,266.3 403.06,266.36 403.41,266.43 403.77,266.49 404.13,266.55 404.49,266.62 404.85,266.68 405.21,266.74 405.57,266.8 405.92,266.87 406.28,266.93 406.64,266.99 407,267.05 407.36,267.12 407.72,267.18 408.08,267.24 408.43,267.3 408.79,267.36 409.15,267.43 409.51,267.49 409.87,267.55 410.23,267.61 410.58,267.67 410.94,267.73 411.3,267.79 411.66,267.85 412.02,267.91 412.38,267.97 412.74,268.02 413.09,268.08 413.45,268.14 413.81,268.2 414.17,268.26 414.53,268.32 414.89,268.37 415.25,268.43 415.6,268.49 415.96,268.55 416.32,268.6 416.68,268.66 417.04,268.72 417.4,268.77 417.75,268.83 418.11,268.89 418.47,268.94 418.83,269 419.19,269.06 419.55,269.11 419.91,269.17 420.26,269.22 420.62,269.28 420.98,269.34 421.34,269.39 421.7,269.45 422.06,269.51 422.42,269.56 422.77,269.62 423.13,269.67 423.49,269.73 423.85,269.79 424.21,269.84 424.57,269.9 424.92,269.96 425.28,270.01 425.64,270.07 426,270.13 426.36,270.18 426.72,270.24 427.08,270.3 427.43,270.35 427.79,270.41 428.15,270.47 428.51,270.53 428.87,270.58 429.23,270.64 429.59,270.7 429.94,270.76 430.3,270.82 430.66,270.88 431.02,270.93 431.38,270.99 431.74,271.05 432.09,271.11 432.45,271.17 432.81,271.23 433.17,271.29 433.53,271.35 433.89,271.41 434.25,271.48 434.6,271.54 434.96,271.6 435.32,271.66 435.68,271.72 436.04,271.79 436.4,271.85 436.75,271.91 437.11,271.98 437.47,272.04 437.83,272.1 438.19,272.17 438.55,272.23 438.91,272.3 439.26,272.36 439.62,272.43 439.98,272.49 440.34,272.56 440.7,272.62 441.06,272.69 441.42,272.76 441.77,272.82 442.13,272.89 442.49,272.96 442.85,273.02 443.21,273.09 443.57,273.16 443.93,273.22 444.28,273.29 444.64,273.36 445,273.42 445.36,273.49 445.72,273.56 446.08,273.63 446.43,273.69 446.79,273.76 447.15,273.83 447.51,273.9 447.87,273.96 448.23,274.03 448.59,274.1 448.94,274.16 449.3,274.23 449.66,274.3 450.02,274.37 450.38,274.43 450.74,274.5 451.1,274.57 451.45,274.63 451.81,274.7 452.17,274.77 452.53,274.83 452.89,274.9 453.25,274.96 453.6,275.03 453.96,275.1 454.32,275.16 454.68,275.23 455.04,275.29 455.4,275.36 455.76,275.42 456.11,275.49 456.47,275.55 456.83,275.62 457.19,275.68 457.55,275.74 457.91,275.81 458.26,275.87 458.62,275.93 458.98,275.99 459.34,276.06 459.7,276.12 460.06,276.18 460.42,276.24 460.77,276.3 461.13,276.36 461.49,276.42 461.85,276.48 462.21,276.54 462.57,276.6 462.93,276.66 463.28,276.72 463.64,276.77 464,276.83 464.36,276.89 464.72,276.95 465.08,277 465.44,277.06 465.79,277.11 466.15,277.17 466.51,277.23 466.87,277.28 467.23,277.34" fill="none" stroke="#008000" stroke-width="3.3" stroke-linejoin="round" stroke-linecap="round" />
<path d="M300.6 245.12a1.6 1.6 0 1 0 3.2 0a1.6 1.6 0 1 0 -3.2 0M318.8 258.56a1.6 1.6 0 1 0 3.2 0a1.6 1.6 0 1 0 -3.2 0M337 266.69a1.6 1.6 0 1 0 3.2 0a1.6 1.6 0 1 0 -3.2 0M355.2 272.53a1.6 1.6 0 1 0 3.2 0a1.6 1.6 0 1 0 -3.2 0M373.4 277.82a1.6 1.6 0 1 0 3.2 0a1.6 1.6 0 1 0 -3.2 0M391.6 282.32a1.6 1.6 0 1 0 3.2 0a1.6 1.6 0 1 0 -3.2 0M409.8 286.33a1.6 1.6 0 1 0 3.2 0a1.6 1.6 0 1 0 -3.2 0M428 289.88a1.6 1.6 0 1 0 3.2 0a1.6 1.6 0 1 0 -3.2 0M446.2 292.93a1.6 1.6 0 1 0 3.2 0a1.6 1.6 0 1 0 -3.2 0" fill="#000000"/>
<path d="M300.7 253.62a1.5 1.5 0 1 0 3 0a1.5 1.5 0 1 0 -3 0M318.9 267.06a1.5 1.5 0 1 0 3 0a1.5 1.5 0 1 0 -3 0M337.1 275.19a1.5 1.5 0 1 0 3 0a1.5 1.5 0 1 0 -3 0M355.3 281.03a1.5 1.5 0 1 0 3 0a1.5 1.5 0 1 0 -3 0M373.5 286.32a1.5 1.5 0 1 0 3 0a1.5 1.5 0 1 0 -3 0M391.7 290.82a1.5 1.5 0 1 0 3 0a1.5 1.5 0 1 0 -3 0M409.9 294.83a1.5 1.5 0 1 0 3 0a1.5 1.5 0 1 0 -3 0M428.1 298.38a1.5 1.5 0 1 0 3 0a1.5 1.5 0 1 0 -3 0M446.3 301.43a1.5 1.5 0 1 0 3 0a1.5 1.5 0 1 0 -3 0" fill="#000000"/>
<path d="M300.6 235.16a1.6 1.6 0 1 0 3.2 0a1.6 1.6 0 1 0 -3.2 0M318.8 245.15a1.6 1.6 0 1 0 3.2 0a1.6 1.6 0 1 0 -3.2 0M337 249.2a1.6 1.6 0 1 0 3.2 0a1.6 1.6 0 1 0 -3.2 0M355.2 253.81a1.6 1.6 0 1 0 3.2 0a1.6 1.6 0 1 0 -3.2 0M373.4 257.96a1.6 1.6 0 1 0 3.2 0a1.6 1.6 0 1 0 -3.2 0M391.6 261.58a1.6 1.6 0 1 0 3.2 0a1.6 1.6 0 1 0 -3.2 0M409.8 264.8a1.6 1.6 0 1 0 3.2 0a1.6 1.6 0 1 0 -3.2 0M428 267.7a1.6 1.6 0 1 0 3.2 0a1.6 1.6 0 1 0 -3.2 0M446.2 270.95a1.6 1.6 0 1 0 3.2 0a1.6 1.6 0 1 0 -3.2 0" fill="#008000"/>
<path d="M300.6 232.08a1.6 1.6 0 1 0 3.2 0a1.6 1.6 0 1 0 -3.2 0M318.8 241.79a1.6 1.6 0 1 0 3.2 0a1.6 1.6 0 1 0 -3.2 0M337 246.78a1.6 1.6 0 1 0 3.2 0a1.6 1.6 0 1 0 -3.2 0M355.2 251.43a1.6 1.6 0 1 0 3.2 0a1.6 1.6 0 1 0 -3.2 0M373.4 255.58a1.6 1.6 0 1 0 3.2 0a1.6 1.6 0 1 0 -3.2 0M391.6 258.81a1.6 1.6 0 1 0 3.2 0a1.6 1.6 0 1 0 -3.2 0M409.8 261.73a1.6 1.6 0 1 0 3.2 0a1.6 1.6 0 1 0 -3.2 0M428 264.93a1.6 1.6 0 1 0 3.2 0a1.6 1.6 0 1 0 -3.2 0M446.2 267.78a1.6 1.6 0 1 0 3.2 0a1.6 1.6 0 1 0 -3.2 0" fill="#800080"/>
<circle cx="393" cy="212.5" r="2.3" fill="#000000"/>
<text x="405" y="215.4" font-size="8.2" text-anchor="start" >Uncoated</text>
<circle cx="393" cy="223.7" r="2.3" fill="#008000"/>
<text x="405" y="226.6" font-size="8.2" text-anchor="start" >11 µg/cm<tspan font-size="5.6" dy="-3.2">2</tspan><tspan dy="3.2"> Ni</tspan></text>
<circle cx="393" cy="234.9" r="2.3" fill="#800080"/>
<text x="405" y="237.8" font-size="8.2" text-anchor="start" >11 µg/cm<tspan font-size="5.6" dy="-3.2">2</tspan><tspan dy="3.2"> Cu</tspan></text>
<path d="M535.8 150.3v-3.0M535.8 17.7v3.0M571.65 150.3v-3.0M571.65 17.7v3.0M607.5 150.3v-3.0M607.5 17.7v3.0M643.35 150.3v-3.0M643.35 17.7v3.0M679.2 150.3v-3.0M679.2 17.7v3.0M715.05 150.3v-3.0M715.05 17.7v3.0" stroke="#000" stroke-width="1.0"/>
<path d="M553.73 150.3v-1.8M553.73 17.7v1.8M589.58 150.3v-1.8M589.58 17.7v1.8M625.43 150.3v-1.8M625.43 17.7v1.8M661.28 150.3v-1.8M661.28 17.7v1.8M697.12 150.3v-1.8M697.12 17.7v1.8" stroke="#000" stroke-width="1.0"/>
<path d="M534.2 150.2h3.0M721.8 150.2h-3.0M534.2 106.1h3.0M721.8 106.1h-3.0M534.2 62h3.0M721.8 62h-3.0M534.2 17.9h3.0M721.8 17.9h-3.0" stroke="#000" stroke-width="1.0"/>
<path d="" stroke="#000" stroke-width="1.0"/>
<text x="535.8" y="163.2" font-size="11.5" text-anchor="middle" >0</text>
<text x="571.65" y="163.2" font-size="11.5" text-anchor="middle" >100</text>
<text x="607.5" y="163.2" font-size="11.5" text-anchor="middle" >200</text>
<text x="643.35" y="163.2" font-size="11.5" text-anchor="middle" >300</text>
<text x="679.2" y="163.2" font-size="11.5" text-anchor="middle" >400</text>
<text x="715.05" y="163.2" font-size="11.5" text-anchor="middle" >500</text>
<text x="530.9" y="153.8" font-size="11.5" text-anchor="end" >99.0</text>
<text x="530.9" y="109.7" font-size="11.5" text-anchor="end" >99.5</text>
<text x="530.9" y="65.6" font-size="11.5" text-anchor="end" >100.0</text>
<text x="530.9" y="21.5" font-size="11.5" text-anchor="end" >100.5</text>
<text x="628" y="183.2" font-size="13.7" text-anchor="middle" >Cycle Number</text>
<text transform="translate(497.4,84.2) rotate(-90)" font-size="13.7" text-anchor="middle">Coulombic Efficiency (%)</text>
<text x="534.4" y="9.8" font-size="14" text-anchor="start" >(c)</text>
<path d="M541.8 107.39V92.65M540.6 107.39h2.4M540.6 92.65h2.4M546.1 96.2V83.56M544.9 96.2h2.4M544.9 83.56h2.4M550.4 88.56V77.48M549.2 88.56h2.4M549.2 77.48h2.4M554.7 83.34V73.42M553.5 83.34h2.4M553.5 73.42h2.4M559 80V70.94M557.8 80h2.4M557.8 70.94h2.4M563.3 77.86V69.43M562.1 77.86h2.4M562.1 69.43h2.4M567.6 76.31V68.35M566.4 76.31h2.4M566.4 68.35h2.4M571.9 75.1V67.49M570.7 75.1h2.4M570.7 67.49h2.4M576.2 74.09V66.74M575 74.09h2.4M575 66.74h2.4M580.5 73.21V66.05M579.3 73.21h2.4M579.3 66.05h2.4M584.8 72.48V65.46M583.6 72.48h2.4M583.6 65.46h2.4M589.1 71.9V64.99M587.9 71.9h2.4M587.9 64.99h2.4M593.4 71.43V64.59M592.2 71.43h2.4M592.2 64.59h2.4M597.7 71V64.22M596.5 71h2.4M596.5 64.22h2.4M602 70.66V63.93M600.8 70.66h2.4M600.8 63.93h2.4M606.3 70.45V63.75M605.1 70.45h2.4M605.1 63.75h2.4M610.6 70.36V63.68M609.4 70.36h2.4M609.4 63.68h2.4M614.9 70.28V63.61M613.7 70.28h2.4M613.7 63.61h2.4M619.2 70.21V63.55M618 70.21h2.4M618 63.55h2.4M623.5 70.14V63.5M622.3 70.14h2.4M622.3 63.5h2.4M627.8 70.07V63.44M626.6 70.07h2.4M626.6 63.44h2.4M632.1 70.01V63.38M630.9 70.01h2.4M630.9 63.38h2.4M636.4 69.96V63.33M635.2 69.96h2.4M635.2 63.33h2.4M640.7 69.91V63.29M639.5 69.91h2.4M639.5 63.29h2.4M645 69.86V63.24M643.8 69.86h2.4M643.8 63.24h2.4M649.3 69.82V63.2M648.1 69.82h2.4M648.1 63.2h2.4M653.6 69.78V63.16M652.4 69.78h2.4M652.4 63.16h2.4M657.9 69.74V63.12M656.7 69.74h2.4M656.7 63.12h2.4M662.2 69.7V63.09M661 69.7h2.4M661 63.09h2.4M666.5 69.67V63.06M665.3 69.67h2.4M665.3 63.06h2.4M670.8 69.64V63.03M669.6 69.64h2.4M669.6 63.03h2.4M675.1 69.62V63M673.9 69.62h2.4M673.9 63h2.4M679.4 69.6V62.98M678.2 69.6h2.4M678.2 62.98h2.4M683.7 69.57V62.96M682.5 69.57h2.4M682.5 62.96h2.4M688 69.56V62.94M686.8 69.56h2.4M686.8 62.94h2.4M692.3 69.54V62.93M691.1 69.54h2.4M691.1 62.93h2.4M696.6 69.53V62.91M695.4 69.53h2.4M695.4 62.91h2.4M700.9 69.52V62.9M699.7 69.52h2.4M699.7 62.9h2.4M705.2 69.51V62.89M704 69.51h2.4M704 62.89h2.4M709.5 69.5V62.89M708.3 69.5h2.4M708.3 62.89h2.4M713.8 69.5V62.88M712.6 69.5h2.4M712.6 62.88h2.4M718.1 69.5V62.88M716.9 69.5h2.4M716.9 62.88h2.4" stroke="#4a4a4a" stroke-width="0.8" fill="none" opacity="1.0"/>
<path d="M543.8 93.39V87.65M542.6 93.39h2.4M542.6 87.65h2.4M552.4 77.67V71.93M551.2 77.67h2.4M551.2 71.93h2.4M561 73.42V67.69M559.8 73.42h2.4M559.8 67.69h2.4M569.6 70V64.26M568.4 70h2.4M568.4 64.26h2.4M578.2 67.14V61.41M577 67.14h2.4M577 61.41h2.4M586.8 66.13V60.4M585.6 66.13h2.4M585.6 60.4h2.4M595.4 65.49V59.76M594.2 65.49h2.4M594.2 59.76h2.4M604 65.14V59.41M602.8 65.14h2.4M602.8 59.41h2.4M612.6 65.04V59.31M611.4 65.04h2.4M611.4 59.31h2.4M621.2 64.97V59.24M620 64.97h2.4M620 59.24h2.4M629.8 64.91V59.18M628.6 64.91h2.4M628.6 59.18h2.4M638.4 64.86V59.13M637.2 64.86h2.4M637.2 59.13h2.4M647 64.81V59.08M645.8 64.81h2.4M645.8 59.08h2.4M655.6 64.77V59.04M654.4 64.77h2.4M654.4 59.04h2.4M664.2 64.74V59.01M663 64.74h2.4M663 59.01h2.4M672.8 64.71V58.98M671.6 64.71h2.4M671.6 58.98h2.4M681.4 64.69V58.96M680.2 64.69h2.4M680.2 58.96h2.4M690 64.67V58.94M688.8 64.67h2.4M688.8 58.94h2.4M698.6 64.66V58.93M697.4 64.66h2.4M697.4 58.93h2.4M707.2 64.65V58.92M706 64.65h2.4M706 58.92h2.4M715.8 64.65V58.91M714.6 64.65h2.4M714.6 58.91h2.4" stroke="#3838ff" stroke-width="0.7" fill="none" opacity="0.7"/>
<path d="M539.8 106.01V91.37M538.6 106.01h2.4M538.6 91.37h2.4M548.4 84.95V73.53M547.2 84.95h2.4M547.2 73.53h2.4M557 77.1V67.69M555.8 77.1h2.4M555.8 67.69h2.4M565.6 72.2V64.02M564.4 72.2h2.4M564.4 64.02h2.4M574.2 69.26V61.85M573 69.26h2.4M573 61.85h2.4M582.8 67.91V60.96M581.6 67.91h2.4M581.6 60.96h2.4M591.4 67.27V60.62M590.2 67.27h2.4M590.2 60.62h2.4M600 66.87V60.4M598.8 66.87h2.4M598.8 60.4h2.4M608.6 66.67V60.31M607.4 66.67h2.4M607.4 60.31h2.4M617.2 66.54V60.25M616 66.54h2.4M616 60.25h2.4M625.8 66.43V60.19M624.6 66.43h2.4M624.6 60.19h2.4M634.4 66.34V60.12M633.2 66.34h2.4M633.2 60.12h2.4M643 66.26V60.06M641.8 66.26h2.4M641.8 60.06h2.4M651.6 66.2V60.01M650.4 66.2h2.4M650.4 60.01h2.4M660.2 66.14V59.96M659 66.14h2.4M659 59.96h2.4M668.8 66.09V59.91M667.6 66.09h2.4M667.6 59.91h2.4M677.4 66.06V59.88M676.2 66.06h2.4M676.2 59.88h2.4M686 66.02V59.85M684.8 66.02h2.4M684.8 59.85h2.4M694.6 66V59.82M693.4 66h2.4M693.4 59.82h2.4M703.2 65.98V59.81M702 65.98h2.4M702 59.81h2.4M711.8 65.97V59.8M710.6 65.97h2.4M710.6 59.8h2.4" stroke="#ff5050" stroke-width="0.7" fill="none" opacity="0.7"/>
<polyline points="540.46,105.88 540.82,103.5 541.18,101.86 541.54,100.08 541.89,99.03 542.25,98.04 542.61,97.26 542.97,96.07 543.33,95.05 543.69,94.39 544.05,92.55 544.4,91.91 544.76,93.89 545.12,92.62 545.48,90.55 545.84,90.08 546.2,88.85 546.56,88.2 546.91,85.9 547.27,88.15 547.63,86.91 547.99,84.2 548.35,84.87 548.71,84.29 549.06,84.77 549.42,85.23 549.78,83.1 550.14,82.63 550.5,83.3 550.86,82.33 551.22,81.32 551.57,81.63 551.93,80.45 552.29,79.87 552.65,79.53 553.01,79.64 553.37,78.33 553.73,77.75 554.08,77.94 554.44,78.65 554.8,76.99 555.16,77.79 555.52,76.29 555.88,77.75 556.23,75.73 556.59,76.31 556.95,77.15 557.31,76.09 557.67,75.53 558.03,75.12 558.39,76.02 558.74,75.93 559.1,74.58 559.46,74.98 559.82,74.18 560.18,73.55 560.54,75.51 560.9,73.68 561.25,72.68 561.61,73.88 561.97,74.19 562.33,72.68 562.69,72.98 563.05,72.29 563.4,73.25 563.76,74.13 564.12,72.8 564.48,72.98 564.84,71.79 565.2,72.19 565.56,73.69 565.91,73.19 566.27,71.26 566.63,71.33 566.99,72.4 567.35,71.73 567.71,71.24 568.07,71.13 568.42,70.68 568.78,71.13 569.14,71.35 569.5,71.41 569.86,70.16 570.22,73 570.57,71.05 570.93,70.82 571.29,72.02 571.65,70.39 572.01,71.18 572.37,69.77 572.73,70.57 573.08,69.79 573.44,69.23 573.8,69.89 574.16,70.93 574.52,71.42 574.88,68.46 575.24,70.04 575.59,70.48 575.95,69.67 576.31,69.9 576.67,68.91 577.03,69.56 577.39,69.51 577.74,70.09 578.1,68.98 578.46,70.24 578.82,68.68 579.18,67.85 579.54,70.48 579.9,71.25 580.25,68.47 580.61,66.7 580.97,69.78 581.33,69.94 581.69,68.26 582.05,69.46 582.41,69.11 582.76,68.91 583.12,68.08 583.48,68.86 583.84,68.2 584.2,68.55 584.56,69.09 584.91,68.58 585.27,69.08 585.63,68.19 585.99,69.14 586.35,69.07 586.71,66.77 587.07,68.06 587.42,68.02 587.78,67.48 588.14,68.26 588.5,68.05 588.86,67.43 589.22,67.52 589.58,68.76 589.93,66.96 590.29,68.18 590.65,68.56 591.01,68.38 591.37,67.9 591.73,66.08 592.08,68.52 592.44,67.3 592.8,69.29 593.16,67.37 593.52,66.54 593.88,67.51 594.24,67.82 594.59,67.03 594.95,66.58 595.31,66.58 595.67,65.39 596.03,66.92 596.39,67.59 596.75,67.15 597.1,67.07 597.46,66.88 597.82,66.97 598.18,66.76 598.54,68.36 598.9,66.12 599.25,67.33 599.61,67.83 599.97,66.21 600.33,65.58 600.69,66.29 601.05,66.55 601.41,67.49 601.76,64.12 602.12,65.85 602.48,67.61 602.84,67.27 603.2,66.49 603.56,67.92 603.92,66.38 604.27,66.92 604.63,65.42 604.99,65.63 605.35,68.86 605.71,66.42 606.07,67.87 606.42,65.46 606.78,66.28 607.14,65.93 607.5,67.35 607.86,64.79 608.22,64.62 608.58,67.33 608.93,66.06 609.29,66.97 609.65,66.39 610.01,67.48 610.37,64.71 610.73,67.21 611.09,66.61 611.44,65.9 611.8,66.91 612.16,66.54 612.52,66.82 612.88,66.44 613.24,67.35 613.59,66.69 613.95,66.48 614.31,66.59 614.67,66.24 615.03,66.54 615.39,65.61 615.75,66.56 616.1,66.39 616.46,66.85 616.82,66.72 617.18,67.36 617.54,65.79 617.9,67.25 618.26,66.89 618.61,65.91 618.97,65.87 619.33,66.57 619.69,67.99 620.05,65.83 620.41,65.97 620.76,67.44 621.12,65.51 621.48,66.8 621.84,67.17 622.2,66.09 622.56,66.33 622.92,65.98 623.27,67.57 623.63,64.55 623.99,66.68 624.35,67.5 624.71,65.59 625.07,66.45 625.43,65.84 625.78,66.42 626.14,66.17 626.5,65.9 626.86,66.77 627.22,65.5 627.58,66.51 627.93,66.86 628.29,66.02 628.65,65.69 629.01,66.28 629.37,66.83 629.73,65.52 630.09,67.62 630.44,66.97 630.8,66.02 631.16,67.25 631.52,66.02 631.88,66.09 632.24,65.24 632.6,66.84 632.95,66.58 633.31,65.73 633.67,68.19 634.03,63.28 634.39,66.63 634.75,66.65 635.1,65.24 635.46,66.03 635.82,67.56 636.18,65.43 636.54,65.23 636.9,66.38 637.26,66.22 637.61,65.54 637.97,66.77 638.33,65.58 638.69,65.78 639.05,66.55 639.41,67.18 639.77,66.15 640.12,66.71 640.48,65.05 640.84,65.81 641.2,65.24 641.56,65.81 641.92,65.69 642.27,66.61 642.63,65.32 642.99,64.34 643.35,66.18 643.71,66.43 644.07,66.04 644.43,66.32 644.78,66.51 645.14,65.77 645.5,66.14 645.86,64.61 646.22,65.88 646.58,65.59 646.94,65.03 647.29,66.13 647.65,64.59 648.01,66.42 648.37,66.57 648.73,66.17 649.09,65.95 649.44,67.08 649.8,65.87 650.16,67.31 650.52,64.61 650.88,65.9 651.24,66.39 651.6,66.63 651.95,66.16 652.31,66.01 652.67,66.74 653.03,66.62 653.39,65.97 653.75,66.26 654.11,64.97 654.46,64.79 654.82,65.78 655.18,65.37 655.54,66.97 655.9,65.22 656.26,65.81 656.61,65.35 656.97,64.36 657.33,67.78 657.69,65.54 658.05,66.74 658.41,65.24 658.77,66.92 659.12,66.2 659.48,65.58 659.84,65.21 660.2,65.68 660.56,66.45 660.92,66.23 661.28,64.96 661.63,65.74 661.99,67.22 662.35,64.99 662.71,65.36 663.07,64.96 663.43,66.02 663.78,64.99 664.14,66.66 664.5,65.21 664.86,66.15 665.22,65.12 665.58,64.82 665.94,66.36 666.29,65.75 666.65,65.67 667.01,64.65 667.37,65.07 667.73,66.77 668.09,65.29 668.45,65.03 668.8,63.81 669.16,67.17 669.52,66.16 669.88,64.5 670.24,66.87 670.6,66.73 670.95,65.22 671.31,64.77 671.67,66.26 672.03,65.19 672.39,65.56 672.75,64.32 673.11,65.66 673.46,64.78 673.82,66.45 674.18,65.82 674.54,65.74 674.9,64.65 675.26,65.14 675.62,66.31 675.97,65.04 676.33,64.96 676.69,65.74 677.05,65.87 677.41,65.81 677.77,67.13 678.12,65.47 678.48,65.42 678.84,66.39 679.2,64.97 679.56,66.84 679.92,66.11 680.28,66.04 680.63,63.87 680.99,67.03 681.35,65.12 681.71,64.78 682.07,65.28 682.43,64.57 682.79,66.49 683.14,67.62 683.5,64.93 683.86,66.66 684.22,65.89 684.58,66.64 684.94,64.67 685.29,64.84 685.65,66.23 686.01,64.8 686.37,65.49 686.73,65.72 687.09,65.54 687.45,65.77 687.8,65.05 688.16,65.31 688.52,65.89 688.88,64.7 689.24,66.12 689.6,65.33 689.96,65.21 690.31,64.27 690.67,66.02 691.03,64.04 691.39,65.42 691.75,65.75 692.11,66.17 692.46,65.05 692.82,65.53 693.18,66.54 693.54,66.56 693.9,66.06 694.26,66.16 694.62,64.6 694.97,64.35 695.33,64.8 695.69,65.25 696.05,65.94 696.41,65.51 696.77,64.78 697.12,63.68 697.48,64.75 697.84,65.8 698.2,65.52 698.56,65.98 698.92,66.24 699.28,65.72 699.63,65.38 699.99,63.93 700.35,65.5 700.71,64.35 701.07,63.99 701.43,65.48 701.79,64.13 702.14,64.92 702.5,65.91 702.86,65.31 703.22,65.52 703.58,65.75 703.94,65.72 704.3,65.41 704.65,65.16 705.01,66.32 705.37,65.55 705.73,66.88 706.09,65.31 706.45,64.99 706.8,65.39 707.16,65.29 707.52,65.02 707.88,66.12 708.24,65.75 708.6,65.08 708.96,64.65 709.31,65.19 709.67,63.28 710.03,65.61 710.39,64.65 710.75,64.42 711.11,65.65 711.47,66.26 711.82,66.57 712.18,65.39 712.54,64.55 712.9,65.29 713.26,65.38 713.62,65.86 713.97,65.04 714.33,67.41 714.69,65.32 715.05,65.5 715.41,66.74 715.77,63.61 716.13,66.75 716.48,66.48 716.84,66.59 717.2,64.55 717.56,66.31 717.92,64.94 718.28,65.01 718.63,65.3 718.99,66.68 719.35,66.07" fill="none" stroke="#000000" stroke-width="2.8" stroke-linejoin="round" stroke-linecap="round" />
<path d="M534.91 141.38a1.25 1.25 0 1 0 2.5 0a1.25 1.25 0 1 0 -2.5 0M535.27 141.38a1.25 1.25 0 1 0 2.5 0a1.25 1.25 0 1 0 -2.5 0M535.63 141.66a1.25 1.25 0 1 0 2.5 0a1.25 1.25 0 1 0 -2.5 0M535.98 142.69a1.25 1.25 0 1 0 2.5 0a1.25 1.25 0 1 0 -2.5 0M536.34 143.02a1.25 1.25 0 1 0 2.5 0a1.25 1.25 0 1 0 -2.5 0M536.7 139.59a1.25 1.25 0 1 0 2.5 0a1.25 1.25 0 1 0 -2.5 0M537.06 134.32a1.25 1.25 0 1 0 2.5 0a1.25 1.25 0 1 0 -2.5 0M537.42 128.33a1.25 1.25 0 1 0 2.5 0a1.25 1.25 0 1 0 -2.5 0M537.78 121.98a1.25 1.25 0 1 0 2.5 0a1.25 1.25 0 1 0 -2.5 0M538.14 116.42a1.25 1.25 0 1 0 2.5 0a1.25 1.25 0 1 0 -2.5 0M538.49 111.9a1.25 1.25 0 1 0 2.5 0a1.25 1.25 0 1 0 -2.5 0M538.85 108.51a1.25 1.25 0 1 0 2.5 0a1.25 1.25 0 1 0 -2.5 0M539.21 105.69a1.25 1.25 0 1 0 2.5 0a1.25 1.25 0 1 0 -2.5 0" fill="#000000"/>
<polyline points="536.16,115.71 536.52,116.72 536.88,113.84 537.23,119.12 537.59,114.02 537.95,110.17 538.31,108.2 538.67,104.97 539.03,103.23 539.39,99.46 539.74,99.25 540.1,98.17 540.46,96.86 540.82,95.83 541.18,94.92 541.54,93.42 541.89,91.71 542.25,91.19 542.61,89.2 542.97,89.37 543.33,88.39 543.69,85.99 544.05,86.4 544.4,87.06 544.76,86.07 545.12,84.46 545.48,81.73 545.84,84.48 546.2,83.82 546.56,81.21 546.91,83.58 547.27,82 547.63,79.52 547.99,79.41 548.35,79.62 548.71,78.17 549.06,83.24 549.42,76.7 549.78,79.45 550.14,80.21 550.5,76.78 550.86,75.79 551.22,77.3 551.57,78.01 551.93,75.98 552.29,75.83 552.65,73.26 553.01,74.04 553.37,74.67 553.73,72.98 554.08,74.84 554.44,75.77 554.8,73.16 555.16,72.95 555.52,79.89 555.88,78.08 556.23,74.83 556.59,78.13 556.95,72.4 557.31,72.25 557.67,75.29 558.03,72.19 558.39,73.62 558.74,70.7 559.1,74.95 559.46,72.99 559.82,70.23 560.18,69.34 560.54,74.42 560.9,71.61 561.25,70.12 561.61,71.43 561.97,67.75 562.33,71.99 562.69,69.35 563.05,71.4 563.4,67.32 563.76,69.41 564.12,69.79 564.48,71.76 564.84,66.2 565.2,67.52 565.56,67.37 565.91,66.62 566.27,67.74 566.63,69.19 566.99,69.33 567.35,69.21 567.71,65.65 568.07,70.03 568.42,68.55 568.78,68 569.14,67.02 569.5,66.36 569.86,69.15 570.22,69.8 570.57,66.96 570.93,64.92 571.29,65.54 571.65,66.3 572.01,67.05 572.37,65.99 572.73,66.74 573.08,64.97 573.44,67.44 573.8,71.04 574.16,69.15 574.52,66.76 574.88,66.46 575.24,62.28 575.59,63.64 575.95,63.43 576.31,68.8 576.67,66.04 577.03,66.4 577.39,64.53 577.74,68.94 578.1,63.41 578.46,63.54 578.82,67.26 579.18,66.7 579.54,66.39 579.9,65.02 580.25,64.04 580.61,61.78 580.97,65.32 581.33,63.76 581.69,64.71 582.05,62.13 582.41,63.73 582.76,62.71 583.12,66.57 583.48,65.14 583.84,66.1 584.2,62.39 584.56,63.72 584.91,65.22 585.27,65.43 585.63,63.92 585.99,65.79 586.35,66.13 586.71,63.87 587.07,60.7 587.42,64.98 587.78,65.45 588.14,66.41 588.5,66.65 588.86,63.68 589.22,63.14 589.58,64.46 589.93,63.93 590.29,64.26 590.65,64.2 591.01,66.83 591.37,65.12 591.73,64.2 592.08,70.14 592.44,67.7 592.8,67.12 593.16,65.7 593.52,63.43 593.88,65.21 594.24,64.67 594.59,62.96 594.95,63.22 595.31,61.54 595.67,67.53 596.03,62.84 596.39,64.95 596.75,63.96 597.1,62.83 597.46,62.43 597.82,62.49 598.18,63.88 598.54,61.56 598.9,64.56 599.25,64.32 599.61,62.82 599.97,64.96 600.33,60.64 600.69,62.44 601.05,60.6 601.41,64.09 601.76,64.65 602.12,63.76 602.48,62.86 602.84,64.95 603.2,63.4 603.56,64.03 603.92,61.43 604.27,65.04 604.63,62.32 604.99,65 605.35,65.49 605.71,65.09 606.07,65.85 606.42,63.72 606.78,62.31 607.14,63.68 607.5,62.95 607.86,61.35 608.22,63.5 608.58,63.62 608.93,64.36 609.29,66.47 609.65,62.71 610.01,73.65 610.37,66.86 610.73,66.22 611.09,63.42 611.44,64.76 611.8,65.63 612.16,63.57 612.52,64.77 612.88,64.17 613.24,63.81 613.59,64.09 613.95,64.17 614.31,65.19 614.67,64.16 615.03,67.25 615.39,64.1 615.75,65.75 616.1,62.07 616.46,61.83 616.82,66.94 617.18,63.6 617.54,64.03 617.9,65.49 618.26,62.98 618.61,64.55 618.97,66.62 619.33,64.24 619.69,64.04 620.05,63.64 620.41,65.76 620.76,62.82 621.12,62.63 621.48,65.61 621.84,64.83 622.2,63.91 622.56,64.68 622.92,61.01 623.27,63.44 623.63,65.38 623.99,65.02 624.35,63.85 624.71,60.12 625.07,64.04 625.43,63.55 625.78,62.93 626.14,63.81 626.5,60.12 626.86,64.58 627.22,62.56 627.58,63.48 627.93,62.74 628.29,71.7 628.65,64.42 629.01,65.92 629.37,64.82 629.73,65.86 630.09,65.25 630.44,63.03 630.8,62.14 631.16,62.51 631.52,61.78 631.88,62.56 632.24,63.65 632.6,62.36 632.95,62.74 633.31,63.84 633.67,62.53 634.03,61.64 634.39,63.3 634.75,64.24 635.1,62.53 635.46,60.65 635.82,64 636.18,63.81 636.54,63.87 636.9,61.71 637.26,66.57 637.61,63.07 637.97,61.75 638.33,64.93 638.69,61.27 639.05,62.79 639.41,64.5 639.77,63.31 640.12,66.06 640.48,64.52 640.84,60.72 641.2,65.04 641.56,60.69 641.92,63.74 642.27,62.03 642.63,63.54 642.99,67.16 643.35,64.51 643.71,63.3 644.07,65.42 644.43,65.73 644.78,63.01 645.14,64.62 645.5,66.28 645.86,64.67 646.22,62.21 646.58,69.7 646.94,65.17 647.29,62.92 647.65,64.53 648.01,65.94 648.37,65.97 648.73,63.8 649.09,62.16 649.44,63.13 649.8,62.69 650.16,64.26 650.52,63.07 650.88,64.3 651.24,64.06 651.6,65.6 651.95,66.04 652.31,64.3 652.67,65.3 653.03,65.06 653.39,62.47 653.75,63.7 654.11,58.9 654.46,62.05 654.82,64.53 655.18,62.29 655.54,62.95 655.9,64.61 656.26,61.76 656.61,64.74 656.97,68.37 657.33,62.25 657.69,64.49 658.05,61.14 658.41,64.53 658.77,65.37 659.12,61.04 659.48,65.2 659.84,63.17 660.2,61.19 660.56,63.31 660.92,63.61 661.28,63.32 661.63,62.15 661.99,64.76 662.35,62.51 662.71,62.56 663.07,59.77 663.43,64.01 663.78,64.92 664.14,62.3 664.5,64.1 664.86,67.72 665.22,65.96 665.58,63.16 665.94,65.39 666.29,64.12 666.65,67.8 667.01,65.04 667.37,61.01 667.73,64.53 668.09,64.56 668.45,65.38 668.8,62.53 669.16,63.16 669.52,65.33 669.88,62.38 670.24,63.03 670.6,62.24 670.95,64.45 671.31,60.67 671.67,62.78 672.03,63.62 672.39,64.25 672.75,63.82 673.11,62.06 673.46,63.85 673.82,61.71 674.18,62.5 674.54,61.28 674.9,62.13 675.26,63.52 675.62,66.45 675.97,62.94 676.33,62.16 676.69,63.15 677.05,62.53 677.41,64.16 677.77,64.01 678.12,64.9 678.48,61.24 678.84,63.15 679.2,64.18 679.56,65.51 679.92,63.64 680.28,61.11 680.63,62.66 680.99,64.54 681.35,61.12 681.71,61.12 682.07,61.83 682.43,62.14 682.79,61.55 683.14,66.67 683.5,64.53 683.86,65.99 684.22,61.78 684.58,63.46 684.94,60.42 685.29,66.77 685.65,62.26 686.01,61.82 686.37,63.92 686.73,62.66 687.09,62.19 687.45,62.46 687.8,64.23 688.16,63.6 688.52,61.75 688.88,61.34 689.24,63.21 689.6,63.24 689.96,63.05 690.31,61.72 690.67,65.04 691.03,65.47 691.39,63.16 691.75,65.12 692.11,64.29 692.46,63.22 692.82,62.59 693.18,65.06 693.54,62.08 693.9,66.17 694.26,62.49 694.62,65.86 694.97,65.38 695.33,62.33 695.69,64 696.05,64.61 696.41,64.06 696.77,62.61 697.12,63.43 697.48,63.39 697.84,61.67 698.2,64.48 698.56,64.09 698.92,64.17 699.28,61.49 699.63,61.77 699.99,61.3 700.35,63.39 700.71,63.59 701.07,68.33 701.43,67.61 701.79,64.11 702.14,63.39 702.5,65.13 702.86,63.86 703.22,63.75 703.58,60.58 703.94,59.23 704.3,63.49 704.65,63.31 705.01,66.96 705.37,63 705.73,63.34 706.09,65.04 706.45,62.08 706.8,65.82 707.16,63.67 707.52,63.11 707.88,65.31 708.24,61.97 708.6,61.65 708.96,65.53 709.31,65.56 709.67,62.37 710.03,63.38 710.39,65.25 710.75,63.8 711.11,63.5 711.47,63.55 711.82,62.01 712.18,62.72 712.54,60.52 712.9,61.14 713.26,62.25 713.62,61.62 713.97,61.22 714.33,62.2 714.69,65.27 715.05,61.96 715.41,63.21 715.77,60.75 716.13,63.18 716.48,62.49 716.84,62.8 717.2,60.65 717.56,63.04 717.92,63.75 718.28,62.83 718.63,64.02 718.99,63.07 719.35,63.33" fill="none" stroke="#ff0000" stroke-width="3.0" stroke-linejoin="round" stroke-linecap="round" />
<polyline points="536.16,127.2 536.52,126.9 536.88,125.65 537.23,131.52 537.59,123.91 537.95,119.81 538.31,116.81 538.67,113.46 539.03,111.09 539.39,109.21 539.74,106.66 540.1,105.52 540.46,104.04 540.82,102.77 541.18,100.9 541.54,99.68 541.89,97.85 542.25,96.97 542.61,95.05 542.97,94.31 543.33,91.71 543.69,90.96 544.05,89.68 544.4,88.49 544.76,88.81 545.12,86.03 545.48,83.67 545.84,86.91 546.2,86.19 546.56,85.17 546.91,81.77 547.27,81.92 547.63,80.19 547.99,79.99 548.35,79.99 548.71,79.31 549.06,79.24 549.42,77.44 549.78,79.14 550.14,77.77 550.5,76.49 550.86,74.27 551.22,76.86 551.57,76.9 551.93,76.02 552.29,73.99 552.65,75.11 553.01,73.09 553.37,76.53 553.73,72.88 554.08,72.78 554.44,75.4 554.8,73.41 555.16,72 555.52,79.73 555.88,75.68 556.23,72.3 556.59,73.6 556.95,73.53 557.31,73.62 557.67,71.66 558.03,72.23 558.39,72.06 558.74,71.82 559.1,70.81 559.46,72.63 559.82,73.01 560.18,73.9 560.54,69.59 560.9,70.74 561.25,68.94 561.61,70.54 561.97,71.24 562.33,69.7 562.69,70.2 563.05,71.42 563.4,70.86 563.76,67.68 564.12,69.17 564.48,68.96 564.84,69.62 565.2,69.96 565.56,68.01 565.91,69.02 566.27,69.63 566.63,68.77 566.99,69.51 567.35,68.1 567.71,66.88 568.07,68.98 568.42,66.22 568.78,68.47 569.14,67.37 569.5,68.35 569.86,67.5 570.22,67.04 570.57,67.44 570.93,67.61 571.29,67.44 571.65,67.48 572.01,68.21 572.37,66.59 572.73,65.71 573.08,65 573.44,65.18 573.8,68.79 574.16,68.64 574.52,67.99 574.88,64.39 575.24,67.15 575.59,64.45 575.95,66.39 576.31,64.58 576.67,67.14 577.03,63.75 577.39,64.87 577.74,65.71 578.1,62.59 578.46,63.56 578.82,64.32 579.18,65.16 579.54,64.3 579.9,64.39 580.25,63.33 580.61,63.21 580.97,64.85 581.33,64.67 581.69,64.61 582.05,65.51 582.41,64.6 582.76,63.99 583.12,63.05 583.48,62.29 583.84,64.7 584.2,63.1 584.56,64.21 584.91,61.28 585.27,63.68 585.63,63.02 585.99,64.63 586.35,64.45 586.71,63.26 587.07,63.9 587.42,63.02 587.78,65.19 588.14,62.61 588.5,64.37 588.86,61.33 589.22,63.61 589.58,61.99 589.93,64.82 590.29,62.7 590.65,64.18 591.01,63.69 591.37,63.08 591.73,63.45 592.08,67.86 592.44,65.1 592.8,63.94 593.16,64.05 593.52,65.08 593.88,64.18 594.24,63.32 594.59,65.32 594.95,62.01 595.31,63.12 595.67,63.12 596.03,61.72 596.39,62.02 596.75,62.52 597.1,63.9 597.46,62.38 597.82,62.32 598.18,63.71 598.54,61.49 598.9,62.09 599.25,64.91 599.61,62.5 599.97,64.07 600.33,61.31 600.69,61.67 601.05,63.85 601.41,63.59 601.76,62.44 602.12,62.82 602.48,60.79 602.84,61.68 603.2,62.84 603.56,61.85 603.92,64.83 604.27,62.14 604.63,61.49 604.99,62.68 605.35,63.28 605.71,61.81 606.07,60.21 606.42,62.22 606.78,63.73 607.14,60.79 607.5,64.59 607.86,61.86 608.22,63.1 608.58,61.36 608.93,63.4 609.29,60.91 609.65,62.08 610.01,72.22 610.37,69.17 610.73,65.35 611.09,62.4 611.44,63.11 611.8,62.81 612.16,62.95 612.52,61.55 612.88,61.96 613.24,62.07 613.59,63.52 613.95,61.02 614.31,60.82 614.67,63.87 615.03,59.74 615.39,61.55 615.75,62.93 616.1,64.55 616.46,61.61 616.82,61.72 617.18,63.04 617.54,64.41 617.9,61.06 618.26,63.03 618.61,62.89 618.97,59.08 619.33,59.9 619.69,61.25 620.05,62.86 620.41,61.59 620.76,64.95 621.12,62.21 621.48,63.2 621.84,63.8 622.2,64.14 622.56,61.72 622.92,62.21 623.27,62.13 623.63,61.34 623.99,63.28 624.35,63.72 624.71,64.34 625.07,62.68 625.43,61.43 625.78,62.47 626.14,61.56 626.5,63.64 626.86,62.83 627.22,63.16 627.58,63.71 627.93,60.15 628.29,68.17 628.65,67.09 629.01,65.41 629.37,63.63 629.73,64.67 630.09,62.19 630.44,63.99 630.8,62.69 631.16,63.43 631.52,62.81 631.88,63.78 632.24,64.05 632.6,63.36 632.95,63.03 633.31,62.58 633.67,62.16 634.03,60.49 634.39,61.31 634.75,62.53 635.1,61.4 635.46,63.02 635.82,60.57 636.18,61.6 636.54,63.78 636.9,61.36 637.26,61.28 637.61,65.3 637.97,63.07 638.33,62.76 638.69,64.42 639.05,63.43 639.41,63.3 639.77,61.62 640.12,61.86 640.48,59.19 640.84,62.65 641.2,60.88 641.56,62.11 641.92,61.88 642.27,63.52 642.63,64.38 642.99,63.07 643.35,61.31 643.71,60.37 644.07,61.49 644.43,61.61 644.78,63.14 645.14,60.42 645.5,60.63 645.86,62.78 646.22,62.22 646.58,69.35 646.94,63.95 647.29,63.69 647.65,63.41 648.01,62.35 648.37,62.03 648.73,62.85 649.09,63.58 649.44,63.63 649.8,64.15 650.16,61.62 650.52,59.61 650.88,64.1 651.24,61.99 651.6,61.67 651.95,63.27 652.31,61.91 652.67,63.4 653.03,60.76 653.39,62.82 653.75,62.02 654.11,61.35 654.46,62.62 654.82,64.18 655.18,62.74 655.54,61.25 655.9,62.22 656.26,61.86 656.61,63.36 656.97,61.96 657.33,61.28 657.69,62.08 658.05,59.93 658.41,62.35 658.77,63.31 659.12,63.97 659.48,60.79 659.84,62.18 660.2,60.95 660.56,61.58 660.92,60.24 661.28,60.65 661.63,62.54 661.99,61.79 662.35,60.86 662.71,63.52 663.07,60.43 663.43,60.71 663.78,60.97 664.14,62.32 664.5,61.75 664.86,68.68 665.22,65.07 665.58,64.51 665.94,62.99 666.29,63.23 666.65,62.09 667.01,60.92 667.37,63.58 667.73,61.02 668.09,64.36 668.45,64.56 668.8,62.21 669.16,62.07 669.52,61.57 669.88,63.96 670.24,62.14 670.6,61.93 670.95,60.63 671.31,62.19 671.67,61.46 672.03,63.19 672.39,62.28 672.75,62.58 673.11,61.26 673.46,63.2 673.82,63.02 674.18,61.4 674.54,60.01 674.9,61.62 675.26,61.71 675.62,62.45 675.97,60.81 676.33,61.44 676.69,60.07 677.05,61.67 677.41,63.14 677.77,62.7 678.12,63.18 678.48,63.48 678.84,60.6 679.2,61.12 679.56,63.47 679.92,60 680.28,61.76 680.63,63.14 680.99,61.6 681.35,62.12 681.71,62.93 682.07,64.27 682.43,62 682.79,61.7 683.14,69.66 683.5,64.08 683.86,62.86 684.22,63.46 684.58,62.41 684.94,62.65 685.29,63.16 685.65,62.45 686.01,60.48 686.37,63.7 686.73,61.76 687.09,61.82 687.45,62.84 687.8,62.53 688.16,63.63 688.52,63 688.88,62.01 689.24,61.65 689.6,63.06 689.96,58.52 690.31,62.68 690.67,61.88 691.03,62.29 691.39,62.48 691.75,60.53 692.11,62.57 692.46,60.49 692.82,60.71 693.18,63.22 693.54,60.83 693.9,62.76 694.26,58.88 694.62,62.46 694.97,63.1 695.33,64.21 695.69,63.5 696.05,62.68 696.41,63.16 696.77,63.42 697.12,62.81 697.48,62.25 697.84,60.35 698.2,63.97 698.56,62.65 698.92,63.11 699.28,63.75 699.63,63.46 699.99,63.05 700.35,61.19 700.71,62.23 701.07,69.77 701.43,65.4 701.79,64.04 702.14,63.61 702.5,62.34 702.86,63.4 703.22,61.54 703.58,61.47 703.94,62.48 704.3,63.4 704.65,60.26 705.01,61.9 705.37,58.51 705.73,62.75 706.09,61.03 706.45,62.5 706.8,61.71 707.16,61.05 707.52,62.92 707.88,62.12 708.24,61.82 708.6,61.87 708.96,61.32 709.31,60.83 709.67,61.05 710.03,61.7 710.39,62.4 710.75,63.3 711.11,62.85 711.47,62.61 711.82,61.22 712.18,62.42 712.54,63.43 712.9,61.28 713.26,62.92 713.62,62.88 713.97,62.26 714.33,61.46 714.69,64.77 715.05,63.29 715.41,61.8 715.77,62.42 716.13,62.99 716.48,62.62 716.84,60.41 717.2,62.52 717.56,61.18 717.92,61.09 718.28,62.52 718.63,61.49 718.99,62.52 719.35,62.7" fill="none" stroke="#0000ff" stroke-width="3.0" stroke-linejoin="round" stroke-linecap="round" />
<path d="M553.8 76.11a1.6 1.6 0 1 0 3.2 0a1.6 1.6 0 1 0 -3.2 0M572 76.11a1.6 1.6 0 1 0 3.2 0a1.6 1.6 0 1 0 -3.2 0M590.2 76.11a1.6 1.6 0 1 0 3.2 0a1.6 1.6 0 1 0 -3.2 0M608.4 76.11a1.6 1.6 0 1 0 3.2 0a1.6 1.6 0 1 0 -3.2 0M626.6 76.11a1.6 1.6 0 1 0 3.2 0a1.6 1.6 0 1 0 -3.2 0M644.8 76.11a1.6 1.6 0 1 0 3.2 0a1.6 1.6 0 1 0 -3.2 0M663 76.11a1.6 1.6 0 1 0 3.2 0a1.6 1.6 0 1 0 -3.2 0M681.2 76.11a1.6 1.6 0 1 0 3.2 0a1.6 1.6 0 1 0 -3.2 0M699.4 76.11a1.6 1.6 0 1 0 3.2 0a1.6 1.6 0 1 0 -3.2 0" fill="#000000"/>
<path d="M646.4 82.29V68.17M645.1 82.29h2.6M645.1 68.17h2.6" stroke="#333" stroke-width="0.9" fill="none" opacity="1.0"/>
<circle cx="646.2" cy="26.5" r="2.3" fill="#000000"/>
<text x="658.2" y="29.4" font-size="8.2" text-anchor="start" >Uncoated</text>
<circle cx="646.2" cy="37.7" r="2.3" fill="#0000ff"/>
<text x="658.2" y="40.6" font-size="8.2" text-anchor="start" >3 µg/cm<tspan font-size="5.6" dy="-3.2">2</tspan><tspan dy="3.2"> Ni</tspan></text>
<circle cx="646.2" cy="48.9" r="2.3" fill="#ff0000"/>
<text x="658.2" y="51.8" font-size="8.2" text-anchor="start" >3 µg/cm<tspan font-size="5.6" dy="-3.2">2</tspan><tspan dy="3.2"> Cu</tspan></text>
<rect x="590.4" y="90" width="121.9" height="46.1" fill="#fff"/>
<clipPath id="icc"><rect x="590.4" y="90" width="121.9" height="46.1"/></clipPath>
<g clip-path="url(#icc)">
<path d="M600 128.65V125.57M598.5 128.65h3M598.5 125.57h3M612 114.46V111.38M610.5 114.46h3M610.5 111.38h3M626.5 110.21V107.13M625 110.21h3M625 107.13h3M640 107.45V104.37M638.5 107.45h3M638.5 104.37h3M664 104.53V101.45M662.5 104.53h3M662.5 101.45h3M686 103.24V100.16M684.5 103.24h3M684.5 100.16h3M706 102.51V99.43M704.5 102.51h3M704.5 99.43h3" stroke="#4a4a4a" stroke-width="0.7" fill="none" opacity="1.0"/>
<polyline points="594.44,131.96 595.04,132.29 595.65,132.28 596.25,132.29 596.86,132.1 597.47,131.8 598.07,130.99 598.68,129.89 599.28,128.4 599.89,126.98 600.5,125.89 601.1,124.79 601.71,123.4 602.31,121.58 602.92,120.71 603.53,120.07 604.13,118.8 604.74,118.28 605.34,117.45 605.95,116.77 606.56,116.23 607.16,115.42 607.77,115.11 608.37,114.83 608.98,114.24 609.59,113.82 610.19,114.09 610.8,113.49 611.4,113.4 612.01,112.96 612.62,112.97 613.22,112.44 613.83,112.24 614.43,112.09 615.04,112.06 615.65,111.71 616.25,111.68 616.86,111.56 617.46,111.01 618.07,111.14 618.68,110.44 619.28,110.37 619.89,110.83 620.49,110.13 621.1,110.29 621.71,109.86 622.31,109.7 622.92,110.01 623.52,109.45 624.13,109.3 624.74,108.87 625.34,109.22 625.95,108.63 626.55,108.92 627.16,108.6 627.77,108.58 628.37,107.91 628.98,107.98 629.58,107.42 630.19,107.71 630.8,107.53 631.4,107.41 632.01,107.62 632.61,107.37 633.22,106.92 633.83,107.2 634.43,106.94 635.04,106.87 635.64,106.6 636.25,106.71 636.86,106.54 637.46,106.33 638.07,106.25 638.67,106.36 639.28,105.84 639.89,106.24 640.49,106.1 641.1,106.01 641.7,105.39 642.31,105.59 642.92,105.63 643.52,105.57 644.13,105.11 644.73,105.35 645.34,105.31 645.95,104.78 646.55,105.11 647.16,104.82 647.76,104.67 648.37,104.69 648.98,104.52 649.58,104.12 650.19,104.48 650.79,104.58 651.4,104.64" fill="none" stroke="#000000" stroke-width="3.0" stroke-linejoin="round" stroke-linecap="round" />
<polyline points="655.04,103.87 655.64,103.84 656.25,103.64 656.85,105.67 657.46,105.15 658.07,104.79 658.67,104.42 659.28,104 659.88,103.92 660.49,103.63 661.1,103.07 661.7,103.28 662.31,103.65 662.91,102.8 663.52,103.04 664.13,103.26 664.73,102.77 665.34,102.92 665.94,103 666.55,102.96 667.16,102.99 667.76,102.7 668.37,102.41 668.97,102.69 669.58,102.48 670.19,102.1 670.79,102.77 671.4,102.39 672,102.48 672.61,102.62 673.22,102.57 673.82,102.3 674.43,102.16 675.03,102.35 675.64,102.19 676.25,102 676.85,102.07 677.46,101.9 678.06,101.96 678.67,101.93 679.28,101.59 679.88,101.84 680.49,101.92 681.09,101.76 681.7,102.1 682.31,101.94 682.91,101.65 683.52,101.66 684.12,101.42 684.73,101.75 685.34,102.06 685.94,101.25 686.55,101.42 687.15,101.89 687.76,101.3 688.37,101.59 688.97,101.99 689.58,101.64 690.18,101.64 690.79,101.13 691.4,101.66 692,101.51 692.61,101.49 693.21,101.49 693.82,101.59 694.43,101.31 695.03,101.09 695.64,101.17 696.24,101.51 696.85,101.54 697.46,101.22 698.06,101.39 698.67,101.35 699.27,101.57 699.88,100.71 700.49,100.93 701.09,101.35 701.7,100.89 702.3,100.77 702.91,101.62 703.52,101.17 704.12,101.12 704.73,100.86 705.33,101.02 705.94,101.02 706.55,100.97 707.15,100.51 707.76,100.42 708.36,101.02 708.97,101.09 709.58,100.24 710.18,101.07 710.79,100.96 711.39,100.8 712,100.68 712.61,100.54" fill="none" stroke="#000000" stroke-width="3.0" stroke-linejoin="round" stroke-linecap="round" />
<polyline points="594.44,119.62 595.04,119.53 595.65,118.78 596.25,118.36 596.86,117.5 597.47,117.46 598.07,117.33 598.68,116.85 599.28,115.86 599.89,115.91 600.5,115.88 601.1,115.14 601.71,114.64 602.31,114 602.92,114.17 603.53,113.46 604.13,113.12 604.74,113.17 605.34,112.76 605.95,112.02 606.56,111.76 607.16,111.69 607.77,111.55 608.37,111.11 608.98,111.15 609.59,110.88 610.19,110.8 610.8,110.36 611.4,110.14 612.01,109.24 612.62,109.7 613.22,109.15 613.83,108.93 614.43,109.09 615.04,108.59 615.65,109.2 616.25,108.51 616.86,108.17 617.46,108.77 618.07,108.34 618.68,107.69 619.28,107.85 619.89,107.91 620.49,107.62 621.1,107.52 621.71,107.1 622.31,107.04 622.92,107.08 623.52,107.04 624.13,106.77 624.74,106.32 625.34,106.41 625.95,106.21 626.55,106.25 627.16,106.38 627.77,106.11 628.37,105.65 628.98,105.64 629.58,105.74 630.19,105.77 630.8,105.24 631.4,105.21 632.01,105.08 632.61,104.95 633.22,104.69 633.83,104.57 634.43,104.3 635.04,104.2 635.64,104 636.25,104.03 636.86,104.2 637.46,104.05 638.07,103.84 638.67,103.94 639.28,103.67 639.89,103.45 640.49,103.83 641.1,103.98 641.7,103.23 642.31,103.43 642.92,103.21 643.52,103.61 644.13,102.84 644.73,103.01 645.34,103.15 645.95,103.14 646.55,102.98 647.16,102.98 647.76,102.95 648.37,103.09 648.98,102.48 649.58,102.73 650.19,102.65 650.79,102.59 651.4,103.11" fill="none" stroke="#ff0000" stroke-width="3.0" stroke-linejoin="round" stroke-linecap="round" />
<polyline points="655.04,102.15 655.64,102.31 656.25,102.25 656.85,104.43 657.46,104.07 658.07,103.18 658.67,103.17 659.28,102.93 659.88,102.69 660.49,102.27 661.1,101.99 661.7,102.17 662.31,102.28 662.91,101.6 663.52,102.01 664.13,101.42 664.73,101.65 665.34,101.74 665.94,101.67 666.55,101.37 667.16,101.22 667.76,101.43 668.37,101.12 668.97,100.81 669.58,101.3 670.19,101.47 670.79,101.41 671.4,101.45 672,101.23 672.61,101.21 673.22,101.31 673.82,100.84 674.43,101.53 675.03,101.19 675.64,100.38 676.25,100.57 676.85,100.65 677.46,100.63 678.06,100.28 678.67,100.53 679.28,100.6 679.88,100.86 680.49,100.55 681.09,100.66 681.7,100.62 682.31,100.58 682.91,100.39 683.52,100.41 684.12,100.1 684.73,100.56 685.34,100.26 685.94,99.75 686.55,100.14 687.15,99.83 687.76,99.81 688.37,99.73 688.97,99.83 689.58,100.28 690.18,99.99 690.79,99.99 691.4,100.22 692,99.94 692.61,100.09 693.21,100.16 693.82,99.7 694.43,99.73 695.03,99.85 695.64,99.89 696.24,99.77 696.85,99.71 697.46,99.69 698.06,99.58 698.67,99.64 699.27,99.43 699.88,99.37 700.49,99.39 701.09,99.6 701.7,99.56 702.3,99.3 702.91,99.42 703.52,99.36 704.12,99.9 704.73,99.92 705.33,99.2 705.94,99.18 706.55,98.91 707.15,99.04 707.76,99.13 708.36,99.16 708.97,99.47 709.58,98.91 710.18,99.23 710.79,98.96 711.39,99 712,98.97 712.61,98.8" fill="none" stroke="#ff0000" stroke-width="3.0" stroke-linejoin="round" stroke-linecap="round" />
<polyline points="594.44,124.83 595.04,124.39 595.65,123.89 596.25,123.11 596.86,122.03 597.47,121.95 598.07,121.05 598.68,120.59 599.28,120.08 599.89,119.55 600.5,119.46 601.1,118.65 601.71,117.9 602.31,117.98 602.92,117.42 603.53,117.17 604.13,116.57 604.74,116.54 605.34,115.58 605.95,115.71 606.56,115.66 607.16,114.57 607.77,114.45 608.37,114.25 608.98,113.94 609.59,113.83 610.19,113.48 610.8,112.93 611.4,112.56 612.01,112.23 612.62,112.06 613.22,111.89 613.83,111.51 614.43,110.89 615.04,110.5 615.65,110.61 616.25,110.35 616.86,109.68 617.46,109.54 618.07,109.29 618.68,109.51 619.28,109.05 619.89,108.85 620.49,108.45 621.1,108.66 621.71,107.76 622.31,107.77 622.92,107.54 623.52,107.71 624.13,107.25 624.74,106.74 625.34,107.23 625.95,106.62 626.55,106.36 627.16,106.52 627.77,106.01 628.37,106.13 628.98,105.62 629.58,105.64 630.19,105.57 630.8,105.02 631.4,105.16 632.01,104.91 632.61,105.36 633.22,105.11 633.83,104.63 634.43,104.49 635.04,104.58 635.64,104.26 636.25,104.55 636.86,104.13 637.46,104.31 638.07,103.84 638.67,103.9 639.28,103.82 639.89,103.54 640.49,103.03 641.1,103.58 641.7,103.4 642.31,102.93 642.92,103.2 643.52,102.62 644.13,102.91 644.73,102.88 645.34,102.75 645.95,102.37 646.55,102.57 647.16,102.54 647.76,102.55 648.37,102.91 648.98,102.71 649.58,102.11 650.19,102.22 650.79,102.24 651.4,102.17" fill="none" stroke="#0000ff" stroke-width="3.0" stroke-linejoin="round" stroke-linecap="round" />
<polyline points="655.04,102.18 655.64,101.94 656.25,102.18 656.85,104.54 657.46,104.1 658.07,103.45 658.67,102.88 659.28,102.73 659.88,102.25 660.49,102.1 661.1,101.96 661.7,101.6 662.31,102.14 662.91,102.08 663.52,101.49 664.13,101.35 664.73,101.04 665.34,101.28 665.94,101.22 666.55,101.57 667.16,101.15 667.76,101.13 668.37,101.49 668.97,101.42 669.58,101.2 670.19,101.08 670.79,101.79 671.4,101.06 672,100.99 672.61,101.05 673.22,100.92 673.82,100.84 674.43,101.15 675.03,100.79 675.64,100.91 676.25,101.04 676.85,100.74 677.46,100.41 678.06,101.06 678.67,101.07 679.28,101.04 679.88,100.18 680.49,100.66 681.09,100.59 681.7,100.72 682.31,100.73 682.91,100.95 683.52,100.41 684.12,100.36 684.73,100.85 685.34,100.61 685.94,100.51 686.55,100.31 687.15,100.22 687.76,99.99 688.37,99.9 688.97,99.94 689.58,99.85 690.18,100.4 690.79,100.23 691.4,99.81 692,99.97 692.61,100.01 693.21,100.44 693.82,100.38 694.43,99.75 695.03,99.81 695.64,99.92 696.24,99.92 696.85,100.19 697.46,99.67 698.06,99.49 698.67,99.31 699.27,99.65 699.88,99.67 700.49,99.85 701.09,99.28 701.7,99.13 702.3,99.63 702.91,99.39 703.52,99.4 704.12,99.52 704.73,99.93 705.33,99.41 705.94,99.15 706.55,99.59 707.15,99.42 707.76,99.95 708.36,98.86 708.97,99.01 709.58,99.09 710.18,99.13 710.79,99.18 711.39,99.03 712,99.05 712.61,99.01" fill="none" stroke="#0000ff" stroke-width="3.0" stroke-linejoin="round" stroke-linecap="round" />
</g>
<rect x="590.4" y="90" width="121.9" height="46.1" fill="none" stroke="#000" stroke-width="1.3"/>
<path d="M590.8 136.1v-2.5M590.8 90v2.5M651.4 136.1v-2.5M651.4 90v2.5M712 136.1v-2.5M712 90v2.5" stroke="#000" stroke-width="1.0"/>
<path d="M621.1 136.1v-1.5M621.1 90v1.5M681.7 136.1v-1.5M681.7 90v1.5" stroke="#000" stroke-width="1.0"/>
<path d="M590.4 135.5h2.5M712.3 135.5h-2.5M590.4 116.25h2.5M712.3 116.25h-2.5M590.4 97h2.5M712.3 97h-2.5" stroke="#000" stroke-width="1.0"/>
<path d="M590.4 125.88h1.5M712.3 125.88h-1.5M590.4 106.62h1.5M712.3 106.62h-1.5" stroke="#000" stroke-width="1.0"/>
<text x="590.8" y="146.9" font-size="10" text-anchor="middle" >0</text>
<text x="651.4" y="146.9" font-size="10" text-anchor="middle" >50</text>
<text x="712" y="146.9" font-size="10" text-anchor="middle" >100</text>
<text x="587.9" y="138.9" font-size="9.8" text-anchor="end" >99.0</text>
<text x="587.9" y="119.65" font-size="9.8" text-anchor="end" >99.5</text>
<text x="587.9" y="100.4" font-size="9.8" text-anchor="end" >100.0</text>
<path d="M535.8 336.3v-3.0M535.8 203.7v3.0M571.65 336.3v-3.0M571.65 203.7v3.0M607.5 336.3v-3.0M607.5 203.7v3.0M643.35 336.3v-3.0M643.35 203.7v3.0M679.2 336.3v-3.0M679.2 203.7v3.0M715.05 336.3v-3.0M715.05 203.7v3.0" stroke="#000" stroke-width="1.0"/>
<path d="M553.73 336.3v-1.8M553.73 203.7v1.8M589.58 336.3v-1.8M589.58 203.7v1.8M625.43 336.3v-1.8M625.43 203.7v1.8M661.28 336.3v-1.8M661.28 203.7v1.8M697.12 336.3v-1.8M697.12 203.7v1.8" stroke="#000" stroke-width="1.0"/>
<path d="M534.2 336.2h3.0M721.8 336.2h-3.0M534.2 292.1h3.0M721.8 292.1h-3.0M534.2 248h3.0M721.8 248h-3.0M534.2 203.9h3.0M721.8 203.9h-3.0" stroke="#000" stroke-width="1.0"/>
<path d="" stroke="#000" stroke-width="1.0"/>
<text x="535.8" y="349.2" font-size="11.5" text-anchor="middle" >0</text>
<text x="571.65" y="349.2" font-size="11.5" text-anchor="middle" >100</text>
<text x="607.5" y="349.2" font-size="11.5" text-anchor="middle" >200</text>
<text x="643.35" y="349.2" font-size="11.5" text-anchor="middle" >300</text>
<text x="679.2" y="349.2" font-size="11.5" text-anchor="middle" >400</text>
<text x="715.05" y="349.2" font-size="11.5" text-anchor="middle" >500</text>
<text x="530.9" y="339.8" font-size="11.5" text-anchor="end" >99.0</text>
<text x="530.9" y="295.7" font-size="11.5" text-anchor="end" >99.5</text>
<text x="530.9" y="251.6" font-size="11.5" text-anchor="end" >100.0</text>
<text x="530.9" y="207.5" font-size="11.5" text-anchor="end" >100.5</text>
<text x="628" y="369.2" font-size="13.7" text-anchor="middle" >Cycle Number</text>
<text transform="translate(497.4,270.2) rotate(-90)" font-size="13.7" text-anchor="middle">Coulombic Efficiency (%)</text>
<text x="534.4" y="195.8" font-size="14" text-anchor="start" >(f)</text>
<path d="M541.8 293.39V278.65M540.6 293.39h2.4M540.6 278.65h2.4M546.1 282.2V269.56M544.9 282.2h2.4M544.9 269.56h2.4M550.4 274.56V263.48M549.2 274.56h2.4M549.2 263.48h2.4M554.7 269.34V259.42M553.5 269.34h2.4M553.5 259.42h2.4M559 266V256.94M557.8 266h2.4M557.8 256.94h2.4M563.3 263.86V255.43M562.1 263.86h2.4M562.1 255.43h2.4M567.6 262.31V254.35M566.4 262.31h2.4M566.4 254.35h2.4M571.9 261.1V253.49M570.7 261.1h2.4M570.7 253.49h2.4M576.2 260.09V252.74M575 260.09h2.4M575 252.74h2.4M580.5 259.21V252.05M579.3 259.21h2.4M579.3 252.05h2.4M584.8 258.48V251.46M583.6 258.48h2.4M583.6 251.46h2.4M589.1 257.9V250.99M587.9 257.9h2.4M587.9 250.99h2.4M593.4 257.43V250.59M592.2 257.43h2.4M592.2 250.59h2.4M597.7 257V250.22M596.5 257h2.4M596.5 250.22h2.4M602 256.66V249.93M600.8 256.66h2.4M600.8 249.93h2.4M606.3 256.45V249.75M605.1 256.45h2.4M605.1 249.75h2.4M610.6 256.36V249.68M609.4 256.36h2.4M609.4 249.68h2.4M614.9 256.28V249.61M613.7 256.28h2.4M613.7 249.61h2.4M619.2 256.21V249.55M618 256.21h2.4M618 249.55h2.4M623.5 256.14V249.5M622.3 256.14h2.4M622.3 249.5h2.4M627.8 256.07V249.44M626.6 256.07h2.4M626.6 249.44h2.4M632.1 256.01V249.38M630.9 256.01h2.4M630.9 249.38h2.4M636.4 255.96V249.33M635.2 255.96h2.4M635.2 249.33h2.4M640.7 255.91V249.29M639.5 255.91h2.4M639.5 249.29h2.4M645 255.86V249.24M643.8 255.86h2.4M643.8 249.24h2.4M649.3 255.82V249.2M648.1 255.82h2.4M648.1 249.2h2.4M653.6 255.78V249.16M652.4 255.78h2.4M652.4 249.16h2.4M657.9 255.74V249.12M656.7 255.74h2.4M656.7 249.12h2.4M662.2 255.7V249.09M661 255.7h2.4M661 249.09h2.4M666.5 255.67V249.06M665.3 255.67h2.4M665.3 249.06h2.4M670.8 255.64V249.03M669.6 255.64h2.4M669.6 249.03h2.4M675.1 255.62V249M673.9 255.62h2.4M673.9 249h2.4M679.4 255.6V248.98M678.2 255.6h2.4M678.2 248.98h2.4M683.7 255.57V248.96M682.5 255.57h2.4M682.5 248.96h2.4M688 255.56V248.94M686.8 255.56h2.4M686.8 248.94h2.4M692.3 255.54V248.93M691.1 255.54h2.4M691.1 248.93h2.4M696.6 255.53V248.91M695.4 255.53h2.4M695.4 248.91h2.4M700.9 255.52V248.9M699.7 255.52h2.4M699.7 248.9h2.4M705.2 255.51V248.89M704 255.51h2.4M704 248.89h2.4M709.5 255.5V248.89M708.3 255.5h2.4M708.3 248.89h2.4M713.8 255.5V248.88M712.6 255.5h2.4M712.6 248.88h2.4M718.1 255.5V248.88M716.9 255.5h2.4M716.9 248.88h2.4" stroke="#4a4a4a" stroke-width="0.8" fill="none" opacity="1.0"/>
<path d="M543.8 271.33V265.6M542.6 271.33h2.4M542.6 265.6h2.4M552.4 263.53V257.8M551.2 263.53h2.4M551.2 257.8h2.4M561 259.11V253.38M559.8 259.11h2.4M559.8 253.38h2.4M569.6 255.82V250.08M568.4 255.82h2.4M568.4 250.08h2.4M578.2 253.97V248.23M577 253.97h2.4M577 248.23h2.4M586.8 252.56V246.83M585.6 252.56h2.4M585.6 246.83h2.4M595.4 252.31V246.58M594.2 252.31h2.4M594.2 246.58h2.4M604 252.19V246.45M602.8 252.19h2.4M602.8 246.45h2.4M612.6 252.07V246.34M611.4 252.07h2.4M611.4 246.34h2.4M621.2 251.97V246.24M620 251.97h2.4M620 246.24h2.4M629.8 251.88V246.15M628.6 251.88h2.4M628.6 246.15h2.4M638.4 251.81V246.07M637.2 251.81h2.4M637.2 246.07h2.4M647 251.74V246.01M645.8 251.74h2.4M645.8 246.01h2.4M655.6 251.69V245.95M654.4 251.69h2.4M654.4 245.95h2.4M664.2 251.64V245.91M663 251.64h2.4M663 245.91h2.4M672.8 251.61V245.87M671.6 251.61h2.4M671.6 245.87h2.4M681.4 251.58V245.84M680.2 251.58h2.4M680.2 245.84h2.4M690 251.56V245.82M688.8 251.56h2.4M688.8 245.82h2.4M698.6 251.54V245.81M697.4 251.54h2.4M697.4 245.81h2.4M707.2 251.53V245.8M706 251.53h2.4M706 245.8h2.4M715.8 251.53V245.8M714.6 251.53h2.4M714.6 245.8h2.4" stroke="#259025" stroke-width="0.7" fill="none" opacity="0.7"/>
<path d="M539.8 283.42V268.78M538.6 283.42h2.4M538.6 268.78h2.4M548.4 264.9V253.49M547.2 264.9h2.4M547.2 253.49h2.4M557 259.67V250.25M555.8 259.67h2.4M555.8 250.25h2.4M565.6 256.66V248.48M564.4 256.66h2.4M564.4 248.48h2.4M574.2 254.58V247.16M573 254.58h2.4M573 247.16h2.4M582.8 252.62V245.68M581.6 252.62h2.4M581.6 245.68h2.4M591.4 251.74V245.09M590.2 251.74h2.4M590.2 245.09h2.4M600 251.51V245.04M598.8 251.51h2.4M598.8 245.04h2.4M608.6 251.33V244.98M607.4 251.33h2.4M607.4 244.98h2.4M617.2 251.19V244.9M616 251.19h2.4M616 244.9h2.4M625.8 251.08V244.83M624.6 251.08h2.4M624.6 244.83h2.4M634.4 250.98V244.76M633.2 250.98h2.4M633.2 244.76h2.4M643 250.9V244.7M641.8 250.9h2.4M641.8 244.7h2.4M651.6 250.84V244.65M650.4 250.84h2.4M650.4 244.65h2.4M660.2 250.79V244.6M659 250.79h2.4M659 244.6h2.4M668.8 250.74V244.56M667.6 250.74h2.4M667.6 244.56h2.4M677.4 250.71V244.53M676.2 250.71h2.4M676.2 244.53h2.4M686 250.68V244.51M684.8 250.68h2.4M684.8 244.51h2.4M694.6 250.67V244.49M693.4 250.67h2.4M693.4 244.49h2.4M703.2 250.65V244.48M702 250.65h2.4M702 244.48h2.4M711.8 250.65V244.47M710.6 250.65h2.4M710.6 244.47h2.4" stroke="#902590" stroke-width="0.7" fill="none" opacity="0.7"/>
<polyline points="540.46,291.51 540.82,289.49 541.18,287.83 541.54,286.12 541.89,284.72 542.25,284 542.61,282.96 542.97,281.58 543.33,281.56 543.69,281.15 544.05,279.14 544.4,279.09 544.76,279.3 545.12,277.76 545.48,276.79 545.84,276.76 546.2,276.36 546.56,274.36 546.91,272.98 547.27,273.37 547.63,273.24 547.99,271.67 548.35,270.8 548.71,271.14 549.06,269.84 549.42,268.86 549.78,269.43 550.14,269.44 550.5,267.91 550.86,267.51 551.22,266.29 551.57,267.93 551.93,266.95 552.29,266.69 552.65,267.09 553.01,265.08 553.37,264.39 553.73,265.19 554.08,263 554.44,263.2 554.8,263.08 555.16,262.99 555.52,262.23 555.88,263.98 556.23,262 556.59,261.76 556.95,263.6 557.31,261.5 557.67,261.8 558.03,260.67 558.39,261.54 558.74,260.96 559.1,260.45 559.46,261.34 559.82,259.86 560.18,260.31 560.54,259.63 560.9,260.37 561.25,258.8 561.61,259.08 561.97,259.63 562.33,258.78 562.69,258.1 563.05,257.5 563.4,260.34 563.76,258.05 564.12,258.3 564.48,258.67 564.84,259.36 565.2,257.25 565.56,259.36 565.91,257.64 566.27,256.89 566.63,259.34 566.99,258.1 567.35,258.89 567.71,257.42 568.07,256.21 568.42,255.66 568.78,258.93 569.14,257.78 569.5,256.56 569.86,255.7 570.22,256.64 570.57,257.59 570.93,256.58 571.29,256.78 571.65,256.87 572.01,257.26 572.37,256.19 572.73,256.18 573.08,256.46 573.44,256.5 573.8,257.36 574.16,256.59 574.52,255.02 574.88,256.18 575.24,257.21 575.59,254.69 575.95,255.33 576.31,253.87 576.67,255.61 577.03,256 577.39,256.8 577.74,254.29 578.1,253.13 578.46,256.05 578.82,255.83 579.18,254.67 579.54,255.87 579.9,255.31 580.25,255.32 580.61,254.78 580.97,253.93 581.33,254.81 581.69,253.97 582.05,255.09 582.41,254.37 582.76,256.49 583.12,255.83 583.48,253.8 583.84,254.97 584.2,253.88 584.56,253.87 584.91,253.13 585.27,253.53 585.63,253.3 585.99,254.25 586.35,254.72 586.71,254.7 587.07,254.44 587.42,254.97 587.78,254.41 588.14,253.97 588.5,253.63 588.86,254.11 589.22,255.47 589.58,253.8 589.93,253.5 590.29,252.7 590.65,253.11 591.01,254.16 591.37,254.19 591.73,251.74 592.08,252.81 592.44,251.83 592.8,251.53 593.16,254.09 593.52,253 593.88,252.9 594.24,252.77 594.59,252.76 594.95,253.02 595.31,253.01 595.67,254.46 596.03,253.25 596.39,253.73 596.75,252.92 597.1,253.42 597.46,252.43 597.82,252.22 598.18,252.64 598.54,252.6 598.9,252.77 599.25,253.22 599.61,252.94 599.97,253.21 600.33,252.4 600.69,252.71 601.05,252.18 601.41,253.84 601.76,251.87 602.12,253.3 602.48,253.25 602.84,252.76 603.2,253.06 603.56,252.29 603.92,253.04 604.27,253.46 604.63,253.24 604.99,251.33 605.35,252.43 605.71,253.49 606.07,252.44 606.42,253.81 606.78,250.85 607.14,253.76 607.5,251.99 607.86,251.92 608.22,253.68 608.58,252.13 608.93,251.51 609.29,251.97 609.65,252.14 610.01,251.53 610.37,252.22 610.73,252.06 611.09,252.46 611.44,251.79 611.8,253.17 612.16,251.63 612.52,252.77 612.88,253.28 613.24,251.99 613.59,250.81 613.95,251.45 614.31,252.75 614.67,251.67 615.03,252.68 615.39,252.39 615.75,252.19 616.1,254.31 616.46,252.09 616.82,253.16 617.18,252.86 617.54,253.54 617.9,253.58 618.26,253.06 618.61,251.5 618.97,250.75 619.33,252.24 619.69,251.25 620.05,252.44 620.41,253.89 620.76,252.06 621.12,251.8 621.48,252.56 621.84,251.91 622.2,251.67 622.56,252.93 622.92,253.47 623.27,252.35 623.63,252.34 623.99,252.46 624.35,251.27 624.71,250.62 625.07,252.5 625.43,251.51 625.78,251.29 626.14,251.49 626.5,251.19 626.86,252.45 627.22,251.45 627.58,250.31 627.93,251.38 628.29,252.63 628.65,251.55 629.01,250.97 629.37,251.75 629.73,252.57 630.09,250.7 630.44,253.16 630.8,251.61 631.16,252.06 631.52,253.1 631.88,250.97 632.24,251.73 632.6,253.06 632.95,251.5 633.31,252.4 633.67,253.7 634.03,252.62 634.39,251.78 634.75,251.44 635.1,251.85 635.46,251.96 635.82,251.58 636.18,252.17 636.54,250.95 636.9,251.85 637.26,251.72 637.61,251.49 637.97,252.9 638.33,252.59 638.69,250.61 639.05,251.66 639.41,252.2 639.77,251.64 640.12,252.37 640.48,251.69 640.84,252.52 641.2,251.69 641.56,253.32 641.92,250.75 642.27,252.37 642.63,253.31 642.99,252.11 643.35,252.23 643.71,251.77 644.07,252.91 644.43,251.54 644.78,248.7 645.14,253.02 645.5,251.59 645.86,252.15 646.22,251.71 646.58,253.47 646.94,252.88 647.29,251.46 647.65,251.9 648.01,250.42 648.37,252.48 648.73,251.7 649.09,249.28 649.44,252.52 649.8,252.64 650.16,251.87 650.52,251.87 650.88,251.09 651.24,251.71 651.6,252.49 651.95,251.63 652.31,249.49 652.67,250.69 653.03,254.26 653.39,251.93 653.75,252.58 654.11,251.25 654.46,251.95 654.82,250.09 655.18,250.97 655.54,251 655.9,251.62 656.26,251.82 656.61,251.48 656.97,250.63 657.33,251.3 657.69,252.08 658.05,250.64 658.41,251.59 658.77,251.83 659.12,252.46 659.48,252.25 659.84,252.31 660.2,254.21 660.56,250.85 660.92,251.24 661.28,251.93 661.63,250.82 661.99,251.35 662.35,251.41 662.71,253.91 663.07,251.93 663.43,251.26 663.78,250.3 664.14,250.1 664.5,250.46 664.86,252.74 665.22,253.65 665.58,251.21 665.94,251.68 666.29,250.86 666.65,251.81 667.01,251.51 667.37,253.02 667.73,251.3 668.09,252.08 668.45,251.38 668.8,251.28 669.16,251.79 669.52,251.4 669.88,251.69 670.24,251.01 670.6,251.23 670.95,252.16 671.31,252.19 671.67,250.13 672.03,251.76 672.39,250.79 672.75,251.32 673.11,252.16 673.46,252.32 673.82,251.55 674.18,251.43 674.54,251.11 674.9,252.77 675.26,252.17 675.62,251.73 675.97,250.23 676.33,253.72 676.69,251.25 677.05,252.11 677.41,251.26 677.77,252.07 678.12,251.31 678.48,250.25 678.84,251.32 679.2,251.24 679.56,251.3 679.92,252.29 680.28,251.14 680.63,251.8 680.99,252.33 681.35,251.65 681.71,251.82 682.07,250.95 682.43,251.65 682.79,252.08 683.14,250.32 683.5,250.73 683.86,250.49 684.22,251.07 684.58,251.7 684.94,251.97 685.29,251.85 685.65,250.76 686.01,251.5 686.37,252.9 686.73,251.63 687.09,252.84 687.45,251.44 687.8,252.65 688.16,252.7 688.52,251.48 688.88,251.65 689.24,253.05 689.6,250.92 689.96,249.67 690.31,252.89 690.67,249.97 691.03,252.18 691.39,252.01 691.75,251.73 692.11,252.85 692.46,250.43 692.82,251.14 693.18,252.23 693.54,251.81 693.9,252.9 694.26,251.87 694.62,250.74 694.97,253.08 695.33,251.95 695.69,251.43 696.05,250.64 696.41,250.37 696.77,251.96 697.12,252.21 697.48,251.16 697.84,251.88 698.2,251.83 698.56,250.6 698.92,250.06 699.28,251.32 699.63,251.72 699.99,251.05 700.35,253.21 700.71,251.57 701.07,252.48 701.43,249.44 701.79,250.91 702.14,251.42 702.5,251.72 702.86,253.76 703.22,250.92 703.58,250.11 703.94,252.19 704.3,250.94 704.65,250.9 705.01,252.91 705.37,250.71 705.73,250.34 706.09,251.34 706.45,251.59 706.8,250.84 707.16,252.9 707.52,251.45 707.88,250.61 708.24,252.63 708.6,250.66 708.96,251.9 709.31,253.37 709.67,251.63 710.03,252.39 710.39,251.25 710.75,252.57 711.11,250.61 711.47,252.18 711.82,251.22 712.18,252.06 712.54,251.82 712.9,250.48 713.26,251.34 713.62,251.88 713.97,252.63 714.33,250.51 714.69,250.88 715.05,251.82 715.41,251.31 715.77,252.44 716.13,252.42 716.48,252.26 716.84,251.22 717.2,251.27 717.56,252.19 717.92,250.88 718.28,250.84 718.63,251.38 718.99,250.61 719.35,251.78" fill="none" stroke="#000000" stroke-width="2.8" stroke-linejoin="round" stroke-linecap="round" />
<path d="M534.91 327.38a1.25 1.25 0 1 0 2.5 0a1.25 1.25 0 1 0 -2.5 0M535.27 327.38a1.25 1.25 0 1 0 2.5 0a1.25 1.25 0 1 0 -2.5 0M535.63 327.66a1.25 1.25 0 1 0 2.5 0a1.25 1.25 0 1 0 -2.5 0M535.98 328.69a1.25 1.25 0 1 0 2.5 0a1.25 1.25 0 1 0 -2.5 0M536.34 329.02a1.25 1.25 0 1 0 2.5 0a1.25 1.25 0 1 0 -2.5 0M536.7 325.59a1.25 1.25 0 1 0 2.5 0a1.25 1.25 0 1 0 -2.5 0M537.06 320.32a1.25 1.25 0 1 0 2.5 0a1.25 1.25 0 1 0 -2.5 0M537.42 314.33a1.25 1.25 0 1 0 2.5 0a1.25 1.25 0 1 0 -2.5 0M537.78 307.98a1.25 1.25 0 1 0 2.5 0a1.25 1.25 0 1 0 -2.5 0M538.14 302.42a1.25 1.25 0 1 0 2.5 0a1.25 1.25 0 1 0 -2.5 0M538.49 297.9a1.25 1.25 0 1 0 2.5 0a1.25 1.25 0 1 0 -2.5 0M538.85 294.51a1.25 1.25 0 1 0 2.5 0a1.25 1.25 0 1 0 -2.5 0M539.21 291.69a1.25 1.25 0 1 0 2.5 0a1.25 1.25 0 1 0 -2.5 0" fill="#000000"/>
<polyline points="536.16,291.23 536.52,292.29 536.88,289 537.23,294.62 537.59,289.58 537.95,286.75 538.31,283.49 538.67,282.23 539.03,280.62 539.39,278.32 539.74,276.58 540.1,275.45 540.46,274.02 540.82,272.35 541.18,271.24 541.54,270.97 541.89,270.01 542.25,270.34 542.61,266.66 542.97,267.62 543.33,265.33 543.69,265.57 544.05,263.06 544.4,262.78 544.76,263.68 545.12,261.4 545.48,264.38 545.84,260.41 546.2,264.26 546.56,260.89 546.91,259.32 547.27,260.27 547.63,260.87 547.99,261.25 548.35,260.22 548.71,257.74 549.06,257.73 549.42,259.32 549.78,260.66 550.14,257.4 550.5,260.57 550.86,258.91 551.22,259.05 551.57,256.52 551.93,257.15 552.29,256.62 552.65,256.75 553.01,258.09 553.37,256.01 553.73,254.45 554.08,256.6 554.44,255.38 554.8,256.44 555.16,254.46 555.52,260.78 555.88,257.8 556.23,257.07 556.59,254.06 556.95,256.63 557.31,256.19 557.67,256.32 558.03,254.08 558.39,255.92 558.74,255.84 559.1,253.55 559.46,252.75 559.82,253.57 560.18,258.64 560.54,255.79 560.9,255.88 561.25,255.99 561.61,254.62 561.97,251 562.33,254.28 562.69,254.86 563.05,252.5 563.4,253.41 563.76,253.24 564.12,254.44 564.48,253.26 564.84,252.49 565.2,256.13 565.56,255.57 565.91,251.22 566.27,251.52 566.63,253.59 566.99,254.33 567.35,252.93 567.71,254.46 568.07,253.03 568.42,249.79 568.78,252.13 569.14,250.42 569.5,252.56 569.86,251.55 570.22,249.87 570.57,254.12 570.93,252.48 571.29,252.11 571.65,251.35 572.01,249.26 572.37,250.57 572.73,253.97 573.08,251.96 573.44,252.88 573.8,258.02 574.16,251.07 574.52,254.64 574.88,251.78 575.24,252.8 575.59,249.99 575.95,250.58 576.31,250.68 576.67,250.93 577.03,248.93 577.39,252.14 577.74,251.74 578.1,252.28 578.46,248.31 578.82,250.82 579.18,251.93 579.54,250.88 579.9,246.17 580.25,250.24 580.61,248.65 580.97,249.19 581.33,249.88 581.69,250.89 582.05,250.25 582.41,250.22 582.76,253.1 583.12,245.42 583.48,248.01 583.84,249.23 584.2,249.69 584.56,250.57 584.91,247.75 585.27,249.51 585.63,248.41 585.99,251.33 586.35,248.49 586.71,245.88 587.07,249.48 587.42,247.72 587.78,248.9 588.14,247.18 588.5,247.22 588.86,248.8 589.22,249.78 589.58,248.43 589.93,248.81 590.29,249.85 590.65,248.14 591.01,248.17 591.37,250.26 591.73,249.02 592.08,248.74 592.44,250.14 592.8,250.17 593.16,245.69 593.52,250.03 593.88,253.03 594.24,251.99 594.59,251.21 594.95,248.38 595.31,247.24 595.67,252.23 596.03,247 596.39,250.72 596.75,248.36 597.1,248.02 597.46,248.07 597.82,248.74 598.18,248.47 598.54,250.55 598.9,248.29 599.25,247.17 599.61,247.25 599.97,244.57 600.33,246.99 600.69,247.55 601.05,246.06 601.41,248.31 601.76,250.74 602.12,252.24 602.48,246.65 602.84,247.77 603.2,247.32 603.56,249.19 603.92,248.11 604.27,245.67 604.63,248.12 604.99,250.42 605.35,249.32 605.71,246.44 606.07,250.36 606.42,252.72 606.78,252.26 607.14,250.74 607.5,247.34 607.86,248.47 608.22,249.8 608.58,250.64 608.93,248.77 609.29,248.84 609.65,249.48 610.01,255.92 610.37,253.77 610.73,247.99 611.09,253.63 611.44,249.12 611.8,250.6 612.16,247.68 612.52,248.92 612.88,247.96 613.24,247.69 613.59,248.21 613.95,246.95 614.31,250.73 614.67,247.01 615.03,248.86 615.39,247.91 615.75,246.03 616.1,246.72 616.46,245.35 616.82,252.07 617.18,250.01 617.54,246.95 617.9,250.28 618.26,248.77 618.61,245.76 618.97,247.08 619.33,249.99 619.69,247.74 620.05,247.43 620.41,248.35 620.76,248.61 621.12,248.22 621.48,250.82 621.84,248.24 622.2,249.97 622.56,247.8 622.92,247.74 623.27,249.84 623.63,247.44 623.99,247.85 624.35,248.48 624.71,247.25 625.07,248.9 625.43,248.85 625.78,248.27 626.14,248.49 626.5,246.57 626.86,252.15 627.22,248.87 627.58,251.58 627.93,249.21 628.29,254.11 628.65,251.91 629.01,248.88 629.37,249.06 629.73,253.43 630.09,250.57 630.44,246.16 630.8,245.94 631.16,248.26 631.52,250.88 631.88,244.97 632.24,251.75 632.6,247.93 632.95,248.5 633.31,248.04 633.67,250.29 634.03,249.07 634.39,246.72 634.75,249.21 635.1,250.63 635.46,248.46 635.82,248.29 636.18,248.65 636.54,249.69 636.9,247.57 637.26,248.63 637.61,250.29 637.97,248.07 638.33,248.47 638.69,248.18 639.05,251.12 639.41,249.63 639.77,247.68 640.12,246.91 640.48,247.84 640.84,248.13 641.2,247.21 641.56,246.79 641.92,245.54 642.27,247.59 642.63,249.23 642.99,247.56 643.35,251.41 643.71,248.21 644.07,248.99 644.43,248.31 644.78,247.49 645.14,248.18 645.5,250.56 645.86,248.82 646.22,249.52 646.58,253.64 646.94,250.74 647.29,251.53 647.65,248.08 648.01,246.74 648.37,248.98 648.73,247.25 649.09,250.57 649.44,249.07 649.8,246.68 650.16,251.01 650.52,249 650.88,249.62 651.24,246.37 651.6,246.37 651.95,249.18 652.31,247.99 652.67,252.33 653.03,246.83 653.39,247.63 653.75,246.07 654.11,251.97 654.46,247.62 654.82,248.73 655.18,252.32 655.54,249.27 655.9,248.3 656.26,246.89 656.61,247.85 656.97,248.98 657.33,247.45 657.69,248.33 658.05,249.19 658.41,249.77 658.77,247.92 659.12,247.9 659.48,245.22 659.84,248.86 660.2,245.6 660.56,247.58 660.92,246.27 661.28,249.57 661.63,249.52 661.99,248.62 662.35,246.71 662.71,247.85 663.07,246.93 663.43,247.62 663.78,246.49 664.14,247.8 664.5,248.95 664.86,252.01 665.22,250.67 665.58,246.89 665.94,249.25 666.29,248.44 666.65,248.88 667.01,246.43 667.37,246.71 667.73,247.07 668.09,250.08 668.45,250.5 668.8,247.67 669.16,246.95 669.52,245.74 669.88,250.94 670.24,248.36 670.6,250.77 670.95,249.61 671.31,248.44 671.67,246.55 672.03,248.92 672.39,249.22 672.75,248.59 673.11,246.08 673.46,244.24 673.82,250.52 674.18,248.51 674.54,248.76 674.9,246.22 675.26,247.38 675.62,245.62 675.97,249.67 676.33,248.04 676.69,248.79 677.05,249.8 677.41,248.31 677.77,249.94 678.12,244.61 678.48,247.4 678.84,249.67 679.2,249.02 679.56,245.3 679.92,248.81 680.28,246.95 680.63,247.13 680.99,246.32 681.35,247.04 681.71,248.38 682.07,248.99 682.43,250.87 682.79,248.12 683.14,251.97 683.5,250.99 683.86,249.64 684.22,250.75 684.58,245.04 684.94,249.09 685.29,249.83 685.65,248.99 686.01,248.31 686.37,246.86 686.73,251.89 687.09,247.22 687.45,249.01 687.8,248.32 688.16,246.42 688.52,246.81 688.88,249.11 689.24,248.18 689.6,245.05 689.96,245.86 690.31,246.65 690.67,248.01 691.03,246.49 691.39,247.39 691.75,248.89 692.11,249.61 692.46,247.19 692.82,247.41 693.18,246.1 693.54,248.78 693.9,245.79 694.26,248.59 694.62,246.02 694.97,247.15 695.33,248.93 695.69,249.52 696.05,248.2 696.41,248.43 696.77,246.52 697.12,249.11 697.48,250.36 697.84,248.04 698.2,244.96 698.56,245.41 698.92,248.99 699.28,248.44 699.63,247.5 699.99,249.06 700.35,248.4 700.71,248.44 701.07,256.02 701.43,252.63 701.79,250.86 702.14,248.83 702.5,250.57 702.86,248.23 703.22,249.79 703.58,249.29 703.94,249.79 704.3,241.63 704.65,246.01 705.01,245.87 705.37,246.71 705.73,248.37 706.09,247.89 706.45,247.54 706.8,247.29 707.16,247.06 707.52,245.58 707.88,252.7 708.24,248.88 708.6,246.92 708.96,248.57 709.31,248.25 709.67,245.63 710.03,247.69 710.39,245.17 710.75,248.07 711.11,247.62 711.47,249.69 711.82,251.15 712.18,248.66 712.54,247.9 712.9,248.55 713.26,250.14 713.62,246.96 713.97,247.89 714.33,247.98 714.69,249.23 715.05,245.38 715.41,245.65 715.77,247.51 716.13,248.18 716.48,247.6 716.84,245.3 717.2,243.54 717.56,247.98 717.92,248.68 718.28,250.88 718.63,243.56 718.99,249.75 719.35,246.61" fill="none" stroke="#800080" stroke-width="3.0" stroke-linejoin="round" stroke-linecap="round" />
<polyline points="536.16,287.69 536.52,287.33 536.88,287.43 537.23,294.66 537.59,290.28 537.95,288.16 538.31,285.39 538.67,283.38 539.03,281 539.39,278.97 539.74,277.9 540.1,276.73 540.46,276.59 540.82,274.95 541.18,274.45 541.54,272.4 541.89,271.92 542.25,271.04 542.61,270.87 542.97,269.71 543.33,268.99 543.69,269.15 544.05,268.72 544.4,267.83 544.76,267.78 545.12,267.29 545.48,266.5 545.84,266.56 546.2,264.41 546.56,266.7 546.91,263.55 547.27,264.85 547.63,264.44 547.99,265.06 548.35,263.39 548.71,263.23 549.06,262.47 549.42,263.05 549.78,262.1 550.14,259.9 550.5,261.31 550.86,262.24 551.22,260.31 551.57,261.38 551.93,260.39 552.29,260.22 552.65,261.24 553.01,262.89 553.37,260.96 553.73,259.81 554.08,260.77 554.44,259.73 554.8,259 555.16,260.63 555.52,265.09 555.88,261.7 556.23,260.56 556.59,259.38 556.95,258.75 557.31,256.92 557.67,258.91 558.03,258.65 558.39,257.72 558.74,259.2 559.1,259.67 559.46,258.63 559.82,256.92 560.18,256.54 560.54,258.57 560.9,258.7 561.25,256.65 561.61,256.25 561.97,255.86 562.33,254.82 562.69,253.98 563.05,254.95 563.4,254.35 563.76,256.17 564.12,256.13 564.48,254.38 564.84,253.76 565.2,253.57 565.56,253.61 565.91,253.27 566.27,253.13 566.63,255.96 566.99,254.69 567.35,253.23 567.71,252.97 568.07,255.29 568.42,252.12 568.78,253.87 569.14,253.55 569.5,252.88 569.86,252.25 570.22,254.67 570.57,251.81 570.93,252.78 571.29,253.67 571.65,253.03 572.01,255.14 572.37,253.3 572.73,252.28 573.08,253.22 573.44,252.71 573.8,258.24 574.16,255.46 574.52,252.85 574.88,253.16 575.24,252.88 575.59,251.62 575.95,249.63 576.31,252.12 576.67,251.06 577.03,253.38 577.39,249.95 577.74,250.66 578.1,249.81 578.46,251.33 578.82,252.39 579.18,250.1 579.54,250.18 579.9,251.97 580.25,252.59 580.61,250.32 580.97,250.96 581.33,247.7 581.69,251.33 582.05,251.17 582.41,250.63 582.76,252.35 583.12,251.4 583.48,248.44 583.84,250.42 584.2,250.92 584.56,251.63 584.91,249.46 585.27,249.32 585.63,249.74 585.99,250.44 586.35,249.61 586.71,249.49 587.07,250.67 587.42,249.15 587.78,252.26 588.14,251.3 588.5,250.15 588.86,249.91 589.22,251.11 589.58,249.39 589.93,248.55 590.29,249.23 590.65,249.49 591.01,248.79 591.37,249.27 591.73,251.04 592.08,255.06 592.44,251.17 592.8,252.7 593.16,250.6 593.52,250.7 593.88,251.04 594.24,251.03 594.59,249.57 594.95,249.31 595.31,249.32 595.67,251.32 596.03,249.99 596.39,249.26 596.75,248.56 597.1,248.87 597.46,248.68 597.82,248.37 598.18,248.68 598.54,250.55 598.9,249.55 599.25,250.43 599.61,252.33 599.97,251.53 600.33,247.2 600.69,250.87 601.05,252.15 601.41,250.25 601.76,247.83 602.12,249.62 602.48,249.09 602.84,249.87 603.2,249.65 603.56,248.09 603.92,248.63 604.27,249.64 604.63,248.51 604.99,248.29 605.35,249.77 605.71,249.21 606.07,249.22 606.42,250.27 606.78,248.18 607.14,249.69 607.5,250.2 607.86,251.41 608.22,250.93 608.58,247.73 608.93,250.78 609.29,248.98 609.65,249.88 610.01,256.69 610.37,253.25 610.73,252.91 611.09,251.26 611.44,250.17 611.8,249.79 612.16,249.74 612.52,249.79 612.88,248.7 613.24,247.91 613.59,248.79 613.95,250.26 614.31,248.95 614.67,249.33 615.03,248.87 615.39,247.28 615.75,249.63 616.1,249.4 616.46,250.4 616.82,249.71 617.18,250.02 617.54,247.53 617.9,249.01 618.26,250.01 618.61,247.14 618.97,250.87 619.33,248.36 619.69,248.18 620.05,248.68 620.41,249.63 620.76,249.48 621.12,249.72 621.48,248.42 621.84,251.99 622.2,249.9 622.56,249.14 622.92,249.97 623.27,251.39 623.63,249.58 623.99,250.16 624.35,248.37 624.71,247.69 625.07,249.21 625.43,251.5 625.78,249.5 626.14,250.33 626.5,248.49 626.86,247.33 627.22,248.9 627.58,246.93 627.93,247.52 628.29,255.33 628.65,254.18 629.01,251.27 629.37,252.08 629.73,248.66 630.09,249.39 630.44,247.76 630.8,248.75 631.16,251.29 631.52,248.32 631.88,247.99 632.24,247.14 632.6,250.16 632.95,250.1 633.31,248.96 633.67,250.24 634.03,250.61 634.39,250.29 634.75,246.06 635.1,249.76 635.46,250.21 635.82,249.56 636.18,249.05 636.54,247.57 636.9,247.97 637.26,248.15 637.61,249 637.97,248.87 638.33,249.78 638.69,250.77 639.05,246.7 639.41,249.56 639.77,247.87 640.12,249.4 640.48,249.14 640.84,249.21 641.2,250.61 641.56,249.12 641.92,248.59 642.27,248.07 642.63,248.46 642.99,247.85 643.35,248.68 643.71,249.02 644.07,251.27 644.43,249.63 644.78,247.23 645.14,248.87 645.5,248.1 645.86,249.25 646.22,249.78 646.58,252.69 646.94,252.05 647.29,249.27 647.65,249.53 648.01,249.99 648.37,251.94 648.73,249.1 649.09,250.78 649.44,251.53 649.8,247.56 650.16,248.15 650.52,248.24 650.88,248.92 651.24,249.02 651.6,248.49 651.95,248.79 652.31,248.89 652.67,248.12 653.03,251.79 653.39,247.94 653.75,249.69 654.11,247.98 654.46,247.62 654.82,249.93 655.18,248.06 655.54,248.07 655.9,249.79 656.26,249.6 656.61,248.87 656.97,251.56 657.33,249.52 657.69,248.8 658.05,249.52 658.41,250.85 658.77,249.46 659.12,247.27 659.48,247.49 659.84,249.15 660.2,249.93 660.56,249.02 660.92,248.99 661.28,249.78 661.63,249.39 661.99,248.29 662.35,247.93 662.71,251.8 663.07,247.88 663.43,248.84 663.78,247.67 664.14,249.01 664.5,248.49 664.86,252.41 665.22,255.44 665.58,248.91 665.94,249.77 666.29,251.65 666.65,252.37 667.01,248.81 667.37,250.16 667.73,247.83 668.09,248.73 668.45,249.13 668.8,247.83 669.16,248.75 669.52,248.12 669.88,248.01 670.24,248.6 670.6,248.06 670.95,248.06 671.31,250.53 671.67,249.28 672.03,249.1 672.39,249.39 672.75,250.78 673.11,249.61 673.46,248.57 673.82,248.73 674.18,247.21 674.54,249.65 674.9,249.45 675.26,249.61 675.62,249.31 675.97,249.64 676.33,251.09 676.69,248.55 677.05,247.81 677.41,247.66 677.77,250.19 678.12,249.16 678.48,246.82 678.84,249.06 679.2,248.54 679.56,249.11 679.92,247.78 680.28,247.82 680.63,246.26 680.99,248.36 681.35,248.42 681.71,250.32 682.07,249.4 682.43,249.73 682.79,249.3 683.14,255.09 683.5,250.21 683.86,251.67 684.22,249.49 684.58,250.87 684.94,248.81 685.29,247.19 685.65,249.86 686.01,248.5 686.37,249 686.73,248.59 687.09,248.43 687.45,249.64 687.8,249.12 688.16,249.59 688.52,249.86 688.88,250.32 689.24,247.81 689.6,249.76 689.96,248.15 690.31,248.27 690.67,250.05 691.03,247.71 691.39,249.89 691.75,248.19 692.11,247.23 692.46,249.73 692.82,249.97 693.18,249.99 693.54,246.27 693.9,249.33 694.26,250.35 694.62,247.97 694.97,249.11 695.33,248.94 695.69,250.05 696.05,251.46 696.41,249.74 696.77,250.11 697.12,250.77 697.48,250.15 697.84,250 698.2,247.99 698.56,248.1 698.92,248.32 699.28,249.52 699.63,250.35 699.99,248.57 700.35,248.38 700.71,247.76 701.07,256.08 701.43,253.15 701.79,250.9 702.14,251.32 702.5,250.6 702.86,248.61 703.22,250.6 703.58,248.99 703.94,248 704.3,248.63 704.65,248.4 705.01,250.17 705.37,249.04 705.73,249.2 706.09,248.2 706.45,248.41 706.8,248.85 707.16,246.7 707.52,248.26 707.88,249.21 708.24,249.58 708.6,248.91 708.96,249.53 709.31,246.99 709.67,248.21 710.03,249.22 710.39,249.61 710.75,250.09 711.11,249.18 711.47,247.36 711.82,247.89 712.18,248.92 712.54,248.69 712.9,250.99 713.26,247.98 713.62,249.1 713.97,247.27 714.33,249.05 714.69,249.4 715.05,248.6 715.41,249.58 715.77,247.3 716.13,248.51 716.48,248.42 716.84,248.45 717.2,249.24 717.56,248.28 717.92,248.63 718.28,246.82 718.63,248.76 718.99,248.4 719.35,249.35" fill="none" stroke="#008000" stroke-width="3.0" stroke-linejoin="round" stroke-linecap="round" />
<path d="M553.8 262.11a1.6 1.6 0 1 0 3.2 0a1.6 1.6 0 1 0 -3.2 0M572 262.11a1.6 1.6 0 1 0 3.2 0a1.6 1.6 0 1 0 -3.2 0M590.2 262.11a1.6 1.6 0 1 0 3.2 0a1.6 1.6 0 1 0 -3.2 0M608.4 262.11a1.6 1.6 0 1 0 3.2 0a1.6 1.6 0 1 0 -3.2 0M626.6 262.11a1.6 1.6 0 1 0 3.2 0a1.6 1.6 0 1 0 -3.2 0M644.8 262.11a1.6 1.6 0 1 0 3.2 0a1.6 1.6 0 1 0 -3.2 0M663 262.11a1.6 1.6 0 1 0 3.2 0a1.6 1.6 0 1 0 -3.2 0M681.2 262.11a1.6 1.6 0 1 0 3.2 0a1.6 1.6 0 1 0 -3.2 0M699.4 262.11a1.6 1.6 0 1 0 3.2 0a1.6 1.6 0 1 0 -3.2 0" fill="#000000"/>
<path d="M646.4 268.29V254.17M645.1 268.29h2.6M645.1 254.17h2.6" stroke="#333" stroke-width="0.9" fill="none" opacity="1.0"/>
<circle cx="646.2" cy="212.5" r="2.3" fill="#000000"/>
<text x="658.2" y="215.4" font-size="8.2" text-anchor="start" >Uncoated</text>
<circle cx="646.2" cy="223.7" r="2.3" fill="#008000"/>
<text x="658.2" y="226.6" font-size="8.2" text-anchor="start" >11 µg/cm<tspan font-size="5.6" dy="-3.2">2</tspan><tspan dy="3.2"> Ni</tspan></text>
<circle cx="646.2" cy="234.9" r="2.3" fill="#800080"/>
<text x="658.2" y="237.8" font-size="8.2" text-anchor="start" >11 µg/cm<tspan font-size="5.6" dy="-3.2">2</tspan><tspan dy="3.2"> Cu</tspan></text>
<rect x="590.4" y="276" width="121.9" height="46.1" fill="#fff"/>
<clipPath id="icf"><rect x="590.4" y="276" width="121.9" height="46.1"/></clipPath>
<g clip-path="url(#icf)">
<path d="M600 314.65V311.57M598.5 314.65h3M598.5 311.57h3M612 300.46V297.38M610.5 300.46h3M610.5 297.38h3M626.5 296.21V293.13M625 296.21h3M625 293.13h3M640 293.45V290.37M638.5 293.45h3M638.5 290.37h3M664 290.53V287.45M662.5 290.53h3M662.5 287.45h3M686 289.24V286.16M684.5 289.24h3M684.5 286.16h3M706 288.51V285.43M704.5 288.51h3M704.5 285.43h3" stroke="#4a4a4a" stroke-width="0.7" fill="none" opacity="1.0"/>
<polyline points="594.44,318.1 595.04,318.2 595.65,318.13 596.25,318.51 596.86,318.24 597.47,317.64 598.07,317.2 598.68,315.48 599.28,314.71 599.89,312.87 600.5,311.78 601.1,310.63 601.71,309.13 602.31,307.9 602.92,306.68 603.53,305.35 604.13,304.66 604.74,303.63 605.34,303.15 605.95,302.69 606.56,302.42 607.16,301.91 607.77,301.05 608.37,300.54 608.98,300 609.59,300.15 610.19,299.69 610.8,299.62 611.4,299.27 612.01,299.44 612.62,298.5 613.22,298.61 613.83,298.24 614.43,297.91 615.04,297.74 615.65,297.92 616.25,297.08 616.86,297.07 617.46,296.95 618.07,297.04 618.68,297.08 619.28,296.91 619.89,296.41 620.49,296.16 621.1,296.19 621.71,295.45 622.31,295.64 622.92,295.32 623.52,295.19 624.13,295.49 624.74,294.87 625.34,294.84 625.95,295.1 626.55,294.49 627.16,294.27 627.77,294.16 628.37,294.01 628.98,294.44 629.58,294.04 630.19,293.98 630.8,293.72 631.4,293.58 632.01,293.22 632.61,293.18 633.22,293.42 633.83,292.9 634.43,292.61 635.04,292.79 635.64,293.09 636.25,292.77 636.86,292.55 637.46,292.76 638.07,292.31 638.67,292.45 639.28,291.86 639.89,291.78 640.49,291.84 641.1,292.01 641.7,291.54 642.31,291.65 642.92,291.56 643.52,291.05 644.13,291.38 644.73,291.43 645.34,290.83 645.95,290.51 646.55,290.46 647.16,290.57 647.76,290.18 648.37,290.67 648.98,290 649.58,289.95 650.19,290.44 650.79,290.19 651.4,290.52" fill="none" stroke="#000000" stroke-width="3.0" stroke-linejoin="round" stroke-linecap="round" />
<polyline points="655.04,290.06 655.64,289.63 656.25,289.97 656.85,291.51 657.46,290.93 658.07,290.59 658.67,290.07 659.28,289.59 659.88,289.78 660.49,289.42 661.1,289.16 661.7,289.49 662.31,289.44 662.91,289.76 663.52,289.01 664.13,288.8 664.73,288.87 665.34,288.43 665.94,288.5 666.55,288.61 667.16,288.76 667.76,288.91 668.37,288.63 668.97,288.49 669.58,288.58 670.19,288.59 670.79,288.57 671.4,288.28 672,288.8 672.61,288.44 673.22,288.31 673.82,288.13 674.43,288.1 675.03,288.28 675.64,288.33 676.25,288.43 676.85,287.86 677.46,287.96 678.06,288.02 678.67,288.2 679.28,288.26 679.88,287.7 680.49,287.95 681.09,287.8 681.7,287.47 682.31,288.21 682.91,288.01 683.52,287.71 684.12,287.63 684.73,287.99 685.34,287.74 685.94,287.83 686.55,287.8 687.15,287.55 687.76,287.57 688.37,287.32 688.97,287.42 689.58,287.19 690.18,287.7 690.79,287.4 691.4,287.8 692,287.83 692.61,287.75 693.21,287.24 693.82,287.33 694.43,287.73 695.03,287.03 695.64,287.09 696.24,287.33 696.85,287.33 697.46,287.25 698.06,287.51 698.67,286.66 699.27,287.29 699.88,287.21 700.49,287.22 701.09,287.28 701.7,287.32 702.3,287.01 702.91,287.35 703.52,287.29 704.12,287.22 704.73,286.82 705.33,287.22 705.94,287.2 706.55,286.88 707.15,287.2 707.76,286.99 708.36,286.69 708.97,286.79 709.58,286.86 710.18,286.49 710.79,286.93 711.39,286.95 712,287.2 712.61,286.77" fill="none" stroke="#000000" stroke-width="3.0" stroke-linejoin="round" stroke-linecap="round" />
<polyline points="594.44,300.95 595.04,300.93 595.65,300.01 596.25,299.87 596.86,299.54 597.47,299.67 598.07,298.97 598.68,298.59 599.28,298.79 599.89,297.98 600.5,297.69 601.1,297.7 601.71,296.84 602.31,296.13 602.92,296.08 603.53,296.11 604.13,295.63 604.74,294.98 605.34,295.11 605.95,294.52 606.56,294.3 607.16,293.99 607.77,293.4 608.37,293.9 608.98,293.05 609.59,293.04 610.19,292.91 610.8,293.07 611.4,292.42 612.01,292.4 612.62,292.81 613.22,292.27 613.83,292.07 614.43,291.86 615.04,291.61 615.65,291.51 616.25,290.81 616.86,290.77 617.46,290.89 618.07,290.41 618.68,290.09 619.28,290.33 619.89,290.61 620.49,290.08 621.1,289.7 621.71,290.13 622.31,289.77 622.92,289.43 623.52,289.25 624.13,289.21 624.74,289.2 625.34,289.21 625.95,289.2 626.55,288.73 627.16,288.65 627.77,288.88 628.37,288.84 628.98,288.3 629.58,288.28 630.19,288.61 630.8,288.75 631.4,288.27 632.01,288.04 632.61,287.94 633.22,287.91 633.83,288.4 634.43,287.97 635.04,288.01 635.64,288.04 636.25,287.2 636.86,287.76 637.46,287.65 638.07,287.73 638.67,287.46 639.28,287.3 639.89,287.59 640.49,287.49 641.1,287.54 641.7,287.63 642.31,287.4 642.92,287.24 643.52,287.27 644.13,287.29 644.73,287.63 645.34,287.08 645.95,287.08 646.55,286.73 647.16,287.2 647.76,287.33 648.37,287.42 648.98,287.09 649.58,286.92 650.19,286.81 650.79,287.2 651.4,286.93" fill="none" stroke="#800080" stroke-width="3.0" stroke-linejoin="round" stroke-linecap="round" />
<polyline points="655.04,286.37 655.64,286.56 656.25,286.62 656.85,288.91 657.46,288.59 658.07,288.1 658.67,287.54 659.28,286.87 659.88,286.67 660.49,286.8 661.1,286.49 661.7,286.43 662.31,286.17 662.91,286.52 663.52,286.24 664.13,286.02 664.73,286.49 665.34,286.17 665.94,286.06 666.55,285.99 667.16,285.93 667.76,285.88 668.37,285.76 668.97,285.64 669.58,285.85 670.19,285.4 670.79,285.99 671.4,285.9 672,285.76 672.61,285.99 673.22,286.13 673.82,286.07 674.43,285.47 675.03,285.87 675.64,286.01 676.25,285.24 676.85,285.57 677.46,285.59 678.06,285.83 678.67,285.53 679.28,285.69 679.88,285.49 680.49,285.53 681.09,285.56 681.7,285.44 682.31,285.68 682.91,285.55 683.52,285.61 684.12,285.32 684.73,285.23 685.34,285.19 685.94,285.8 686.55,284.94 687.15,285.37 687.76,285.33 688.37,285.29 688.97,285.28 689.58,284.96 690.18,285.2 690.79,285.14 691.4,284.98 692,284.87 692.61,285.39 693.21,285.42 693.82,285.57 694.43,285.55 695.03,285.02 695.64,285.05 696.24,285.07 696.85,284.96 697.46,284.95 698.06,284.73 698.67,284.6 699.27,285.16 699.88,284.61 700.49,284.7 701.09,285.11 701.7,284.87 702.3,284.99 702.91,285.27 703.52,284.85 704.12,285.22 704.73,284.82 705.33,285.06 705.94,284.88 706.55,284.6 707.15,284.74 707.76,284.94 708.36,284.69 708.97,284.57 709.58,284.49 710.18,284.89 710.79,284.42 711.39,284.71 712,284.78 712.61,284.37" fill="none" stroke="#800080" stroke-width="3.0" stroke-linejoin="round" stroke-linecap="round" />
<polyline points="594.44,300.18 595.04,300.13 595.65,300.15 596.25,300.44 596.86,299.7 597.47,299.42 598.07,299.29 598.68,298.55 599.28,298.57 599.89,297.85 600.5,297.61 601.1,297.68 601.71,297.37 602.31,296.92 602.92,296.55 603.53,296.11 604.13,296.18 604.74,296.06 605.34,295.11 605.95,295.38 606.56,295.12 607.16,294.57 607.77,294.75 608.37,295.11 608.98,294.27 609.59,294.33 610.19,293.76 610.8,294.22 611.4,293.59 612.01,293.27 612.62,292.95 613.22,292.89 613.83,292.74 614.43,292.8 615.04,292.65 615.65,292.73 616.25,292.14 616.86,291.87 617.46,291.95 618.07,292.17 618.68,292.16 619.28,291.84 619.89,291.23 620.49,291.44 621.1,291.58 621.71,291.33 622.31,290.95 622.92,291.18 623.52,291.03 624.13,290.94 624.74,290.92 625.34,290.18 625.95,290.71 626.55,290.37 627.16,290.08 627.77,290.29 628.37,290.27 628.98,290.14 629.58,290.03 630.19,290 630.8,289.99 631.4,289.91 632.01,289.73 632.61,289.28 633.22,289.72 633.83,289.38 634.43,289.55 635.04,289.67 635.64,289.66 636.25,289.26 636.86,289.58 637.46,289.13 638.07,289.26 638.67,288.75 639.28,289.33 639.89,288.79 640.49,288.68 641.1,288.76 641.7,289.03 642.31,288.79 642.92,288.8 643.52,288.83 644.13,288.55 644.73,288.74 645.34,288.63 645.95,288.4 646.55,288.65 647.16,288.68 647.76,288.52 648.37,288.65 648.98,289.04 649.58,288.6 650.19,288.5 650.79,288.71 651.4,288.84" fill="none" stroke="#008000" stroke-width="3.0" stroke-linejoin="round" stroke-linecap="round" />
<polyline points="655.04,288.17 655.64,288.4 656.25,288.08 656.85,290.79 657.46,289.86 658.07,289.56 658.67,289.07 659.28,288.66 659.88,288.8 660.49,288.27 661.1,288.09 661.7,288.65 662.31,288.37 662.91,288 663.52,287.56 664.13,287.95 664.73,288.1 665.34,288.1 665.94,287.6 666.55,287.56 667.16,287.7 667.76,287.42 668.37,287.52 668.97,287.11 669.58,287.63 670.19,287.36 670.79,286.94 671.4,287.28 672,287.27 672.61,287.08 673.22,286.53 673.82,286.83 674.43,286.51 675.03,286.99 675.64,286.76 676.25,286.5 676.85,286.55 677.46,286.68 678.06,287.01 678.67,286.33 679.28,286.23 679.88,286.24 680.49,286.69 681.09,286.59 681.7,286.35 682.31,286.42 682.91,285.9 683.52,286.36 684.12,286.15 684.73,286.3 685.34,286.42 685.94,285.76 686.55,285.92 687.15,286.09 687.76,285.9 688.37,286.38 688.97,285.49 689.58,286.06 690.18,286.23 690.79,286.01 691.4,285.69 692,285.72 692.61,285.54 693.21,285.51 693.82,285.64 694.43,285.39 695.03,286.02 695.64,285.47 696.24,285.45 696.85,285.45 697.46,285.55 698.06,285.61 698.67,285.61 699.27,285.84 699.88,285.54 700.49,285.16 701.09,285.05 701.7,285.48 702.3,285.47 702.91,285.44 703.52,285.34 704.12,285.29 704.73,285.16 705.33,284.92 705.94,285.7 706.55,285.46 707.15,285.31 707.76,285.19 708.36,285.07 708.97,284.74 709.58,285.34 710.18,284.96 710.79,285.11 711.39,285.06 712,284.99 712.61,284.84" fill="none" stroke="#008000" stroke-width="3.0" stroke-linejoin="round" stroke-linecap="round" />
</g>
<rect x="590.4" y="276" width="121.9" height="46.1" fill="none" stroke="#000" stroke-width="1.3"/>
<path d="M590.8 322.1v-2.5M590.8 276v2.5M651.4 322.1v-2.5M651.4 276v2.5M712 322.1v-2.5M712 276v2.5" stroke="#000" stroke-width="1.0"/>
<path d="M621.1 322.1v-1.5M621.1 276v1.5M681.7 322.1v-1.5M681.7 276v1.5" stroke="#000" stroke-width="1.0"/>
<path d="M590.4 321.5h2.5M712.3 321.5h-2.5M590.4 302.25h2.5M712.3 302.25h-2.5M590.4 283h2.5M712.3 283h-2.5" stroke="#000" stroke-width="1.0"/>
<path d="M590.4 311.88h1.5M712.3 311.88h-1.5M590.4 292.62h1.5M712.3 292.62h-1.5" stroke="#000" stroke-width="1.0"/>
<text x="590.8" y="332.9" font-size="10" text-anchor="middle" >0</text>
<text x="651.4" y="332.9" font-size="10" text-anchor="middle" >50</text>
<text x="712" y="332.9" font-size="10" text-anchor="middle" >100</text>
<text x="587.9" y="324.9" font-size="9.8" text-anchor="end" >99.0</text>
<text x="587.9" y="305.65" font-size="9.8" text-anchor="end" >99.5</text>
<text x="587.9" y="286.4" font-size="9.8" text-anchor="end" >100.0</text>
<rect x="36.9" y="17.7" width="187.6" height="132.6" fill="none" stroke="#000" stroke-width="1.5"/>
<rect x="281" y="17.7" width="187.6" height="132.6" fill="none" stroke="#000" stroke-width="1.5"/>
<rect x="534.2" y="17.7" width="187.6" height="132.6" fill="none" stroke="#000" stroke-width="1.5"/>
<rect x="36.9" y="203.7" width="187.6" height="132.6" fill="none" stroke="#000" stroke-width="1.5"/>
<rect x="281" y="203.7" width="187.6" height="132.6" fill="none" stroke="#000" stroke-width="1.5"/>
<rect x="534.2" y="203.7" width="187.6" height="132.6" fill="none" stroke="#000" stroke-width="1.5"/>
</svg>
</body></html>
